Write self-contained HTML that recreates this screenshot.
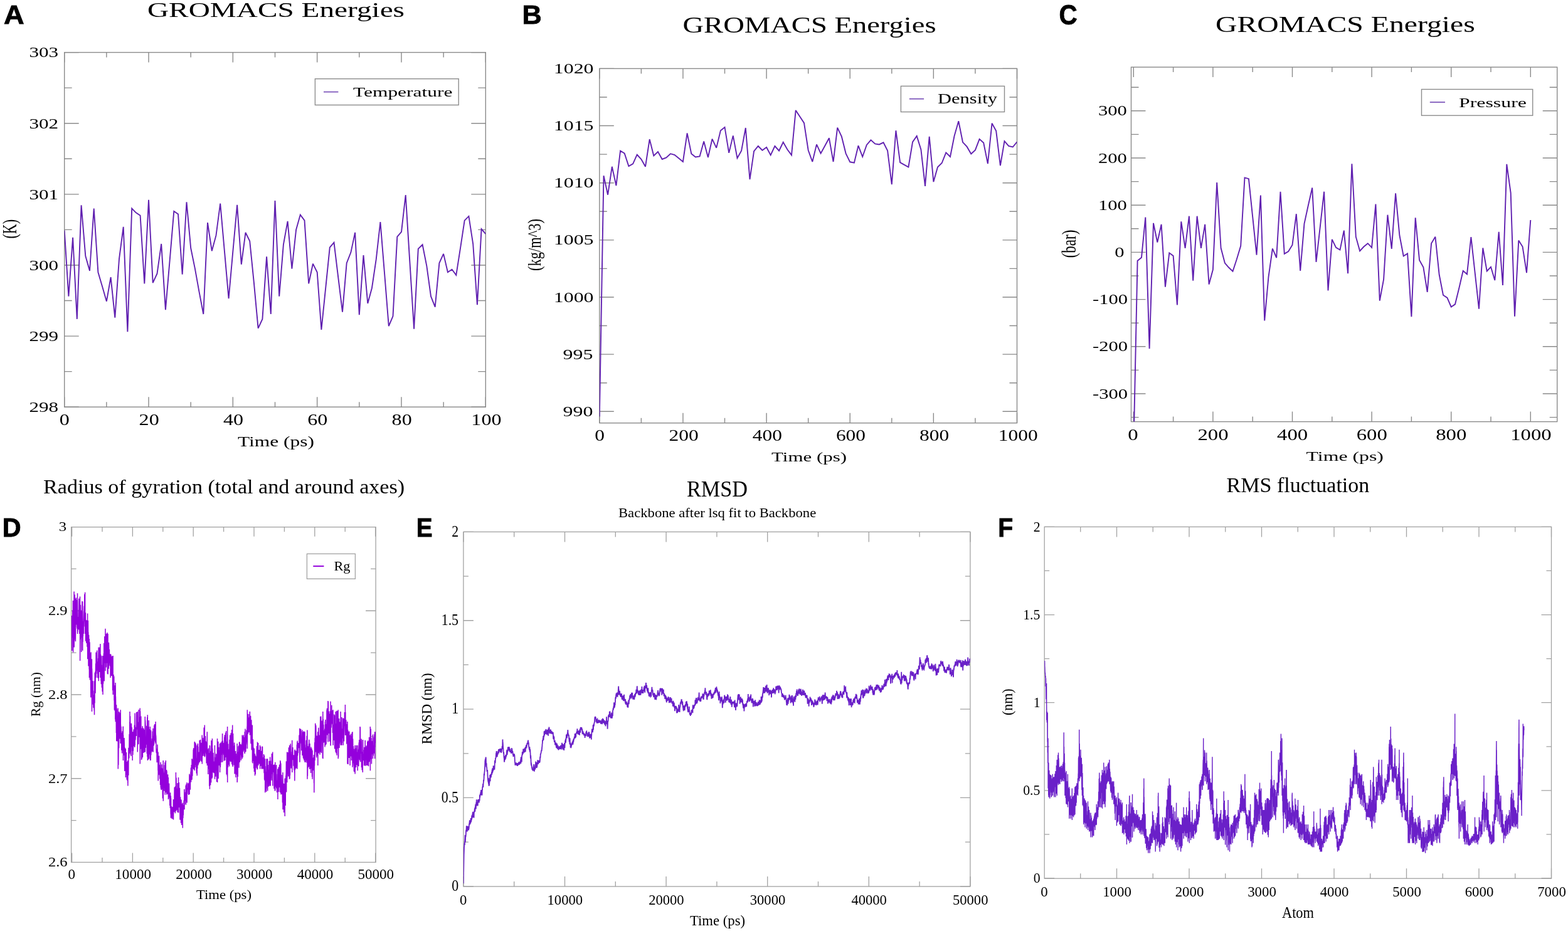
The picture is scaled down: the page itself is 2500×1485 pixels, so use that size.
<!DOCTYPE html>
<html><head><meta charset="utf-8"><title>GROMACS MD analysis</title><style>html,body{margin:0;padding:0;background:#fff;overflow:hidden}svg{display:block}</style></head><body>
<svg xmlns="http://www.w3.org/2000/svg" width="2500" height="1485" viewBox="0 0 2500 1485">
<rect width="100%" height="100%" fill="#fff"/>
<defs>
<clipPath id="clipA"><rect x="102.70" y="83.60" width="671.60" height="565.60"/></clipPath>
<clipPath id="clipB"><rect x="955.80" y="109.40" width="665.70" height="565.30"/></clipPath>
<clipPath id="clipC"><rect x="1803.50" y="107.10" width="679.20" height="565.50"/></clipPath>
<clipPath id="clipD"><rect x="113.60" y="840.70" width="485.50" height="534.70"/></clipPath>
<clipPath id="clipE"><rect x="738.90" y="848.40" width="808.00" height="565.60"/></clipPath>
<clipPath id="clipF"><rect x="1665.20" y="840.40" width="808.30" height="560.80"/></clipPath>
</defs>
<path d="M102.70 649.20V633.20M102.70 83.60V99.60M169.86 649.20V641.20M169.86 83.60V91.60M237.02 649.20V633.20M237.02 83.60V99.60M304.18 649.20V641.20M304.18 83.60V91.60M371.34 649.20V633.20M371.34 83.60V99.60M438.50 649.20V641.20M438.50 83.60V91.60M505.66 649.20V633.20M505.66 83.60V99.60M572.82 649.20V641.20M572.82 83.60V91.60M639.98 649.20V633.20M639.98 83.60V99.60M707.14 649.20V641.20M707.14 83.60V91.60M774.30 649.20V633.20M774.30 83.60V99.60M102.70 649.20H125.70M774.30 649.20H751.30M102.70 592.64H114.70M774.30 592.64H762.30M102.70 536.08H125.70M774.30 536.08H751.30M102.70 479.52H114.70M774.30 479.52H762.30M102.70 422.96H125.70M774.30 422.96H751.30M102.70 366.40H114.70M774.30 366.40H762.30M102.70 309.84H125.70M774.30 309.84H751.30M102.70 253.28H114.70M774.30 253.28H762.30M102.70 196.72H125.70M774.30 196.72H751.30M102.70 140.16H114.70M774.30 140.16H762.30M102.70 83.60H125.70M774.30 83.60H751.30" stroke="#8a8a8a" stroke-width="1.4" fill="none"/>
<rect x="102.70" y="83.60" width="671.60" height="565.60" stroke="#8a8a8a" stroke-width="1.4" fill="none"/>
<path d="M955.80 674.70V658.70M955.80 109.40V125.40M1022.37 674.70V666.70M1022.37 109.40V117.40M1088.94 674.70V658.70M1088.94 109.40V125.40M1155.51 674.70V666.70M1155.51 109.40V117.40M1222.08 674.70V658.70M1222.08 109.40V125.40M1288.65 674.70V666.70M1288.65 109.40V117.40M1355.22 674.70V658.70M1355.22 109.40V125.40M1421.79 674.70V666.70M1421.79 109.40V117.40M1488.36 674.70V658.70M1488.36 109.40V125.40M1554.93 674.70V666.70M1554.93 109.40V117.40M1621.50 674.70V658.70M1621.50 109.40V125.40M955.80 656.30H978.80M1621.50 656.30H1598.50M955.80 610.72H967.80M1621.50 610.72H1609.50M955.80 565.15H978.80M1621.50 565.15H1598.50M955.80 519.57H967.80M1621.50 519.57H1609.50M955.80 474.00H978.80M1621.50 474.00H1598.50M955.80 428.42H967.80M1621.50 428.42H1609.50M955.80 382.85H978.80M1621.50 382.85H1598.50M955.80 337.27H967.80M1621.50 337.27H1609.50M955.80 291.70H978.80M1621.50 291.70H1598.50M955.80 246.12H967.80M1621.50 246.12H1609.50M955.80 200.55H978.80M1621.50 200.55H1598.50M955.80 154.97H967.80M1621.50 154.97H1609.50M955.80 109.40H978.80M1621.50 109.40H1598.50" stroke="#8a8a8a" stroke-width="1.4" fill="none"/>
<rect x="955.80" y="109.40" width="665.70" height="565.30" stroke="#8a8a8a" stroke-width="1.4" fill="none"/>
<path d="M1807.30 672.60V656.60M1807.30 107.10V123.10M1870.60 672.60V664.60M1870.60 107.10V115.10M1933.90 672.60V656.60M1933.90 107.10V123.10M1997.20 672.60V664.60M1997.20 107.10V115.10M2060.50 672.60V656.60M2060.50 107.10V123.10M2123.80 672.60V664.60M2123.80 107.10V115.10M2187.10 672.60V656.60M2187.10 107.10V123.10M2250.40 672.60V664.60M2250.40 107.10V115.10M2313.70 672.60V656.60M2313.70 107.10V123.10M2377.00 672.60V664.60M2377.00 107.10V115.10M2440.30 672.60V656.60M2440.30 107.10V123.10M1803.50 665.60H1815.50M2482.70 665.60H2470.70M1803.50 628.00H1826.50M2482.70 628.00H2459.70M1803.50 590.40H1815.50M2482.70 590.40H2470.70M1803.50 552.80H1826.50M2482.70 552.80H2459.70M1803.50 515.20H1815.50M2482.70 515.20H2470.70M1803.50 477.60H1826.50M2482.70 477.60H2459.70M1803.50 440.00H1815.50M2482.70 440.00H2470.70M1803.50 402.40H1826.50M2482.70 402.40H2459.70M1803.50 364.80H1815.50M2482.70 364.80H2470.70M1803.50 327.20H1826.50M2482.70 327.20H2459.70M1803.50 289.60H1815.50M2482.70 289.60H2470.70M1803.50 252.00H1826.50M2482.70 252.00H2459.70M1803.50 214.40H1815.50M2482.70 214.40H2470.70M1803.50 176.80H1826.50M2482.70 176.80H2459.70M1803.50 139.20H1815.50M2482.70 139.20H2470.70" stroke="#8a8a8a" stroke-width="1.4" fill="none"/>
<rect x="1803.50" y="107.10" width="679.20" height="565.50" stroke="#8a8a8a" stroke-width="1.4" fill="none"/>
<path d="M114.60 1375.40V1360.40M114.60 840.70V855.70M163.00 1375.40V1367.90M163.00 840.70V848.20M211.40 1375.40V1360.40M211.40 840.70V855.70M259.80 1375.40V1367.90M259.80 840.70V848.20M308.20 1375.40V1360.40M308.20 840.70V855.70M356.60 1375.40V1367.90M356.60 840.70V848.20M405.00 1375.40V1360.40M405.00 840.70V855.70M453.40 1375.40V1367.90M453.40 840.70V848.20M501.80 1375.40V1360.40M501.80 840.70V855.70M550.20 1375.40V1367.90M550.20 840.70V848.20M598.60 1375.40V1360.40M598.60 840.70V855.70M113.60 1308.62H121.60M599.10 1308.62H591.10M113.60 1241.75H129.60M599.10 1241.75H583.10M113.60 1174.88H121.60M599.10 1174.88H591.10M113.60 1108.00H129.60M599.10 1108.00H583.10M113.60 1041.12H121.60M599.10 1041.12H591.10M113.60 974.25H129.60M599.10 974.25H583.10M113.60 907.37H121.60M599.10 907.37H591.10" stroke="#a2a2a2" stroke-width="1.3" fill="none"/>
<rect x="113.60" y="840.70" width="485.50" height="534.70" stroke="#a2a2a2" stroke-width="1.3" fill="none"/>
<path d="M738.90 1414.00V1398.00M738.90 848.40V864.40M819.70 1414.00V1406.00M819.70 848.40V856.40M900.50 1414.00V1398.00M900.50 848.40V864.40M981.30 1414.00V1406.00M981.30 848.40V856.40M1062.10 1414.00V1398.00M1062.10 848.40V864.40M1142.90 1414.00V1406.00M1142.90 848.40V856.40M1223.70 1414.00V1398.00M1223.70 848.40V864.40M1304.50 1414.00V1406.00M1304.50 848.40V856.40M1385.30 1414.00V1398.00M1385.30 848.40V864.40M1466.10 1414.00V1406.00M1466.10 848.40V856.40M1546.90 1414.00V1398.00M1546.90 848.40V864.40M738.90 1413.80H754.90M1546.90 1413.80H1530.90M738.90 1343.12H746.90M1546.90 1343.12H1538.90M738.90 1272.45H754.90M1546.90 1272.45H1530.90M738.90 1201.78H746.90M1546.90 1201.78H1538.90M738.90 1131.10H754.90M1546.90 1131.10H1530.90M738.90 1060.42H746.90M1546.90 1060.42H1538.90M738.90 989.75H754.90M1546.90 989.75H1530.90M738.90 919.08H746.90M1546.90 919.08H1538.90M738.90 848.40H754.90M1546.90 848.40H1530.90" stroke="#a2a2a2" stroke-width="1.3" fill="none"/>
<rect x="738.90" y="848.40" width="808.00" height="565.60" stroke="#a2a2a2" stroke-width="1.3" fill="none"/>
<path d="M1722.75 1401.20V1393.20M1722.75 840.40V848.40M1780.50 1401.20V1385.20M1780.50 840.40V856.40M1838.25 1401.20V1393.20M1838.25 840.40V848.40M1896.00 1401.20V1385.20M1896.00 840.40V856.40M1953.75 1401.20V1393.20M1953.75 840.40V848.40M2011.50 1401.20V1385.20M2011.50 840.40V856.40M2069.25 1401.20V1393.20M2069.25 840.40V848.40M2127.00 1401.20V1385.20M2127.00 840.40V856.40M2184.75 1401.20V1393.20M2184.75 840.40V848.40M2242.50 1401.20V1385.20M2242.50 840.40V856.40M2300.25 1401.20V1393.20M2300.25 840.40V848.40M2358.00 1401.20V1385.20M2358.00 840.40V856.40M2415.75 1401.20V1393.20M2415.75 840.40V848.40M2473.50 1401.20V1385.20M2473.50 840.40V856.40M1665.20 1401.00H1681.20M2473.50 1401.00H2457.50M1665.20 1330.92H1673.20M2473.50 1330.92H2465.50M1665.20 1260.85H1681.20M2473.50 1260.85H2457.50M1665.20 1190.78H1673.20M2473.50 1190.78H2465.50M1665.20 1120.70H1681.20M2473.50 1120.70H2457.50M1665.20 1050.62H1673.20M2473.50 1050.62H2465.50M1665.20 980.55H1681.20M2473.50 980.55H2457.50M1665.20 910.47H1673.20M2473.50 910.47H2465.50M1665.20 840.40H1681.20M2473.50 840.40H2457.50" stroke="#a2a2a2" stroke-width="1.3" fill="none"/>
<rect x="1665.20" y="840.40" width="808.30" height="560.80" stroke="#a2a2a2" stroke-width="1.3" fill="none"/>
<polyline points="102.7,367.5 109.4,472.7 116.1,378.8 122.8,508.9 129.6,327.4 136.3,408.3 143.0,432.0 149.7,332.5 156.4,434.3 163.1,456.9 169.9,480.7 176.6,442.2 183.3,506.7 190.0,412.8 196.7,361.9 203.4,529.3 210.2,332.5 216.9,339.3 223.6,343.8 230.3,452.4 237.0,318.9 243.7,451.2 250.5,436.5 257.2,389.0 263.9,494.2 270.6,416.2 277.3,337.0 284.0,341.5 290.7,437.7 297.5,322.3 304.2,395.8 310.9,428.6 317.6,465.9 324.3,501.0 331.0,355.1 337.8,400.3 344.5,375.4 351.2,324.5 357.9,400.3 364.6,476.1 371.3,401.5 378.1,326.8 384.8,421.8 391.5,370.9 398.2,384.5 404.9,451.2 411.6,523.6 418.4,508.9 425.1,409.4 431.8,501.0 438.5,320.0 445.2,472.7 451.9,390.2 458.6,352.8 465.4,428.6 472.1,366.4 478.8,342.6 485.5,351.7 492.2,452.4 498.9,420.7 505.7,434.3 512.4,525.9 519.1,460.3 525.8,394.7 532.5,386.8 539.2,442.2 546.0,497.6 552.7,419.6 559.4,402.6 566.1,370.9 572.8,502.1 579.5,407.1 586.3,484.0 593.0,459.2 599.7,413.9 606.4,354.0 613.1,436.5 619.8,520.2 626.5,504.4 633.3,377.7 640.0,369.8 646.7,311.0 653.4,418.4 660.1,524.8 666.8,396.9 673.6,390.2 680.3,424.1 687.0,472.7 693.7,489.7 700.4,419.6 707.1,404.9 713.9,434.3 720.6,429.7 727.3,438.8 734.0,395.8 740.7,351.7 747.4,344.9 754.2,389.0 760.9,486.3 767.6,365.3 774.3,373.2" fill="none" stroke="#6020b0" stroke-width="1.9" stroke-linejoin="miter" stroke-miterlimit="3" clip-path="url(#clipA)"/>
<polyline points="955.8,664.5 962.5,280.2 969.1,310.7 975.8,265.8 982.4,296.1 989.1,240.5 995.7,244.7 1002.4,265.1 1009.1,261.4 1015.7,246.7 1022.4,254.0 1029.0,265.8 1035.7,222.2 1042.3,248.5 1049.0,242.1 1055.7,254.0 1062.3,251.4 1069.0,245.2 1075.6,247.0 1082.3,252.5 1088.9,258.0 1095.6,212.4 1102.3,245.2 1108.9,250.5 1115.6,249.4 1122.2,225.5 1128.9,251.0 1135.5,221.7 1142.2,235.9 1148.9,208.2 1155.5,202.9 1162.2,243.9 1168.8,216.4 1175.5,252.3 1182.1,240.5 1188.8,204.0 1195.5,286.2 1202.1,241.2 1208.8,233.0 1215.4,239.7 1222.1,235.0 1228.7,247.4 1235.4,233.0 1242.1,240.5 1248.7,226.8 1255.4,238.5 1262.0,247.4 1268.7,175.9 1275.3,186.0 1282.0,196.2 1288.7,239.7 1295.3,258.0 1302.0,230.4 1308.6,244.7 1315.3,232.5 1321.9,220.2 1328.6,258.0 1335.2,203.6 1341.9,217.9 1348.6,244.8 1355.2,258.3 1361.9,259.6 1368.5,232.3 1375.2,250.0 1381.8,231.2 1388.5,223.3 1395.2,229.4 1401.8,230.4 1408.5,227.3 1415.1,240.3 1421.8,294.1 1428.4,208.2 1435.1,259.1 1441.8,262.9 1448.4,266.5 1455.1,226.4 1461.7,217.0 1468.4,238.5 1475.0,296.8 1481.7,217.9 1488.4,290.1 1495.0,266.5 1501.7,260.0 1508.3,243.4 1515.0,250.0 1521.6,216.8 1528.3,193.3 1535.0,226.8 1541.6,233.9 1548.3,245.4 1554.9,239.4 1561.6,221.9 1568.2,227.7 1574.9,261.1 1581.6,196.7 1588.2,208.8 1594.9,264.2 1601.5,225.2 1608.2,232.8 1614.8,234.5 1621.5,226.3" fill="none" stroke="#6020b0" stroke-width="1.9" stroke-linejoin="miter" stroke-miterlimit="3" clip-path="url(#clipB)"/>
<polyline points="1807.3,718.2 1813.6,416.0 1820.0,410.7 1826.3,346.5 1832.6,556.3 1839.0,355.9 1845.3,386.5 1851.6,357.9 1857.9,457.7 1864.3,403.5 1870.6,408.0 1876.9,486.4 1883.3,353.3 1889.6,395.9 1895.9,344.7 1902.2,447.7 1908.6,344.7 1914.9,395.9 1921.2,357.9 1927.6,453.6 1933.9,430.0 1940.2,291.0 1946.6,395.5 1952.9,419.5 1959.2,426.8 1965.5,432.7 1971.9,413.2 1978.2,392.4 1984.5,283.4 1990.9,285.2 1997.2,345.8 2003.5,406.6 2009.9,311.6 2016.2,511.4 2022.5,441.5 2028.9,396.5 2035.2,411.2 2041.5,305.7 2047.8,404.9 2054.2,401.1 2060.5,390.7 2066.8,341.2 2073.2,432.0 2079.5,356.8 2085.8,327.7 2092.2,299.5 2098.5,418.0 2104.8,361.9 2111.1,305.7 2117.5,463.4 2123.8,381.9 2130.1,394.9 2136.5,398.6 2142.8,367.7 2149.1,436.2 2155.4,261.2 2161.8,377.7 2168.1,400.3 2174.4,393.5 2180.8,388.2 2187.1,394.9 2193.4,325.5 2199.8,479.7 2206.1,445.6 2212.4,342.7 2218.8,397.0 2225.1,308.4 2231.4,375.3 2237.7,408.5 2244.1,404.5 2250.4,505.2 2256.7,347.4 2263.1,415.0 2269.4,426.4 2275.7,465.9 2282.1,388.2 2288.4,377.7 2294.7,438.3 2301.0,470.7 2307.4,474.9 2313.7,489.5 2320.0,485.3 2326.4,459.3 2332.7,432.0 2339.0,437.3 2345.4,378.2 2351.7,435.4 2358.0,492.6 2364.3,395.5 2370.7,432.5 2377.0,425.8 2383.3,447.1 2389.7,369.8 2396.0,455.0 2402.3,261.9 2408.7,307.8 2415.0,504.7 2421.3,383.6 2427.6,393.5 2434.0,435.2 2440.3,351.0" fill="none" stroke="#6020b0" stroke-width="1.9" stroke-linejoin="miter" stroke-miterlimit="3" clip-path="url(#clipC)"/>
<polyline points="114.6,982.1 114.8,1038.1 115.0,990.7 115.2,1002.5 115.4,1005.1 115.6,988.9 115.8,973.4 116.0,1017.2 116.2,1009.4 116.4,958.1 116.6,1040.4 116.8,1019.5 117.0,977.7 117.2,1015.5 117.4,981.6 117.6,989.9 117.8,1009.0 118.0,957.9 118.1,943.5 118.2,1032.4 118.2,1001.8 118.4,1021.1 118.6,1018.6 118.8,979.6 119.0,1007.4 119.2,948.6 119.4,982.0 119.6,995.5 119.8,954.9 120.0,982.8 120.2,1021.9 120.4,1023.2 120.6,1000.1 120.8,1000.7 121.0,962.9 121.2,957.6 121.4,953.4 121.6,992.7 121.8,996.4 122.0,968.2 122.2,957.0 122.4,985.3 122.6,986.0 122.8,977.3 123.0,1002.7 123.2,977.3 123.4,977.5 123.5,946.2 123.6,1010.9 123.6,959.2 123.8,983.0 124.0,1007.4 124.2,984.1 124.4,985.5 124.6,994.2 124.8,992.3 125.0,999.2 125.2,1000.8 125.4,1004.1 125.6,972.8 125.8,999.6 126.0,954.8 126.2,1001.5 126.4,964.1 126.6,995.4 126.8,1010.9 127.0,988.5 127.2,1003.5 127.4,956.4 127.5,951.6 127.6,978.7 127.6,1054.0 127.8,1021.6 128.0,970.7 128.2,1019.7 128.4,964.8 128.6,977.8 128.8,973.0 129.0,1001.5 129.2,1014.7 129.4,974.2 129.6,996.2 129.8,1040.1 130.0,992.7 130.2,980.7 130.4,1008.9 130.6,994.5 130.8,983.5 131.0,959.0 131.2,1017.2 131.4,986.5 131.6,959.6 131.6,998.6 131.7,1037.8 131.8,974.9 132.0,1024.0 132.2,1011.1 132.4,1014.8 132.6,991.1 132.8,1001.9 133.0,1009.4 133.2,1010.9 133.4,995.5 133.6,987.0 133.8,980.1 134.0,971.6 134.2,966.5 134.4,991.0 134.6,978.4 134.8,947.8 135.0,978.1 135.2,999.6 135.4,973.9 135.6,944.8 135.6,944.8 135.7,1010.9 135.8,977.3 136.0,995.8 136.2,987.0 136.4,977.2 136.6,1020.8 136.8,1022.8 137.0,988.8 137.2,1007.8 137.4,1001.7 137.6,1011.0 137.8,1025.8 138.0,1015.6 138.2,1003.3 138.4,990.7 138.6,989.4 138.8,1006.6 139.0,1031.8 139.2,1016.7 139.4,1013.7 139.6,1019.6 139.6,978.5 139.7,1051.3 139.8,1017.6 140.0,1030.2 140.2,1000.3 140.4,989.8 140.6,1019.2 140.8,1008.3 141.0,1062.4 141.2,1032.2 141.4,1033.1 141.6,1012.8 141.8,1047.8 142.0,1034.6 142.2,1067.4 142.3,1018.9 142.4,1064.9 142.4,1080.9 142.6,1039.1 142.8,1062.1 143.0,1024.2 143.2,1046.7 143.4,1084.4 143.6,1078.3 143.8,1068.8 144.0,1067.0 144.2,1041.7 144.4,1044.6 144.6,1078.5 144.8,1112.5 145.0,1040.2 145.2,1093.7 145.4,1095.5 145.6,1105.4 145.8,1067.6 146.0,1077.1 146.2,1092.1 146.4,1051.3 146.4,1069.5 146.5,1134.9 146.6,1066.4 146.8,1075.6 147.0,1094.6 147.2,1105.1 147.4,1097.6 147.6,1100.7 147.8,1086.4 148.0,1086.9 148.2,1123.8 148.4,1102.1 148.6,1102.6 148.8,1122.1 149.0,1128.1 149.2,1129.2 149.4,1115.0 149.6,1108.3 149.8,1114.8 150.0,1113.9 150.2,1133.5 150.4,1117.5 150.4,1086.3 150.5,1140.2 150.6,1119.3 150.8,1105.7 151.0,1121.5 151.2,1073.3 151.4,1099.5 151.6,1100.5 151.8,1071.6 152.0,1105.7 152.2,1076.9 152.4,1072.9 152.6,1058.2 152.8,1077.3 153.0,1065.7 153.1,1040.5 153.2,1054.1 153.2,1080.9 153.4,1063.2 153.6,1068.5 153.8,1074.8 154.0,1063.0 154.2,1048.7 154.4,1053.5 154.6,1037.6 154.8,1050.9 155.0,1069.6 155.2,1066.1 155.4,1058.5 155.6,1055.3 155.8,1081.3 156.0,1063.7 156.2,1072.4 156.4,1065.2 156.6,1050.0 156.8,1082.0 157.0,1041.3 157.2,1032.4 157.2,1041.6 157.3,1086.3 157.4,1052.6 157.6,1047.7 157.8,1049.9 158.0,1048.8 158.2,1071.9 158.4,1057.7 158.6,1061.7 158.8,1032.6 159.0,1043.2 159.2,1071.4 159.4,1037.1 159.6,1072.0 159.8,1038.8 159.9,1027.0 160.0,1080.9 160.0,1059.2 160.2,1043.2 160.4,1060.0 160.6,1044.5 160.8,1055.4 161.0,1086.3 161.2,1055.7 161.4,1091.2 161.6,1056.6 161.8,1046.3 162.0,1067.3 162.2,1060.6 162.4,1096.8 162.6,1083.5 162.8,1090.0 163.0,1082.2 163.2,1103.2 163.4,1087.3 163.6,1084.1 163.8,1062.2 163.9,1045.9 164.0,1060.5 164.0,1107.9 164.2,1077.1 164.4,1089.2 164.6,1089.3 164.8,1051.6 165.0,1075.3 165.2,1067.4 165.4,1042.3 165.6,1069.0 165.8,1025.7 166.0,1060.7 166.2,1086.5 166.4,1033.7 166.6,1050.3 166.8,1015.1 167.0,1032.3 167.2,1057.8 167.4,1022.9 167.6,1039.4 167.8,1031.4 168.0,1002.8 168.0,1029.5 168.1,1070.2 168.2,1040.4 168.4,1046.2 168.6,1060.2 168.8,1053.2 169.0,1027.9 169.2,1064.4 169.4,1061.7 169.6,1010.8 169.8,1051.7 170.0,1054.9 170.2,1057.7 170.4,1050.4 170.6,1017.5 170.8,1036.4 171.0,1008.9 171.2,1039.1 171.4,1074.8 171.6,1054.7 171.8,1057.8 172.0,1010.9 172.0,1034.1 172.1,1075.6 172.2,1026.5 172.4,1026.9 172.6,1048.1 172.8,1033.9 173.0,1037.7 173.2,1066.7 173.4,1024.8 173.6,1031.2 173.8,1044.2 174.0,1051.2 174.2,1051.7 174.4,1035.7 174.6,1057.9 174.8,1054.7 175.0,1061.6 175.2,1045.3 175.4,1061.9 175.6,1062.5 175.8,1053.8 176.0,1059.6 176.0,1043.2 176.1,1080.9 176.2,1056.8 176.4,1078.3 176.6,1043.6 176.8,1048.0 177.0,1045.2 177.2,1061.7 177.4,1058.5 177.6,1062.5 177.8,1078.1 178.0,1047.0 178.2,1058.2 178.4,1067.6 178.6,1053.9 178.8,1077.7 179.0,1078.0 179.2,1062.6 179.4,1046.2 179.6,1101.2 179.8,1083.7 180.0,1083.8 180.1,1045.9 180.2,1107.9 180.2,1079.4 180.4,1080.2 180.6,1096.6 180.8,1084.3 181.0,1075.9 181.2,1100.9 181.4,1092.0 181.6,1079.9 181.8,1079.8 182.0,1117.2 182.2,1110.3 182.4,1132.6 182.6,1094.8 182.8,1093.2 183.0,1114.9 183.2,1133.7 183.4,1122.5 183.6,1121.8 183.8,1147.6 184.0,1106.0 184.1,1089.0 184.2,1099.6 184.2,1151.0 184.4,1110.8 184.6,1121.1 184.8,1136.7 185.0,1152.1 185.2,1143.4 185.4,1168.9 185.6,1124.2 185.8,1182.3 186.0,1129.4 186.2,1175.5 186.4,1131.6 186.6,1163.4 186.8,1159.6 187.0,1173.6 187.2,1182.4 187.4,1161.7 187.6,1168.2 187.8,1178.9 188.0,1141.3 188.2,1129.5 188.2,1158.4 188.3,1226.5 188.4,1134.7 188.6,1176.1 188.8,1220.2 189.0,1192.1 189.2,1152.7 189.4,1155.9 189.6,1193.2 189.8,1160.0 190.0,1135.2 190.2,1147.3 190.4,1146.3 190.6,1146.7 190.8,1178.5 191.0,1166.1 191.2,1137.3 191.4,1153.6 191.6,1143.0 191.8,1141.7 192.0,1136.8 192.2,1185.1 192.2,1132.2 192.3,1186.1 192.4,1155.8 192.6,1170.3 192.8,1175.9 193.0,1158.7 193.2,1173.6 193.4,1175.1 193.6,1171.7 193.8,1196.7 194.0,1175.3 194.2,1169.0 194.4,1183.3 194.6,1201.4 194.8,1191.1 195.0,1170.6 195.2,1166.3 195.4,1166.6 195.6,1171.9 195.8,1188.8 196.0,1196.9 196.2,1158.8 196.3,1159.1 196.4,1213.0 196.4,1186.9 196.6,1172.6 196.8,1200.2 197.0,1205.0 197.2,1182.2 197.4,1188.5 197.6,1183.0 197.8,1203.4 198.0,1177.1 198.2,1185.5 198.4,1193.2 198.6,1220.7 198.8,1230.0 199.0,1207.4 199.2,1192.4 199.4,1211.2 199.6,1200.4 199.8,1219.2 200.0,1200.6 200.2,1211.6 200.3,1194.2 200.4,1240.0 200.4,1217.4 200.6,1224.9 200.8,1218.4 201.0,1235.9 201.2,1222.7 201.4,1200.1 201.6,1234.2 201.8,1220.5 202.0,1217.0 202.2,1243.6 202.4,1215.1 202.6,1228.5 202.8,1220.4 203.0,1245.0 203.2,1226.3 203.4,1234.0 203.6,1216.7 203.8,1249.2 203.8,1213.0 203.9,1253.5 204.0,1216.8 204.2,1236.0 204.4,1234.8 204.6,1232.6 204.8,1236.7 205.0,1192.8 205.2,1210.3 205.4,1202.6 205.6,1202.7 205.8,1209.2 206.0,1190.0 206.2,1171.1 206.4,1178.6 206.6,1202.1 206.8,1151.6 207.0,1169.3 207.0,1134.9 207.1,1199.5 207.2,1150.9 207.4,1188.5 207.6,1142.3 207.8,1165.8 208.0,1170.6 208.2,1175.7 208.4,1204.1 208.6,1200.6 208.8,1161.2 209.0,1206.1 209.2,1161.6 209.4,1153.8 209.6,1160.0 209.8,1185.8 210.0,1191.5 210.2,1160.2 210.4,1192.1 210.6,1183.9 210.8,1197.7 211.0,1184.8 211.1,1167.2 211.2,1213.0 211.2,1200.7 211.4,1195.1 211.6,1171.6 211.8,1203.9 212.0,1186.7 212.2,1192.1 212.4,1197.8 212.6,1167.1 212.8,1177.5 213.0,1166.4 213.2,1163.4 213.4,1178.2 213.6,1177.9 213.8,1190.1 214.0,1189.6 214.2,1169.0 214.4,1156.4 214.6,1191.9 214.8,1190.7 215.0,1162.5 215.1,1137.5 215.2,1150.1 215.2,1188.8 215.4,1157.4 215.6,1167.7 215.8,1180.5 216.0,1178.5 216.2,1170.8 216.4,1160.7 216.6,1167.2 216.8,1160.0 217.0,1166.2 217.2,1163.6 217.4,1173.9 217.6,1135.9 217.8,1160.1 218.0,1161.2 218.2,1147.1 218.4,1163.5 218.6,1148.4 218.8,1155.2 219.0,1161.9 219.2,1134.9 219.2,1162.7 219.3,1199.5 219.4,1157.2 219.6,1188.3 219.8,1172.0 220.0,1174.8 220.2,1173.5 220.4,1156.0 220.6,1151.8 220.8,1187.1 221.0,1162.9 221.2,1133.1 221.4,1131.9 221.6,1176.1 221.8,1155.3 222.0,1170.4 222.2,1159.8 222.4,1163.2 222.6,1168.9 222.8,1143.6 223.0,1173.1 223.2,1198.0 223.2,1129.5 223.3,1218.4 223.4,1191.0 223.6,1134.2 223.8,1144.7 224.0,1146.1 224.2,1170.9 224.4,1194.8 224.6,1183.8 224.8,1142.4 225.0,1179.2 225.2,1193.9 225.4,1170.8 225.6,1212.0 225.8,1168.7 226.0,1200.1 226.2,1210.4 226.4,1161.4 226.6,1177.0 226.8,1190.7 227.0,1208.3 227.2,1159.1 227.3,1159.1 227.4,1207.6 227.4,1190.5 227.6,1186.2 227.8,1176.0 228.0,1169.6 228.2,1173.2 228.4,1175.7 228.6,1161.4 228.8,1201.1 229.0,1162.3 229.2,1171.4 229.4,1167.3 229.6,1170.3 229.8,1177.1 230.0,1163.9 230.2,1171.0 230.4,1199.9 230.6,1189.4 230.8,1168.3 231.0,1186.1 231.2,1159.6 231.3,1142.9 231.4,1199.5 231.4,1174.9 231.6,1148.9 231.8,1153.5 232.0,1158.0 232.2,1192.9 232.4,1176.6 232.6,1182.3 232.8,1175.9 233.0,1179.9 233.2,1181.2 233.4,1187.7 233.6,1177.2 233.8,1157.8 234.0,1160.2 234.2,1197.9 234.4,1202.2 234.6,1186.4 234.8,1144.0 235.0,1207.1 235.2,1182.9 235.3,1140.2 235.4,1175.3 235.4,1213.0 235.6,1177.6 235.8,1170.5 236.0,1211.9 236.2,1210.5 236.4,1159.3 236.6,1176.1 236.8,1185.5 237.0,1203.3 237.2,1148.9 237.4,1197.6 237.6,1210.4 237.8,1176.7 238.0,1182.0 238.2,1203.6 238.4,1189.7 238.6,1162.9 238.8,1166.3 239.0,1169.2 239.2,1164.1 239.4,1159.1 239.4,1185.9 239.5,1213.0 239.6,1179.4 239.8,1188.3 240.0,1164.5 240.0,1198.0 240.1,1213.0 240.2,1211.7 240.4,1190.7 240.6,1165.0 240.8,1204.5 241.0,1185.6 241.2,1200.4 241.4,1181.2 241.6,1189.5 241.8,1184.3 242.0,1185.2 242.2,1198.5 242.4,1178.1 242.6,1186.1 242.8,1186.3 243.0,1180.2 243.2,1167.0 243.4,1186.4 243.4,1167.2 243.5,1199.5 243.6,1165.7 243.8,1166.8 244.0,1176.0 244.0,1161.8 244.1,1199.5 244.2,1184.5 244.4,1188.3 244.6,1187.3 244.8,1184.3 245.0,1173.9 245.2,1189.4 245.4,1173.7 245.6,1187.2 245.8,1157.1 246.0,1165.1 246.2,1168.3 246.4,1173.4 246.6,1155.0 246.8,1180.3 247.0,1181.4 247.2,1178.8 247.4,1165.4 247.6,1184.0 247.8,1163.9 248.0,1177.4 248.1,1151.0 248.2,1186.1 248.2,1169.3 248.4,1172.4 248.6,1173.7 248.8,1177.7 249.0,1192.0 249.2,1198.3 249.4,1201.1 249.6,1198.3 249.8,1198.5 250.0,1198.9 250.2,1216.3 250.4,1194.2 250.6,1194.6 250.8,1205.1 251.0,1187.6 251.2,1207.1 251.4,1211.8 251.6,1202.6 251.8,1210.7 252.0,1229.2 252.1,1199.5 252.2,1219.6 252.2,1245.4 252.4,1224.1 252.6,1236.7 252.8,1216.9 253.0,1211.1 253.2,1225.3 253.4,1231.7 253.6,1205.4 253.8,1235.7 254.0,1224.8 254.2,1224.3 254.4,1219.7 254.6,1228.4 254.8,1242.4 255.0,1238.0 255.2,1241.8 255.4,1229.0 255.6,1251.9 255.8,1248.9 256.0,1235.0 256.2,1215.7 256.2,1215.7 256.3,1256.1 256.4,1237.0 256.6,1258.4 256.8,1236.6 257.0,1225.0 257.2,1260.1 257.4,1230.6 257.6,1245.8 257.8,1250.2 258.0,1219.3 258.2,1242.4 258.4,1258.7 258.6,1236.6 258.8,1252.1 259.0,1242.1 259.2,1259.5 259.4,1273.4 259.6,1225.4 259.8,1239.4 260.0,1251.7 260.2,1234.0 260.2,1213.0 260.3,1277.7 260.4,1230.4 260.6,1238.6 260.8,1239.7 261.0,1232.8 261.2,1249.2 261.4,1256.9 261.6,1255.4 261.8,1253.8 262.0,1261.7 262.2,1220.2 262.4,1239.9 262.6,1244.3 262.8,1249.2 263.0,1216.1 263.2,1267.8 263.4,1226.8 263.6,1243.6 263.8,1250.1 264.0,1254.6 264.2,1229.0 264.3,1213.0 264.4,1264.2 264.4,1231.7 264.6,1245.3 264.8,1249.1 265.0,1254.2 265.2,1242.3 265.4,1235.1 265.6,1228.1 265.8,1267.5 266.0,1230.0 266.2,1256.1 266.4,1251.9 266.6,1258.3 266.8,1261.3 267.0,1266.4 267.2,1251.7 267.4,1257.5 267.6,1235.3 267.8,1255.6 268.0,1247.1 268.2,1255.6 268.3,1240.0 268.4,1270.2 268.4,1275.0 268.6,1260.7 268.8,1271.7 269.0,1260.7 269.2,1268.0 269.4,1261.6 269.6,1249.5 269.8,1261.6 270.0,1267.4 270.2,1273.0 270.4,1273.0 270.6,1273.2 270.8,1285.0 271.0,1283.4 271.2,1275.0 271.4,1288.7 271.6,1264.2 271.8,1280.5 272.0,1283.3 272.2,1298.7 272.3,1269.6 272.4,1282.1 272.4,1304.7 272.6,1273.4 272.8,1289.4 273.0,1304.0 273.2,1286.1 273.4,1287.4 273.6,1286.6 273.8,1289.2 274.0,1301.1 274.2,1305.9 274.4,1293.7 274.6,1288.6 274.8,1306.3 275.0,1290.8 275.2,1290.7 275.4,1287.1 275.6,1287.7 275.8,1292.9 276.0,1288.4 276.2,1294.9 276.4,1275.0 276.4,1292.1 276.5,1307.4 276.6,1295.0 276.8,1284.7 277.0,1285.0 277.2,1288.2 277.4,1285.0 277.6,1284.0 277.8,1295.2 278.0,1267.1 278.2,1255.7 278.4,1286.7 278.6,1272.7 278.8,1293.1 279.0,1271.9 279.2,1254.7 279.4,1297.3 279.6,1275.1 279.8,1260.4 280.0,1254.0 280.2,1274.1 280.4,1251.9 280.4,1231.9 280.5,1293.9 280.6,1270.0 280.8,1283.3 281.0,1240.5 281.2,1258.2 281.4,1272.4 281.6,1292.3 281.8,1280.3 282.0,1257.7 282.2,1289.4 282.4,1259.9 282.6,1263.3 282.8,1272.4 283.0,1248.9 283.2,1295.7 283.4,1286.1 283.6,1270.8 283.8,1258.6 284.0,1249.6 284.2,1273.9 284.4,1279.2 284.5,1240.0 284.6,1296.6 284.6,1263.1 284.8,1267.5 285.0,1280.0 285.2,1272.1 285.4,1248.0 285.6,1284.9 285.8,1280.2 286.0,1288.0 286.2,1269.2 286.4,1256.7 286.6,1265.8 286.8,1286.8 287.0,1306.7 287.2,1307.5 287.4,1290.5 287.6,1271.3 287.8,1285.6 288.0,1295.6 288.2,1296.6 288.4,1294.2 288.5,1275.0 288.6,1308.1 288.6,1312.7 288.8,1285.2 289.0,1276.0 289.2,1286.4 289.4,1283.8 289.6,1316.0 289.8,1295.1 290.0,1282.2 290.2,1304.8 290.4,1309.6 290.6,1299.7 290.8,1301.8 291.0,1311.5 291.2,1306.4 291.2,1280.4 291.3,1320.8 291.4,1291.2 291.6,1303.4 291.8,1305.0 292.0,1296.8 292.2,1300.3 292.4,1295.3 292.6,1285.1 292.8,1284.1 293.0,1289.6 293.2,1276.5 293.4,1290.6 293.6,1289.1 293.8,1259.7 293.9,1258.8 294.0,1274.2 294.0,1291.2 294.2,1267.6 294.4,1268.1 294.6,1274.5 294.8,1271.2 295.0,1277.1 295.2,1274.5 295.4,1274.4 295.6,1263.6 295.8,1266.9 296.0,1282.4 296.2,1252.7 296.4,1283.7 296.6,1262.9 296.8,1277.8 297.0,1250.6 297.2,1262.5 297.4,1273.3 297.6,1266.5 297.8,1273.7 298.0,1248.1 298.0,1256.3 298.1,1280.4 298.2,1258.4 298.4,1256.9 298.6,1266.6 298.8,1265.5 299.0,1259.7 299.2,1257.7 299.4,1256.8 299.6,1259.5 299.8,1249.6 300.0,1256.9 300.2,1255.5 300.4,1251.3 300.6,1250.3 300.8,1267.9 301.0,1248.6 301.2,1257.1 301.4,1264.9 301.6,1258.7 301.8,1251.6 302.0,1234.6 302.0,1259.7 302.1,1266.9 302.2,1236.9 302.4,1237.4 302.6,1243.6 302.8,1244.0 303.0,1243.9 303.2,1259.7 303.4,1257.3 303.6,1240.8 303.8,1242.2 304.0,1230.7 304.2,1240.4 304.4,1224.4 304.6,1247.6 304.8,1229.3 305.0,1237.7 305.2,1219.9 305.4,1242.7 305.6,1234.6 305.8,1244.1 306.0,1227.3 306.0,1210.3 306.1,1242.7 306.2,1211.0 306.4,1217.5 306.6,1211.9 306.8,1237.8 307.0,1215.6 307.2,1213.2 307.4,1225.7 307.6,1221.4 307.8,1222.9 308.0,1211.3 308.2,1195.9 308.4,1199.7 308.6,1193.2 308.8,1227.3 309.0,1222.3 309.2,1206.3 309.4,1217.2 309.6,1216.9 309.8,1215.5 310.0,1213.4 310.1,1183.4 310.2,1229.2 310.2,1217.7 310.4,1207.9 310.6,1184.1 310.8,1184.3 311.0,1224.0 311.2,1215.8 311.4,1185.1 311.6,1211.1 311.8,1197.8 312.0,1202.4 312.2,1186.2 312.4,1220.2 312.6,1209.4 312.8,1221.5 313.0,1225.5 313.2,1228.5 313.4,1233.6 313.6,1216.0 313.8,1215.4 314.0,1204.3 314.1,1188.8 314.2,1219.8 314.2,1237.3 314.4,1208.9 314.6,1196.1 314.8,1225.9 315.0,1218.8 315.2,1186.6 315.4,1186.2 315.6,1205.0 315.8,1191.0 316.0,1220.5 316.2,1207.6 316.4,1211.2 316.6,1214.5 316.8,1218.0 317.0,1199.6 317.2,1208.5 317.4,1203.8 317.6,1208.6 317.8,1205.3 318.0,1213.0 318.2,1180.7 318.2,1203.6 318.3,1215.7 318.4,1193.5 318.6,1199.3 318.8,1186.4 319.0,1201.1 319.2,1213.5 319.4,1191.1 319.6,1179.7 319.8,1196.4 320.0,1191.6 320.2,1197.0 320.4,1190.2 320.6,1197.7 320.8,1184.8 321.0,1214.8 321.2,1193.7 321.4,1202.5 321.6,1205.4 321.8,1194.1 322.0,1201.5 322.2,1192.6 322.2,1172.6 322.3,1218.4 322.4,1189.4 322.6,1191.6 322.8,1200.1 323.0,1176.7 323.2,1180.6 323.4,1181.2 323.6,1183.7 323.8,1205.8 324.0,1189.4 324.2,1185.0 324.4,1190.4 324.6,1202.2 324.8,1176.9 325.0,1200.5 325.2,1160.6 325.4,1172.9 325.6,1205.1 325.8,1205.7 326.0,1186.0 326.2,1176.6 326.3,1156.4 326.4,1207.6 326.4,1194.6 326.6,1177.7 326.8,1206.2 327.0,1201.7 327.2,1196.4 327.4,1173.9 327.6,1200.6 327.8,1183.7 328.0,1184.5 328.2,1182.4 328.4,1187.4 328.6,1197.0 328.8,1202.7 329.0,1203.4 329.2,1217.5 329.4,1187.2 329.6,1210.0 329.8,1183.7 330.0,1191.3 330.2,1177.5 330.3,1167.2 330.4,1221.1 330.4,1214.0 330.6,1201.3 330.8,1200.9 331.0,1198.5 331.2,1216.5 331.4,1195.3 331.6,1211.4 331.8,1235.1 332.0,1205.5 332.2,1198.8 332.4,1193.4 332.6,1226.6 332.8,1215.1 333.0,1201.9 333.2,1201.8 333.4,1218.9 333.6,1201.3 333.8,1253.8 334.0,1219.2 334.2,1220.9 334.3,1188.8 334.4,1223.4 334.4,1258.8 334.6,1189.6 334.8,1195.9 335.0,1216.0 335.2,1221.7 335.4,1198.2 335.6,1252.4 335.8,1228.4 336.0,1243.1 336.2,1240.0 336.4,1213.7 336.6,1248.3 336.8,1218.5 337.0,1181.8 337.2,1181.1 337.4,1214.1 337.6,1228.6 337.8,1213.8 338.0,1241.8 338.2,1205.9 338.4,1178.0 338.4,1220.1 338.5,1240.0 338.6,1223.3 338.8,1193.7 339.0,1216.6 339.2,1217.8 339.4,1230.2 339.6,1232.3 339.8,1228.8 340.0,1200.7 340.2,1225.2 340.4,1230.8 340.6,1214.5 340.8,1226.1 341.0,1226.6 341.2,1233.3 341.4,1216.4 341.6,1222.8 341.8,1218.9 342.0,1217.2 342.2,1207.3 342.4,1211.8 342.4,1188.8 342.5,1242.7 342.6,1199.9 342.8,1213.6 343.0,1227.1 343.2,1226.1 343.4,1228.1 343.6,1214.3 343.8,1238.7 344.0,1208.3 344.2,1228.6 344.4,1222.7 344.6,1202.6 344.8,1203.1 345.0,1228.4 345.2,1215.8 345.4,1219.9 345.6,1246.9 345.8,1225.3 346.0,1216.9 346.2,1228.5 346.4,1202.9 346.5,1178.0 346.6,1248.1 346.6,1210.9 346.8,1222.4 347.0,1198.8 347.2,1213.1 347.4,1210.1 347.6,1215.1 347.8,1182.8 348.0,1241.9 348.2,1211.1 348.4,1221.1 348.6,1195.8 348.8,1191.7 349.0,1212.0 349.2,1206.7 349.4,1220.6 349.6,1198.0 349.8,1197.2 350.0,1215.0 350.2,1219.5 350.4,1221.9 350.5,1186.1 350.6,1209.2 350.6,1231.9 350.8,1212.1 351.0,1198.0 351.2,1223.8 351.4,1220.8 351.6,1219.6 351.8,1184.6 352.0,1215.1 352.2,1194.0 352.4,1208.6 352.6,1207.0 352.8,1216.1 353.0,1197.5 353.2,1194.8 353.4,1185.6 353.6,1182.6 353.8,1204.0 354.0,1184.5 354.2,1203.5 354.4,1189.5 354.6,1169.9 354.6,1186.5 354.7,1215.7 354.8,1205.6 355.0,1204.3 355.2,1181.4 355.4,1191.5 355.6,1193.4 355.8,1201.6 356.0,1184.7 356.2,1188.5 356.4,1192.1 356.6,1201.7 356.8,1204.0 357.0,1187.2 357.2,1213.8 357.4,1198.3 357.6,1184.3 357.8,1175.8 358.0,1187.8 358.2,1172.3 358.4,1195.4 358.6,1172.6 358.6,1199.6 358.7,1213.0 358.8,1208.9 359.0,1200.7 359.2,1172.7 359.4,1191.8 359.6,1206.3 359.8,1168.6 360.0,1184.4 360.2,1208.1 360.4,1199.4 360.6,1165.9 360.8,1190.3 361.0,1200.5 361.2,1235.6 361.4,1192.3 361.6,1182.8 361.8,1207.7 362.0,1210.4 362.2,1216.6 362.4,1238.2 362.6,1203.1 362.6,1159.1 362.7,1248.1 362.8,1171.6 363.0,1204.8 363.2,1203.7 363.4,1223.9 363.6,1220.0 363.8,1186.4 364.0,1216.4 364.2,1219.7 364.4,1196.4 364.6,1216.3 364.8,1201.7 365.0,1201.2 365.2,1195.3 365.4,1209.4 365.6,1222.4 365.8,1199.1 366.0,1179.8 366.2,1191.9 366.4,1187.2 366.6,1197.3 366.7,1172.6 366.8,1213.0 366.8,1191.7 367.0,1213.6 367.2,1201.9 367.4,1214.4 367.6,1183.7 367.8,1189.7 368.0,1215.6 368.2,1169.2 368.4,1193.8 368.6,1169.6 368.8,1213.9 369.0,1170.2 369.2,1186.5 369.4,1188.2 369.6,1163.9 369.8,1219.2 370.0,1187.6 370.2,1218.0 370.4,1178.0 370.6,1164.1 370.7,1156.4 370.8,1194.0 370.8,1221.1 371.0,1194.8 371.2,1223.0 371.4,1176.6 371.6,1169.9 371.8,1185.6 372.0,1203.1 372.2,1208.4 372.4,1189.7 372.6,1197.2 372.8,1211.7 373.0,1220.6 373.2,1198.2 373.4,1209.6 373.6,1184.4 373.8,1197.9 374.0,1217.3 374.0,1188.8 374.1,1234.6 374.2,1212.2 374.4,1210.3 374.6,1234.2 374.8,1209.3 375.0,1198.5 375.2,1216.7 375.4,1216.9 375.6,1197.9 375.8,1229.1 376.0,1240.0 376.2,1206.3 376.4,1202.1 376.6,1214.4 376.8,1235.4 377.0,1207.3 377.2,1204.8 377.4,1207.1 377.6,1221.0 377.8,1220.9 378.0,1214.7 378.1,1186.1 378.2,1248.1 378.2,1237.5 378.4,1245.5 378.6,1206.2 378.8,1230.8 379.0,1217.8 379.2,1239.1 379.4,1199.3 379.6,1206.3 379.8,1211.6 380.0,1190.5 380.2,1205.7 380.4,1216.4 380.6,1189.3 380.8,1207.3 381.0,1224.7 381.2,1197.6 381.4,1193.8 381.6,1183.7 381.8,1200.3 382.0,1185.6 382.1,1183.4 382.2,1204.7 382.2,1215.7 382.4,1214.2 382.6,1204.0 382.8,1191.3 383.0,1204.2 383.2,1193.4 383.4,1186.8 383.6,1192.2 383.8,1198.8 384.0,1192.7 384.2,1200.9 384.4,1212.7 384.6,1201.0 384.8,1202.0 385.0,1187.5 385.2,1207.1 385.4,1196.9 385.6,1203.2 385.8,1184.6 386.0,1194.6 386.2,1172.6 386.2,1172.6 386.3,1210.3 386.4,1187.7 386.6,1182.4 386.8,1180.4 387.0,1208.1 387.2,1174.4 387.4,1188.2 387.6,1187.9 387.8,1194.4 388.0,1198.8 388.2,1172.3 388.4,1182.6 388.6,1180.7 388.8,1194.2 389.0,1196.2 389.2,1182.6 389.4,1181.0 389.6,1176.1 389.8,1189.2 390.0,1201.4 390.2,1188.6 390.2,1167.2 390.3,1202.2 390.4,1176.9 390.6,1174.2 390.8,1174.1 391.0,1162.4 391.2,1199.5 391.4,1179.4 391.6,1173.5 391.8,1199.1 392.0,1178.2 392.2,1194.0 392.4,1177.0 392.6,1187.6 392.8,1172.2 393.0,1164.6 393.2,1175.2 393.4,1179.0 393.6,1184.1 393.8,1169.1 394.0,1160.6 394.2,1157.4 394.3,1132.2 394.4,1194.2 394.4,1168.2 394.6,1154.5 394.8,1156.8 395.0,1170.2 395.2,1170.2 395.4,1168.3 395.6,1149.1 395.8,1138.8 396.0,1163.1 396.2,1160.4 396.4,1153.2 396.6,1160.6 396.8,1168.3 397.0,1154.4 397.2,1161.3 397.4,1144.3 397.6,1152.9 397.8,1145.7 398.0,1138.8 398.2,1158.6 398.3,1134.9 398.4,1135.4 398.4,1172.6 398.6,1155.5 398.8,1166.4 399.0,1163.9 399.2,1142.9 399.4,1165.5 399.6,1141.8 399.8,1154.6 400.0,1185.8 400.2,1171.1 400.4,1186.4 400.6,1157.1 400.8,1148.2 401.0,1164.6 401.2,1195.7 401.4,1192.3 401.6,1196.5 401.8,1179.5 402.0,1182.0 402.2,1181.7 402.3,1156.4 402.4,1216.0 402.4,1215.7 402.6,1189.7 402.8,1217.4 403.0,1188.9 403.2,1213.9 403.4,1179.2 403.6,1189.5 403.8,1203.3 404.0,1192.2 404.2,1196.3 404.4,1201.3 404.6,1198.2 404.8,1225.7 405.0,1221.9 405.2,1193.8 405.4,1231.0 405.6,1213.0 405.8,1214.7 406.0,1215.0 406.2,1227.1 406.4,1202.2 406.4,1226.8 406.5,1237.3 406.6,1214.1 406.8,1219.0 407.0,1204.7 407.2,1235.1 407.4,1207.6 407.6,1206.4 407.8,1207.3 408.0,1215.6 408.2,1221.4 408.4,1208.8 408.6,1212.2 408.8,1207.5 409.0,1224.8 409.2,1212.3 409.4,1189.9 409.6,1225.2 409.8,1211.5 410.0,1227.6 410.2,1198.9 410.4,1199.5 410.4,1183.4 410.5,1226.5 410.6,1203.4 410.8,1189.1 411.0,1201.4 411.2,1220.4 411.4,1214.0 411.6,1184.9 411.8,1220.9 412.0,1210.4 412.2,1215.7 412.4,1207.1 412.6,1208.9 412.8,1207.5 413.0,1207.6 413.2,1195.9 413.4,1218.5 413.6,1209.8 413.8,1211.7 414.0,1211.4 414.2,1204.6 414.4,1207.3 414.5,1188.8 414.6,1226.5 414.6,1194.2 414.8,1210.8 415.0,1211.0 415.2,1205.8 415.4,1190.8 415.6,1222.0 415.8,1206.7 416.0,1208.3 416.2,1205.4 416.4,1202.7 416.6,1204.6 416.8,1197.7 417.0,1203.0 417.2,1226.5 417.4,1220.6 417.6,1226.5 417.8,1203.0 418.0,1191.1 418.2,1196.0 418.4,1191.4 418.5,1191.5 418.6,1220.5 418.6,1226.5 418.8,1223.6 419.0,1213.8 419.2,1218.1 419.4,1219.5 419.6,1215.7 419.8,1226.6 420.0,1208.1 420.2,1216.0 420.4,1220.8 420.6,1203.0 420.8,1212.7 421.0,1232.4 421.2,1232.8 421.4,1204.9 421.6,1243.5 421.8,1237.3 422.0,1244.7 422.2,1234.3 422.4,1245.3 422.6,1210.3 422.6,1218.6 422.7,1264.2 422.8,1234.6 423.0,1222.0 423.2,1230.0 423.4,1254.8 423.6,1261.3 423.8,1237.9 424.0,1230.9 424.2,1248.6 424.4,1243.8 424.6,1262.9 424.8,1246.1 425.0,1210.3 425.2,1237.8 425.4,1232.2 425.6,1225.3 425.8,1238.6 426.0,1237.5 426.2,1231.6 426.4,1257.8 426.6,1241.7 426.6,1210.3 426.7,1261.5 426.8,1241.9 427.0,1238.1 427.2,1252.5 427.4,1220.0 427.6,1251.7 427.8,1231.6 428.0,1254.7 428.2,1253.5 428.4,1240.7 428.6,1227.7 428.8,1237.2 429.0,1237.9 429.2,1213.8 429.4,1228.5 429.6,1223.3 429.8,1249.9 430.0,1253.7 430.2,1222.3 430.4,1224.7 430.6,1214.4 430.6,1207.6 430.7,1253.5 430.8,1234.2 431.0,1241.0 431.2,1253.5 431.4,1213.6 431.6,1242.2 431.8,1227.9 432.0,1220.1 432.2,1224.8 432.4,1218.9 432.6,1235.1 432.8,1228.8 433.0,1245.1 433.2,1221.1 433.4,1202.1 433.6,1214.0 433.8,1232.7 434.0,1206.4 434.2,1216.5 434.4,1235.0 434.6,1206.8 434.7,1199.5 434.8,1253.5 434.8,1239.7 435.0,1232.8 435.2,1220.0 435.4,1228.4 435.6,1222.5 435.8,1224.6 436.0,1226.2 436.2,1231.6 436.4,1230.7 436.6,1222.4 436.8,1219.8 437.0,1258.1 437.2,1219.6 437.4,1232.9 437.6,1251.4 437.8,1249.1 438.0,1227.3 438.2,1260.5 438.4,1260.4 438.6,1234.6 438.7,1215.7 438.8,1223.6 438.8,1261.5 439.0,1247.7 439.2,1238.0 439.4,1237.2 439.6,1231.3 439.8,1234.5 440.0,1244.8 440.2,1254.9 440.4,1220.2 440.6,1220.7 440.8,1257.6 441.0,1234.8 441.2,1255.3 441.4,1248.3 441.6,1263.9 441.8,1260.1 442.0,1245.1 442.2,1247.2 442.4,1254.2 442.6,1260.4 442.8,1226.5 442.8,1242.7 442.9,1275.0 443.0,1230.2 443.2,1251.2 443.4,1248.6 443.6,1246.5 443.8,1234.5 444.0,1255.6 444.2,1223.4 444.4,1239.6 444.6,1263.2 444.8,1229.8 445.0,1250.1 445.2,1250.0 445.4,1249.1 445.6,1219.5 445.8,1256.0 446.0,1243.4 446.2,1247.7 446.4,1244.5 446.6,1240.5 446.8,1256.2 446.8,1213.0 446.9,1264.2 447.0,1260.4 447.2,1214.8 447.4,1231.2 447.6,1241.1 447.8,1217.6 448.0,1267.3 448.2,1235.4 448.4,1256.4 448.6,1252.5 448.8,1247.0 449.0,1236.1 449.2,1247.1 449.4,1255.2 449.6,1267.1 449.8,1252.8 450.0,1250.9 450.2,1254.4 450.4,1280.3 450.6,1265.3 450.8,1250.8 450.9,1231.9 451.0,1291.2 451.0,1242.1 451.2,1256.6 451.4,1249.1 451.6,1257.7 451.8,1287.3 452.0,1277.1 452.2,1270.3 452.4,1273.8 452.6,1295.9 452.8,1250.1 453.0,1276.5 453.2,1266.6 453.4,1272.9 453.6,1272.4 453.8,1266.7 454.0,1281.4 454.1,1242.7 454.2,1302.0 454.2,1241.4 454.4,1273.3 454.6,1276.6 454.8,1248.2 455.0,1245.2 455.2,1285.0 455.4,1241.2 455.6,1246.4 455.8,1237.8 456.0,1237.5 456.2,1234.0 456.4,1214.3 456.6,1263.5 456.8,1225.2 457.0,1237.8 457.2,1228.7 457.4,1245.2 457.6,1233.5 457.6,1199.5 457.7,1248.1 457.8,1238.9 458.0,1239.1 458.2,1234.4 458.4,1223.1 458.6,1234.6 458.8,1200.0 459.0,1233.7 459.2,1230.7 459.4,1224.9 459.6,1201.6 459.8,1238.6 460.0,1209.9 460.2,1227.9 460.4,1192.2 460.6,1215.7 460.8,1208.5 461.0,1206.2 461.2,1207.3 461.4,1242.7 461.6,1215.7 461.6,1188.8 461.7,1242.7 461.8,1220.8 462.0,1241.7 462.2,1193.9 462.4,1236.7 462.6,1208.5 462.8,1204.3 463.0,1207.0 463.2,1186.3 463.4,1189.9 463.6,1195.2 463.8,1203.0 464.0,1220.8 464.2,1225.6 464.4,1204.4 464.6,1214.5 464.8,1214.9 465.0,1205.0 465.2,1211.0 465.4,1199.0 465.6,1214.6 465.7,1180.7 465.8,1231.9 465.8,1203.9 466.0,1208.3 466.2,1212.0 466.4,1211.2 466.6,1200.0 466.8,1192.1 467.0,1210.5 467.2,1204.3 467.4,1205.6 467.6,1212.2 467.8,1204.6 468.0,1221.1 468.2,1221.2 468.4,1204.3 468.6,1222.2 468.8,1205.1 469.0,1228.4 469.2,1227.7 469.4,1220.0 469.6,1232.7 469.7,1196.8 469.8,1234.6 469.8,1245.4 470.0,1226.1 470.2,1195.4 470.4,1220.4 470.6,1220.4 470.8,1227.4 471.0,1203.6 471.2,1224.4 471.4,1219.1 471.6,1218.9 471.8,1197.5 472.0,1201.4 472.2,1225.4 472.4,1220.8 472.6,1208.8 472.8,1222.2 473.0,1211.3 473.2,1202.4 473.4,1187.7 473.6,1217.8 473.8,1183.4 473.8,1203.3 473.9,1226.5 474.0,1206.9 474.2,1181.6 474.4,1195.9 474.6,1205.4 474.8,1197.8 475.0,1190.8 475.2,1185.0 475.4,1201.2 475.6,1192.8 475.8,1192.4 476.0,1192.1 476.2,1186.5 476.4,1189.9 476.6,1185.1 476.8,1193.2 477.0,1172.6 477.2,1175.6 477.4,1190.8 477.6,1187.2 477.8,1191.1 477.8,1161.8 477.9,1215.7 478.0,1215.2 478.2,1199.0 478.4,1204.1 478.6,1193.8 478.8,1186.1 479.0,1176.7 479.2,1162.7 479.4,1168.4 479.6,1163.0 479.8,1172.3 480.0,1166.3 480.2,1174.2 480.4,1185.9 480.6,1180.9 480.8,1196.3 481.0,1196.2 481.2,1197.2 481.4,1194.9 481.6,1187.9 481.8,1179.0 481.9,1164.5 482.0,1204.9 482.0,1189.9 482.2,1182.5 482.4,1183.3 482.6,1190.6 482.8,1173.7 483.0,1167.6 483.2,1190.7 483.4,1208.3 483.6,1201.0 483.8,1210.1 484.0,1171.2 484.2,1180.6 484.4,1166.2 484.6,1178.5 484.8,1212.8 485.0,1210.5 485.2,1177.2 485.4,1186.4 485.6,1180.2 485.8,1173.6 485.9,1167.2 486.0,1188.5 486.0,1215.7 486.2,1187.8 486.4,1194.3 486.6,1197.4 486.8,1204.6 487.0,1215.9 487.2,1194.1 487.4,1192.5 487.6,1196.7 487.8,1204.7 488.0,1195.4 488.2,1180.7 488.4,1189.5 488.6,1213.3 488.8,1180.6 489.0,1216.5 489.2,1173.7 489.4,1214.2 489.6,1214.7 489.8,1198.7 489.9,1164.5 490.0,1203.1 490.0,1242.7 490.2,1199.0 490.4,1237.7 490.6,1195.4 490.8,1190.2 491.0,1211.3 491.2,1224.5 491.4,1210.4 491.6,1202.2 491.8,1221.8 492.0,1192.8 492.2,1193.0 492.4,1186.6 492.6,1222.9 492.8,1179.7 493.0,1188.2 493.2,1209.0 493.4,1211.0 493.6,1226.8 493.8,1211.0 494.0,1186.1 494.0,1200.9 494.1,1226.5 494.2,1222.3 494.4,1219.5 494.6,1221.3 494.8,1221.0 495.0,1215.4 495.2,1193.7 495.4,1198.8 495.6,1232.9 495.8,1212.8 496.0,1191.4 496.2,1214.3 496.4,1225.7 496.6,1219.7 496.8,1215.8 497.0,1194.1 497.2,1217.7 497.4,1215.9 497.6,1238.9 497.8,1219.0 498.0,1219.0 498.0,1196.8 498.1,1242.7 498.2,1215.0 498.4,1220.1 498.6,1226.4 498.8,1217.0 499.0,1212.9 499.2,1208.7 499.4,1228.9 499.6,1223.1 499.8,1224.6 500.0,1207.5 500.2,1219.1 500.4,1203.9 500.6,1248.9 500.7,1204.9 500.8,1251.1 500.8,1264.2 501.0,1232.8 501.2,1218.8 501.4,1221.5 501.6,1187.2 501.8,1184.1 502.0,1213.1 502.2,1177.2 502.4,1184.5 502.6,1170.8 502.7,1153.7 502.8,1199.5 502.8,1154.1 503.0,1169.3 503.2,1189.1 503.4,1196.3 503.6,1156.7 503.8,1160.7 504.0,1174.5 504.2,1196.2 504.4,1200.2 504.6,1206.1 504.8,1208.5 505.0,1180.6 505.2,1173.6 505.4,1201.0 505.6,1185.4 505.8,1190.3 506.0,1185.7 506.2,1186.0 506.4,1205.7 506.6,1178.6 506.7,1167.2 506.8,1167.9 506.8,1221.1 507.0,1182.1 507.2,1192.8 507.4,1185.6 507.6,1186.9 507.8,1160.8 508.0,1173.6 508.2,1201.6 508.4,1181.8 508.6,1173.0 508.8,1199.1 509.0,1172.4 509.2,1191.2 509.4,1181.9 509.6,1183.6 509.8,1192.1 510.0,1203.7 510.2,1193.6 510.4,1159.8 510.6,1154.6 510.8,1142.9 510.8,1165.6 510.9,1199.5 511.0,1168.0 511.2,1181.9 511.4,1171.3 511.6,1174.1 511.8,1142.4 512.0,1170.1 512.2,1180.1 512.4,1200.9 512.6,1185.1 512.8,1172.8 513.0,1149.6 513.2,1171.1 513.4,1171.4 513.6,1168.6 513.8,1174.4 514.0,1181.3 514.2,1180.3 514.4,1209.2 514.6,1151.6 514.8,1139.2 514.8,1134.9 514.9,1210.3 515.0,1179.3 515.2,1147.0 515.4,1167.0 515.6,1169.3 515.8,1155.8 516.0,1184.6 516.2,1181.5 516.4,1172.5 516.6,1179.9 516.8,1183.6 517.0,1164.8 517.2,1178.3 517.4,1171.2 517.6,1169.0 517.8,1162.5 518.0,1191.5 518.2,1172.6 518.4,1151.0 518.6,1173.9 518.8,1148.1 518.9,1148.3 519.0,1188.8 519.0,1170.3 519.2,1175.3 519.4,1182.4 519.6,1167.2 519.8,1154.9 520.0,1187.3 520.2,1175.7 520.4,1178.6 520.6,1156.6 520.8,1168.3 521.0,1132.7 521.2,1164.6 521.4,1129.8 521.6,1139.7 521.8,1131.5 522.0,1172.4 522.2,1168.3 522.4,1142.2 522.6,1172.5 522.8,1151.7 522.9,1118.7 523.0,1118.7 523.0,1183.4 523.2,1143.1 523.4,1119.2 523.6,1151.6 523.8,1156.9 524.0,1137.1 524.2,1165.4 524.4,1170.0 524.6,1134.5 524.8,1161.5 525.0,1149.3 525.2,1146.1 525.4,1182.8 525.6,1138.4 525.8,1145.0 526.0,1150.6 526.2,1162.8 526.4,1166.8 526.6,1134.3 526.8,1178.6 527.0,1118.7 527.0,1187.7 527.1,1188.8 527.2,1188.8 527.4,1156.5 527.6,1144.2 527.8,1134.3 528.0,1160.7 528.2,1153.4 528.4,1154.0 528.6,1144.4 528.8,1124.8 529.0,1151.1 529.2,1153.5 529.4,1150.6 529.6,1133.3 529.8,1152.9 530.0,1155.4 530.2,1139.8 530.4,1168.9 530.6,1158.4 530.8,1161.4 531.0,1132.2 531.0,1165.8 531.1,1188.8 531.2,1156.0 531.4,1159.1 531.6,1169.1 531.8,1173.1 532.0,1175.7 532.2,1158.6 532.4,1174.5 532.6,1181.1 532.8,1139.4 533.0,1156.2 533.2,1162.9 533.4,1163.7 533.6,1194.5 533.8,1184.6 534.0,1162.4 534.2,1163.1 534.4,1141.0 534.6,1148.5 534.8,1189.8 535.0,1135.8 535.0,1134.9 535.1,1199.5 535.2,1177.9 535.4,1154.1 535.6,1161.4 535.8,1165.4 536.0,1201.6 536.2,1174.1 536.4,1177.6 536.6,1187.7 536.8,1133.7 537.0,1204.8 537.2,1135.7 537.4,1154.7 537.6,1183.1 537.8,1144.5 538.0,1133.9 538.2,1194.0 538.4,1163.5 538.6,1190.1 538.8,1180.9 539.0,1166.6 539.1,1132.2 539.2,1210.3 539.2,1206.7 539.4,1164.8 539.6,1207.6 539.8,1151.2 540.0,1148.9 540.2,1154.9 540.4,1172.5 540.6,1146.0 540.8,1154.0 541.0,1193.0 541.2,1169.5 541.4,1186.2 541.6,1171.7 541.8,1154.9 542.0,1151.6 542.2,1167.0 542.4,1164.7 542.6,1154.9 542.8,1154.0 543.0,1183.9 543.1,1134.9 543.2,1177.3 543.2,1188.8 543.4,1166.6 543.6,1157.6 543.8,1156.8 544.0,1188.8 544.2,1155.0 544.4,1188.8 544.6,1154.8 544.8,1143.9 545.0,1188.8 545.2,1163.1 545.4,1184.9 545.6,1170.9 545.8,1162.3 546.0,1177.7 546.2,1162.3 546.4,1171.6 546.6,1164.8 546.8,1145.4 547.0,1171.7 547.2,1145.6 547.2,1160.7 547.3,1188.8 547.4,1164.2 547.6,1169.6 547.8,1146.3 548.0,1168.9 548.2,1168.3 548.4,1182.6 548.6,1169.1 548.8,1161.9 549.0,1148.3 549.2,1155.0 549.4,1136.0 549.6,1158.2 549.8,1149.2 550.0,1145.8 550.2,1149.6 550.4,1154.2 550.4,1124.1 550.5,1172.6 550.6,1153.7 550.8,1135.9 551.0,1173.1 551.2,1156.8 551.4,1163.3 551.6,1160.6 551.8,1148.2 552.0,1168.7 552.2,1160.4 552.4,1155.0 552.6,1172.8 552.8,1185.5 553.0,1185.3 553.2,1180.3 553.4,1168.2 553.6,1175.2 553.8,1180.7 553.9,1151.0 554.0,1158.5 554.0,1218.4 554.2,1199.7 554.4,1187.4 554.6,1164.0 554.8,1212.7 555.0,1219.1 555.2,1166.6 555.4,1185.9 555.6,1175.8 555.8,1202.2 556.0,1169.0 556.2,1198.8 556.4,1197.6 556.6,1208.9 556.8,1166.4 557.0,1182.5 557.2,1191.3 557.4,1208.1 557.6,1196.6 557.8,1206.0 558.0,1172.6 558.0,1202.4 558.1,1221.1 558.2,1184.4 558.4,1194.7 558.6,1190.8 558.8,1191.8 559.0,1183.4 559.2,1206.5 559.4,1200.1 559.6,1170.4 559.8,1206.2 560.0,1187.6 560.2,1174.2 560.4,1213.1 560.6,1195.1 560.8,1200.5 561.0,1193.2 561.2,1194.6 561.4,1168.0 561.6,1206.5 561.8,1183.7 562.0,1167.2 562.0,1195.1 562.1,1223.8 562.2,1194.4 562.4,1181.9 562.6,1178.5 562.8,1195.9 563.0,1217.6 563.2,1190.2 563.4,1191.9 563.6,1202.7 563.8,1194.0 564.0,1221.3 564.2,1210.2 564.4,1230.2 564.6,1208.4 564.8,1231.3 565.0,1199.3 565.2,1210.9 565.4,1195.0 565.6,1204.7 565.8,1206.5 566.0,1218.9 566.0,1188.8 566.1,1234.6 566.2,1228.3 566.4,1208.0 566.6,1193.4 566.8,1211.0 567.0,1208.8 567.2,1204.9 567.4,1221.0 567.6,1224.1 567.8,1202.2 568.0,1202.0 568.2,1188.8 568.4,1202.8 568.6,1219.8 568.8,1199.4 569.0,1220.2 569.2,1217.4 569.4,1216.6 569.6,1216.7 569.8,1208.5 570.0,1220.7 570.1,1188.8 570.2,1229.2 570.2,1220.5 570.4,1211.5 570.6,1206.0 570.8,1220.6 571.0,1222.1 571.2,1195.5 571.4,1212.3 571.6,1201.6 571.8,1222.3 572.0,1194.5 572.2,1189.5 572.4,1184.3 572.6,1207.5 572.8,1179.9 573.0,1201.9 573.2,1184.8 573.4,1209.8 573.6,1212.2 573.8,1205.1 574.0,1160.0 574.1,1159.1 574.2,1165.7 574.2,1213.0 574.4,1160.6 574.6,1215.2 574.8,1181.4 575.0,1185.1 575.2,1192.8 575.4,1201.9 575.6,1189.3 575.8,1196.1 576.0,1196.0 576.2,1178.4 576.4,1223.6 576.6,1224.0 576.8,1200.6 577.0,1199.3 577.2,1227.4 577.4,1228.3 577.6,1204.9 577.8,1213.7 578.0,1200.4 578.2,1180.7 578.2,1211.7 578.3,1231.9 578.4,1180.7 578.6,1180.7 578.8,1212.4 579.0,1203.4 579.2,1211.0 579.4,1206.5 579.6,1213.1 579.8,1208.2 580.0,1202.5 580.2,1209.7 580.4,1195.9 580.6,1221.3 580.8,1191.8 581.0,1198.6 581.2,1213.8 581.4,1198.6 581.6,1213.7 581.8,1219.0 582.0,1210.9 582.2,1196.9 582.2,1180.7 582.3,1221.1 582.4,1221.1 582.6,1207.0 582.8,1191.4 583.0,1221.1 583.2,1204.2 583.4,1209.0 583.6,1212.2 583.8,1196.9 584.0,1212.2 584.2,1189.2 584.4,1192.1 584.6,1198.5 584.8,1221.1 585.0,1209.2 585.2,1215.3 585.4,1198.5 585.6,1208.7 585.8,1183.1 586.0,1200.6 586.2,1207.9 586.3,1183.4 586.4,1221.1 586.4,1197.0 586.6,1181.3 586.8,1183.4 587.0,1209.7 587.2,1218.5 587.4,1196.5 587.6,1222.3 587.8,1182.6 588.0,1209.0 588.2,1204.2 588.4,1215.4 588.6,1175.7 588.8,1214.7 589.0,1200.1 589.2,1183.3 589.4,1189.6 589.6,1193.2 589.8,1201.8 590.0,1180.3 590.2,1179.3 590.3,1159.1 590.4,1229.2 590.4,1197.2 590.6,1194.6 590.8,1204.2 591.0,1211.0 591.2,1162.5 591.4,1192.8 591.6,1198.0 591.8,1194.7 592.0,1177.0 592.2,1204.3 592.4,1218.6 592.6,1190.7 592.8,1182.0 593.0,1203.2 593.2,1192.9 593.4,1193.9 593.6,1195.0 593.8,1186.8 594.0,1191.8 594.2,1184.0 594.3,1172.6 594.4,1172.5 594.4,1210.3 594.6,1202.4 594.8,1194.4 595.0,1190.4 595.2,1205.5 595.4,1189.1 595.6,1203.0 595.8,1199.6 596.0,1187.0 596.2,1175.9 596.4,1195.3 596.6,1192.3 596.8,1201.3 597.0,1171.3 597.2,1187.8 597.4,1191.8 597.6,1167.2 597.6,1193.0 597.7,1210.3 597.8,1190.3 598.0,1192.6 598.2,1167.2 598.4,1185.2 598.6,1180.9" fill="none" stroke="#9400dc" stroke-width="1.5" stroke-linejoin="miter" stroke-miterlimit="3" clip-path="url(#clipD)"/>
<polyline points="738.8,1409.2 739.0,1399.6 739.2,1386.9 739.4,1374.9 739.6,1363.6 739.8,1357.9 740.0,1351.4 740.2,1350.3 740.4,1344.9 740.6,1346.8 740.8,1347.9 741.0,1344.4 741.2,1339.7 741.4,1336.2 741.6,1331.9 741.8,1343.5 742.0,1341.0 742.2,1335.3 742.4,1334.6 742.6,1334.0 742.8,1331.3 743.0,1325.1 743.2,1324.1 743.4,1323.5 743.6,1322.3 743.8,1317.4 744.0,1322.3 744.2,1323.5 744.4,1326.4 744.6,1321.5 744.8,1317.4 745.0,1326.6 745.2,1318.8 745.4,1319.6 745.6,1321.2 745.8,1318.5 746.0,1321.2 746.2,1320.8 746.4,1317.9 746.6,1322.1 746.8,1323.1 747.0,1324.3 747.2,1322.6 747.4,1322.2 747.6,1321.3 747.8,1319.3 748.0,1314.4 748.2,1314.8 748.4,1312.7 748.6,1311.3 748.8,1308.3 749.0,1309.3 749.2,1312.7 749.4,1315.1 749.6,1313.7 749.8,1309.9 750.0,1309.9 750.2,1309.0 750.4,1313.0 750.6,1305.0 750.8,1308.7 751.0,1307.3 751.2,1311.0 751.4,1309.0 751.6,1307.3 751.8,1306.2 752.0,1306.3 752.2,1300.6 752.4,1304.7 752.6,1305.8 752.8,1303.4 753.0,1300.6 753.2,1301.2 753.4,1297.9 753.6,1300.3 753.8,1294.8 754.0,1298.4 754.2,1303.9 754.4,1302.0 754.6,1300.6 754.8,1300.5 755.0,1298.5 755.2,1303.2 755.4,1300.5 755.6,1304.5 755.8,1295.7 756.0,1295.8 756.2,1295.1 756.4,1293.5 756.6,1293.8 756.8,1289.5 757.0,1292.4 757.2,1288.4 757.4,1294.6 757.6,1289.5 757.8,1286.4 758.0,1287.7 758.2,1283.0 758.4,1288.0 758.6,1286.4 758.8,1290.5 759.0,1283.4 759.2,1281.1 759.4,1280.0 759.6,1281.4 759.8,1275.2 760.0,1285.4 760.2,1278.8 760.4,1281.5 760.6,1279.8 760.8,1281.6 761.0,1281.6 761.2,1283.4 761.4,1280.8 761.6,1285.4 761.8,1283.2 762.0,1275.8 762.2,1276.6 762.4,1277.2 762.6,1275.2 762.8,1275.9 763.0,1278.6 763.2,1277.9 763.4,1274.7 763.6,1278.4 763.8,1280.5 764.0,1276.6 764.2,1275.1 764.4,1275.6 764.6,1277.5 764.8,1272.3 765.0,1267.8 765.2,1271.9 765.4,1268.8 765.6,1268.4 765.8,1265.8 766.0,1267.0 766.2,1266.8 766.4,1263.6 766.6,1263.3 766.8,1264.8 767.0,1260.0 767.2,1265.2 767.4,1266.4 767.6,1268.6 767.8,1266.2 768.0,1267.6 768.2,1268.4 768.4,1266.7 768.6,1266.9 768.8,1259.0 769.0,1260.6 769.2,1256.2 769.4,1255.1 769.6,1255.1 769.8,1254.3 770.0,1250.4 770.2,1255.9 770.4,1252.7 770.6,1249.5 770.8,1248.5 771.0,1243.7 771.2,1244.0 771.4,1244.2 771.6,1241.5 771.8,1233.9 772.0,1237.0 772.2,1235.4 772.4,1231.5 772.6,1230.7 772.8,1227.8 773.0,1224.0 773.2,1220.6 773.4,1212.9 773.6,1213.3 773.8,1210.5 774.0,1216.3 774.2,1212.9 774.4,1208.9 774.6,1207.6 774.8,1209.9 775.0,1218.7 775.2,1222.4 775.4,1223.3 775.6,1217.4 775.8,1223.4 776.0,1223.7 776.2,1224.6 776.4,1230.7 776.6,1229.6 776.8,1229.0 777.0,1228.8 777.2,1228.1 777.4,1234.5 777.6,1238.3 777.8,1241.0 778.0,1244.6 778.2,1245.1 778.4,1247.3 778.6,1240.7 778.8,1248.2 779.0,1250.2 779.2,1248.1 779.4,1252.5 779.6,1253.5 779.8,1252.5 780.0,1252.4 780.2,1248.4 780.4,1249.8 780.6,1241.6 780.8,1244.8 781.0,1244.0 781.2,1236.0 781.4,1241.7 781.6,1246.3 781.8,1236.1 782.0,1240.4 782.2,1236.0 782.4,1236.2 782.6,1237.3 782.8,1237.8 783.0,1238.1 783.2,1236.1 783.4,1235.9 783.6,1234.5 783.8,1233.1 784.0,1231.0 784.2,1235.8 784.4,1232.0 784.6,1227.6 784.8,1230.9 785.0,1233.2 785.2,1226.5 785.4,1226.6 785.6,1231.6 785.8,1226.6 786.0,1225.3 786.2,1229.2 786.4,1228.3 786.6,1221.3 786.8,1228.7 787.0,1225.9 787.2,1222.7 787.4,1226.6 787.6,1225.6 787.8,1221.7 788.0,1223.5 788.2,1221.5 788.4,1227.8 788.6,1223.2 788.8,1216.9 789.0,1212.9 789.2,1214.4 789.4,1216.4 789.6,1217.3 789.8,1213.5 790.0,1209.1 790.2,1209.7 790.4,1209.2 790.6,1208.8 790.8,1204.9 791.0,1202.3 791.2,1202.4 791.4,1200.6 791.6,1198.1 791.8,1200.5 792.0,1198.6 792.2,1206.5 792.4,1207.1 792.6,1205.7 792.8,1207.3 793.0,1203.7 793.2,1202.2 793.4,1202.2 793.6,1202.9 793.8,1202.9 794.0,1200.4 794.2,1199.8 794.4,1197.6 794.6,1198.9 794.8,1201.2 795.0,1195.0 795.2,1201.4 795.4,1198.5 795.6,1196.4 795.8,1197.8 796.0,1196.8 796.2,1196.0 796.4,1196.9 796.6,1194.4 796.8,1196.5 797.0,1196.3 797.2,1195.9 797.4,1197.3 797.6,1199.7 797.8,1198.0 798.0,1196.9 798.2,1193.9 798.4,1194.8 798.6,1194.1 798.8,1195.0 799.0,1200.8 799.2,1200.0 799.4,1196.2 799.6,1199.1 799.8,1197.5 800.0,1195.7 800.2,1194.9 800.4,1194.1 800.6,1190.2 800.8,1191.9 801.0,1194.9 801.2,1189.9 801.4,1179.4 801.6,1186.0 801.8,1185.8 802.0,1189.2 802.2,1192.8 802.4,1193.8 802.6,1200.0 802.8,1201.0 803.0,1202.2 803.2,1199.7 803.4,1206.1 803.6,1208.5 803.8,1209.1 804.0,1214.7 804.2,1215.5 804.4,1211.4 804.6,1208.1 804.8,1206.0 805.0,1207.6 805.2,1208.3 805.4,1210.5 805.6,1210.7 805.8,1210.0 806.0,1205.7 806.2,1203.8 806.4,1209.8 806.6,1204.5 806.8,1205.8 807.0,1206.8 807.2,1206.1 807.4,1205.5 807.6,1204.6 807.8,1200.1 808.0,1197.6 808.2,1196.9 808.4,1197.1 808.6,1203.9 808.8,1201.8 809.0,1199.5 809.2,1199.0 809.4,1198.9 809.6,1197.5 809.8,1191.7 810.0,1194.5 810.2,1191.4 810.4,1194.0 810.6,1194.5 810.8,1197.1 811.0,1195.7 811.2,1195.7 811.4,1194.2 811.6,1191.9 811.8,1191.4 812.0,1192.3 812.2,1197.7 812.4,1195.4 812.6,1197.2 812.8,1199.3 813.0,1195.1 813.2,1194.3 813.4,1195.3 813.6,1200.0 813.8,1196.6 814.0,1198.2 814.2,1198.3 814.4,1197.8 814.6,1198.0 814.8,1198.1 815.0,1201.9 815.2,1200.5 815.4,1198.7 815.6,1201.0 815.8,1193.1 816.0,1195.7 816.2,1198.0 816.4,1194.6 816.6,1199.5 816.8,1200.1 817.0,1197.5 817.2,1201.4 817.4,1198.5 817.6,1199.6 817.8,1204.0 818.0,1201.9 818.2,1204.7 818.4,1206.1 818.6,1206.0 818.8,1203.0 819.0,1204.9 819.2,1205.8 819.4,1205.1 819.6,1205.8 819.8,1205.9 820.0,1202.4 820.2,1205.7 820.4,1204.2 820.6,1208.8 820.8,1213.6 821.0,1216.0 821.2,1217.5 821.4,1220.7 821.6,1216.5 821.8,1218.0 822.0,1217.5 822.2,1220.6 822.4,1216.8 822.6,1216.4 822.8,1218.1 823.0,1217.3 823.2,1219.2 823.4,1218.7 823.6,1216.8 823.8,1220.8 824.0,1217.7 824.2,1218.4 824.4,1219.4 824.6,1218.4 824.8,1221.9 825.0,1220.0 825.2,1220.9 825.4,1220.4 825.6,1220.4 825.8,1217.0 826.0,1217.9 826.2,1219.7 826.4,1219.6 826.6,1217.8 826.8,1217.2 827.0,1216.5 827.2,1215.9 827.4,1215.6 827.6,1219.8 827.8,1218.9 828.0,1217.2 828.2,1217.5 828.4,1218.0 828.6,1219.3 828.8,1217.2 829.0,1215.4 829.2,1217.5 829.4,1214.6 829.6,1216.2 829.8,1213.2 830.0,1216.5 830.2,1211.1 830.4,1217.9 830.6,1207.6 830.8,1209.7 831.0,1209.1 831.2,1210.0 831.4,1211.7 831.6,1209.6 831.8,1215.4 832.0,1206.6 832.2,1205.5 832.4,1204.3 832.6,1202.9 832.8,1199.3 833.0,1204.3 833.2,1199.1 833.4,1201.0 833.6,1202.7 833.8,1199.5 834.0,1202.3 834.2,1194.6 834.4,1195.5 834.6,1194.8 834.8,1198.9 835.0,1200.6 835.2,1196.1 835.4,1197.5 835.6,1196.1 835.8,1196.9 836.0,1193.9 836.2,1194.4 836.4,1200.3 836.6,1194.9 836.8,1197.0 837.0,1195.2 837.2,1192.3 837.4,1197.1 837.6,1196.1 837.8,1199.2 838.0,1191.8 838.2,1191.4 838.4,1193.7 838.6,1194.2 838.8,1189.3 839.0,1188.8 839.2,1189.5 839.4,1188.2 839.6,1192.6 839.8,1189.3 840.0,1187.6 840.2,1189.3 840.4,1185.0 840.6,1186.2 840.8,1186.7 841.0,1184.8 841.2,1186.6 841.4,1184.3 841.6,1182.3 841.8,1185.6 842.0,1180.6 842.2,1183.4 842.4,1187.1 842.6,1185.4 842.8,1184.4 843.0,1190.1 843.2,1190.8 843.4,1192.7 843.6,1193.6 843.8,1193.4 844.0,1196.4 844.2,1192.4 844.4,1191.2 844.6,1194.1 844.8,1199.4 845.0,1197.7 845.2,1195.1 845.4,1199.3 845.6,1201.7 845.8,1208.8 846.0,1209.7 846.2,1204.8 846.4,1209.1 846.6,1215.1 846.8,1219.6 847.0,1216.6 847.2,1221.5 847.4,1219.0 847.6,1221.8 847.8,1222.0 848.0,1225.1 848.2,1224.1 848.4,1226.4 848.6,1227.8 848.8,1227.3 849.0,1227.2 849.2,1227.7 849.4,1227.0 849.6,1229.7 849.8,1228.4 850.0,1228.1 850.2,1226.7 850.4,1222.8 850.6,1224.8 850.8,1222.9 851.0,1222.0 851.2,1219.1 851.4,1220.3 851.6,1223.3 851.8,1230.5 852.0,1229.6 852.2,1224.6 852.4,1224.5 852.6,1226.7 852.8,1225.0 853.0,1225.4 853.2,1224.5 853.4,1227.1 853.6,1222.0 853.8,1219.9 854.0,1220.1 854.2,1214.5 854.4,1222.4 854.6,1221.0 854.8,1223.5 855.0,1223.8 855.2,1223.8 855.4,1221.4 855.6,1222.7 855.8,1225.0 856.0,1216.1 856.2,1222.5 856.4,1223.2 856.6,1218.6 856.8,1219.4 857.0,1216.8 857.2,1212.4 857.4,1214.9 857.6,1215.0 857.8,1216.5 858.0,1217.2 858.2,1218.9 858.4,1216.3 858.6,1213.1 858.8,1215.3 859.0,1212.8 859.2,1215.2 859.4,1213.4 859.6,1213.4 859.8,1213.0 860.0,1215.9 860.2,1216.9 860.4,1215.0 860.6,1215.0 860.8,1214.8 861.0,1209.1 861.2,1206.9 861.4,1209.2 861.6,1207.1 861.8,1202.1 862.0,1203.1 862.2,1202.3 862.4,1201.5 862.6,1200.6 862.8,1199.3 863.0,1197.7 863.2,1198.2 863.4,1196.0 863.6,1198.2 863.8,1195.7 864.0,1193.9 864.2,1191.7 864.4,1190.5 864.6,1186.2 864.8,1186.7 865.0,1180.4 865.2,1180.8 865.4,1180.9 865.6,1179.9 865.8,1177.5 866.0,1181.1 866.2,1174.1 866.4,1178.2 866.6,1180.1 866.8,1173.5 867.0,1175.8 867.2,1172.7 867.4,1175.7 867.6,1166.2 867.8,1172.0 868.0,1172.5 868.2,1173.0 868.4,1168.8 868.6,1167.5 868.8,1166.8 869.0,1166.0 869.2,1165.9 869.4,1165.3 869.6,1170.9 869.8,1168.1 870.0,1166.9 870.2,1164.6 870.4,1163.0 870.6,1164.1 870.8,1165.8 871.0,1170.5 871.2,1168.8 871.4,1166.7 871.6,1168.9 871.8,1172.0 872.0,1168.5 872.2,1165.8 872.4,1165.4 872.6,1165.6 872.8,1164.7 873.0,1164.0 873.2,1169.1 873.4,1168.8 873.6,1171.2 873.8,1167.2 874.0,1173.6 874.2,1167.6 874.4,1161.7 874.6,1167.5 874.8,1161.9 875.0,1168.1 875.2,1164.6 875.4,1159.6 875.6,1161.9 875.8,1162.0 876.0,1167.9 876.2,1168.3 876.4,1170.2 876.6,1165.0 876.8,1167.6 877.0,1165.1 877.2,1166.6 877.4,1166.4 877.6,1165.3 877.8,1164.4 878.0,1163.6 878.2,1168.8 878.4,1170.1 878.6,1168.0 878.8,1166.9 879.0,1165.8 879.2,1169.1 879.4,1170.5 879.6,1169.2 879.8,1169.5 880.0,1166.7 880.2,1168.1 880.4,1170.5 880.6,1169.7 880.8,1170.9 881.0,1170.2 881.2,1169.3 881.4,1170.3 881.6,1168.3 881.8,1168.0 882.0,1173.0 882.2,1178.8 882.4,1174.5 882.6,1174.9 882.8,1174.8 883.0,1179.5 883.2,1176.9 883.4,1175.1 883.6,1181.4 883.8,1182.8 884.0,1183.7 884.2,1182.8 884.4,1182.8 884.6,1183.5 884.8,1181.1 885.0,1188.3 885.2,1187.3 885.4,1185.4 885.6,1186.5 885.8,1185.2 886.0,1186.1 886.2,1188.9 886.4,1184.2 886.6,1187.4 886.8,1191.3 887.0,1192.4 887.2,1190.3 887.4,1191.9 887.6,1193.5 887.8,1189.3 888.0,1185.8 888.2,1190.0 888.4,1188.7 888.6,1189.6 888.8,1193.5 889.0,1194.7 889.2,1192.1 889.4,1188.6 889.6,1190.7 889.8,1194.3 890.0,1192.7 890.2,1194.4 890.4,1196.5 890.6,1194.6 890.8,1190.5 891.0,1192.5 891.2,1195.1 891.4,1194.6 891.6,1193.6 891.8,1191.3 892.0,1194.5 892.2,1192.5 892.4,1195.0 892.6,1191.6 892.8,1191.8 893.0,1191.8 893.2,1194.4 893.4,1194.1 893.6,1191.7 893.8,1189.9 894.0,1191.9 894.2,1188.5 894.4,1194.5 894.6,1192.6 894.8,1195.5 895.0,1193.1 895.2,1192.8 895.4,1191.3 895.6,1193.1 895.8,1188.0 896.0,1184.8 896.2,1186.6 896.4,1188.2 896.6,1186.6 896.8,1189.4 897.0,1187.0 897.2,1195.0 897.4,1195.3 897.6,1189.1 897.8,1190.2 898.0,1187.6 898.2,1188.0 898.4,1187.4 898.6,1188.1 898.8,1191.7 899.0,1191.2 899.2,1197.0 899.4,1189.7 899.6,1191.5 899.8,1187.1 900.0,1185.0 900.2,1187.6 900.4,1193.3 900.6,1186.2 900.8,1186.7 901.0,1184.9 901.2,1181.0 901.4,1183.5 901.6,1180.6 901.8,1178.7 902.0,1184.8 902.2,1180.9 902.4,1180.6 902.6,1176.6 902.8,1176.1 903.0,1171.6 903.2,1172.3 903.4,1173.1 903.6,1175.9 903.8,1171.3 904.0,1177.5 904.2,1173.2 904.4,1170.9 904.6,1171.2 904.8,1168.5 905.0,1170.3 905.2,1165.5 905.4,1164.2 905.6,1169.6 905.8,1170.0 906.0,1170.4 906.2,1174.2 906.4,1171.6 906.6,1172.5 906.8,1172.9 907.0,1174.2 907.2,1179.3 907.4,1175.9 907.6,1183.1 907.8,1181.1 908.0,1182.5 908.2,1181.6 908.4,1187.3 908.6,1177.2 908.8,1184.4 909.0,1185.7 909.2,1187.8 909.4,1184.4 909.6,1192.4 909.8,1187.2 910.0,1189.0 910.2,1186.4 910.4,1193.2 910.6,1191.0 910.8,1191.6 911.0,1189.5 911.2,1189.1 911.4,1186.1 911.6,1188.8 911.8,1186.4 912.0,1185.4 912.2,1186.1 912.4,1184.0 912.6,1183.9 912.8,1185.0 913.0,1183.1 913.2,1183.1 913.4,1187.5 913.6,1186.2 913.8,1180.0 914.0,1183.8 914.2,1184.4 914.4,1179.4 914.6,1182.4 914.8,1177.8 915.0,1179.9 915.2,1179.0 915.4,1177.9 915.6,1177.2 915.8,1174.7 916.0,1177.7 916.2,1177.0 916.4,1175.7 916.6,1170.2 916.8,1172.2 917.0,1175.6 917.2,1174.5 917.4,1177.3 917.6,1175.5 917.8,1175.1 918.0,1170.9 918.2,1175.7 918.4,1170.9 918.6,1169.8 918.8,1169.8 919.0,1169.3 919.2,1169.3 919.4,1167.8 919.6,1167.2 919.8,1169.9 920.0,1165.8 920.2,1166.4 920.4,1162.3 920.6,1164.5 920.8,1168.9 921.0,1166.7 921.2,1170.8 921.4,1167.9 921.6,1169.9 921.8,1170.0 922.0,1171.7 922.2,1165.7 922.4,1170.0 922.6,1167.9 922.8,1167.4 923.0,1168.4 923.2,1165.0 923.4,1168.0 923.6,1170.9 923.8,1170.3 924.0,1172.7 924.2,1165.5 924.4,1166.3 924.6,1162.6 924.8,1165.2 925.0,1164.8 925.2,1163.9 925.4,1168.7 925.6,1161.9 925.8,1162.1 926.0,1161.3 926.2,1159.9 926.4,1162.5 926.6,1162.5 926.8,1162.7 927.0,1160.2 927.2,1161.9 927.4,1161.1 927.6,1160.7 927.8,1165.3 928.0,1164.2 928.2,1163.3 928.4,1164.1 928.6,1171.2 928.8,1165.9 929.0,1168.9 929.2,1168.7 929.4,1166.9 929.6,1167.3 929.8,1169.0 930.0,1169.2 930.2,1169.4 930.4,1170.6 930.6,1169.2 930.8,1172.6 931.0,1169.7 931.2,1171.2 931.4,1172.5 931.6,1173.1 931.8,1170.9 932.0,1173.0 932.2,1171.7 932.4,1173.6 932.6,1176.9 932.8,1171.6 933.0,1170.8 933.2,1172.6 933.4,1174.1 933.6,1172.8 933.8,1171.6 934.0,1174.3 934.2,1169.2 934.4,1168.7 934.6,1167.1 934.8,1170.4 935.0,1166.8 935.2,1166.6 935.4,1169.5 935.6,1167.7 935.8,1170.6 936.0,1169.6 936.2,1172.3 936.4,1174.4 936.6,1169.7 936.8,1171.1 937.0,1171.7 937.2,1175.1 937.4,1173.6 937.6,1174.3 937.8,1172.6 938.0,1175.0 938.2,1171.1 938.4,1167.7 938.6,1168.4 938.8,1169.6 939.0,1167.3 939.2,1170.3 939.4,1167.9 939.6,1170.2 939.8,1175.4 940.0,1176.3 940.2,1176.0 940.4,1177.5 940.6,1173.9 940.8,1175.9 941.0,1174.9 941.2,1170.9 941.4,1174.2 941.6,1174.4 941.8,1174.5 942.0,1176.7 942.2,1176.1 942.4,1172.9 942.6,1170.8 942.8,1179.6 943.0,1173.1 943.2,1173.0 943.4,1168.1 943.6,1166.7 943.8,1164.3 944.0,1162.5 944.2,1166.7 944.4,1165.6 944.6,1165.9 944.8,1163.5 945.0,1168.3 945.2,1163.7 945.4,1163.2 945.6,1156.4 945.8,1162.8 946.0,1164.4 946.2,1156.1 946.4,1157.0 946.6,1158.9 946.8,1154.8 947.0,1157.6 947.2,1154.5 947.4,1152.9 947.6,1153.7 947.8,1151.8 948.0,1150.7 948.2,1147.0 948.4,1143.7 948.6,1146.7 948.8,1146.1 949.0,1142.9 949.2,1145.7 949.4,1143.1 949.6,1143.9 949.8,1144.6 950.0,1147.3 950.2,1146.9 950.4,1151.6 950.6,1148.8 950.8,1148.7 951.0,1148.5 951.2,1151.1 951.4,1151.2 951.6,1153.5 951.8,1152.8 952.0,1153.7 952.2,1147.1 952.4,1146.9 952.6,1150.9 952.8,1151.3 953.0,1150.7 953.2,1150.7 953.4,1151.9 953.6,1152.2 953.8,1153.4 954.0,1150.4 954.2,1151.5 954.4,1151.8 954.6,1148.0 954.8,1149.1 955.0,1152.7 955.2,1152.3 955.4,1151.7 955.6,1151.1 955.8,1149.0 956.0,1149.7 956.2,1151.2 956.4,1150.4 956.6,1150.0 956.8,1149.0 957.0,1149.5 957.2,1152.7 957.4,1151.2 957.6,1153.2 957.8,1154.6 958.0,1150.1 958.2,1152.2 958.4,1152.0 958.6,1154.0 958.8,1153.5 959.0,1152.0 959.2,1152.4 959.4,1147.6 959.6,1153.8 959.8,1154.3 960.0,1154.3 960.2,1151.8 960.4,1148.4 960.6,1148.4 960.8,1145.7 961.0,1151.0 961.2,1147.1 961.4,1150.5 961.6,1151.3 961.8,1152.5 962.0,1146.7 962.2,1153.8 962.4,1149.5 962.6,1150.5 962.8,1152.9 963.0,1151.0 963.2,1151.1 963.4,1151.0 963.6,1148.9 963.8,1149.6 964.0,1154.1 964.2,1156.0 964.4,1151.2 964.6,1155.3 964.8,1155.4 965.0,1155.3 965.2,1154.4 965.4,1158.3 965.6,1156.4 965.8,1151.5 966.0,1151.7 966.2,1152.5 966.4,1153.9 966.6,1150.2 966.8,1151.2 967.0,1143.2 967.2,1153.5 967.4,1154.2 967.6,1154.4 967.8,1149.6 968.0,1154.6 968.2,1153.3 968.4,1153.5 968.6,1162.7 968.8,1157.4 969.0,1152.3 969.2,1149.5 969.4,1151.2 969.6,1149.5 969.8,1145.4 970.0,1141.7 970.2,1140.8 970.4,1144.2 970.6,1142.1 970.8,1141.8 971.0,1139.4 971.2,1139.8 971.4,1141.3 971.6,1143.9 971.8,1134.9 972.0,1138.0 972.2,1142.1 972.4,1134.4 972.6,1138.8 972.8,1141.1 973.0,1141.7 973.2,1139.8 973.4,1139.5 973.6,1145.5 973.8,1144.2 974.0,1143.0 974.2,1142.2 974.4,1145.6 974.6,1144.4 974.8,1136.6 975.0,1140.1 975.2,1141.0 975.4,1145.9 975.6,1141.4 975.8,1145.6 976.0,1143.2 976.2,1143.8 976.4,1140.5 976.6,1138.2 976.8,1141.9 977.0,1133.7 977.2,1132.9 977.4,1131.0 977.6,1129.5 977.8,1132.6 978.0,1130.5 978.2,1128.8 978.4,1126.3 978.6,1128.3 978.8,1125.3 979.0,1120.4 979.2,1128.2 979.4,1127.7 979.6,1128.0 979.8,1127.1 980.0,1127.1 980.2,1123.0 980.4,1124.7 980.6,1125.0 980.8,1120.5 981.0,1119.2 981.2,1114.0 981.4,1112.5 981.6,1111.6 981.8,1114.2 982.0,1113.5 982.2,1107.8 982.4,1111.9 982.6,1105.5 982.8,1108.7 983.0,1111.0 983.2,1109.2 983.4,1106.9 983.6,1107.2 983.8,1107.2 984.0,1105.2 984.2,1104.7 984.4,1108.4 984.6,1111.8 984.8,1106.8 985.0,1108.2 985.2,1108.2 985.4,1108.8 985.6,1104.6 985.8,1100.4 986.0,1097.0 986.2,1094.5 986.4,1102.7 986.6,1099.6 986.8,1102.9 987.0,1105.7 987.2,1107.6 987.4,1107.0 987.6,1108.3 987.8,1104.1 988.0,1102.0 988.2,1103.9 988.4,1107.4 988.6,1106.2 988.8,1106.4 989.0,1110.5 989.2,1108.5 989.4,1106.2 989.6,1107.7 989.8,1112.0 990.0,1108.4 990.2,1109.6 990.4,1112.0 990.6,1110.8 990.8,1108.7 991.0,1106.4 991.2,1108.7 991.4,1112.3 991.6,1114.6 991.8,1114.5 992.0,1113.0 992.2,1111.4 992.4,1112.5 992.6,1116.1 992.8,1112.0 993.0,1109.6 993.2,1111.6 993.4,1112.4 993.6,1115.8 993.8,1117.4 994.0,1117.0 994.2,1118.2 994.4,1114.9 994.6,1112.4 994.8,1110.6 995.0,1107.8 995.2,1114.1 995.4,1112.7 995.6,1115.6 995.8,1116.2 996.0,1117.4 996.2,1117.7 996.4,1115.6 996.6,1115.3 996.8,1119.5 997.0,1121.3 997.2,1115.4 997.4,1122.3 997.6,1122.7 997.8,1122.5 998.0,1122.5 998.2,1121.8 998.4,1123.7 998.6,1120.7 998.8,1123.7 999.0,1120.3 999.2,1120.1 999.4,1123.7 999.6,1124.6 999.8,1123.8 1000.0,1123.8 1000.2,1127.6 1000.4,1122.0 1000.6,1127.5 1000.8,1128.1 1001.0,1125.3 1001.2,1120.8 1001.4,1128.8 1001.6,1124.5 1001.8,1121.6 1002.0,1122.4 1002.2,1117.3 1002.4,1117.0 1002.6,1123.1 1002.8,1120.4 1003.0,1116.2 1003.2,1117.4 1003.4,1115.1 1003.6,1113.6 1003.8,1115.9 1004.0,1112.7 1004.2,1109.3 1004.4,1112.8 1004.6,1110.0 1004.8,1111.2 1005.0,1109.3 1005.2,1108.9 1005.4,1107.1 1005.6,1109.2 1005.8,1108.6 1006.0,1109.2 1006.2,1114.5 1006.4,1112.4 1006.6,1111.4 1006.8,1112.0 1007.0,1104.7 1007.2,1107.8 1007.4,1106.0 1007.6,1108.5 1007.8,1109.9 1008.0,1108.0 1008.2,1104.9 1008.4,1109.8 1008.6,1113.0 1008.8,1112.3 1009.0,1115.4 1009.2,1110.8 1009.4,1113.6 1009.6,1115.0 1009.8,1112.8 1010.0,1113.6 1010.2,1112.3 1010.4,1112.3 1010.6,1109.3 1010.8,1113.5 1011.0,1115.3 1011.2,1115.3 1011.4,1115.7 1011.6,1110.8 1011.8,1112.7 1012.0,1107.1 1012.2,1109.1 1012.4,1109.7 1012.6,1107.7 1012.8,1111.4 1013.0,1107.4 1013.2,1107.6 1013.4,1106.4 1013.6,1106.6 1013.8,1106.1 1014.0,1107.3 1014.2,1102.6 1014.4,1099.9 1014.6,1101.1 1014.8,1104.0 1015.0,1105.9 1015.2,1105.0 1015.4,1103.3 1015.6,1096.9 1015.8,1094.2 1016.0,1101.2 1016.2,1103.6 1016.4,1099.8 1016.6,1101.6 1016.8,1101.6 1017.0,1101.0 1017.2,1102.9 1017.4,1105.2 1017.6,1107.1 1017.8,1104.0 1018.0,1104.4 1018.2,1107.4 1018.4,1108.5 1018.6,1107.3 1018.8,1102.3 1019.0,1102.9 1019.2,1104.8 1019.4,1102.9 1019.6,1102.3 1019.8,1108.9 1020.0,1102.1 1020.2,1101.2 1020.4,1102.7 1020.6,1104.2 1020.8,1103.0 1021.0,1101.0 1021.2,1104.8 1021.4,1108.7 1021.6,1107.1 1021.8,1103.4 1022.0,1101.6 1022.2,1101.9 1022.4,1101.2 1022.6,1101.3 1022.8,1100.2 1023.0,1099.7 1023.2,1105.4 1023.4,1095.0 1023.6,1101.8 1023.8,1101.1 1024.0,1105.0 1024.2,1105.8 1024.4,1104.7 1024.6,1102.1 1024.8,1100.2 1025.0,1101.2 1025.2,1101.5 1025.4,1105.9 1025.6,1103.4 1025.8,1101.6 1026.0,1100.3 1026.2,1102.5 1026.4,1100.6 1026.6,1097.6 1026.8,1096.7 1027.0,1096.6 1027.2,1097.3 1027.4,1095.1 1027.6,1093.8 1027.8,1095.9 1028.0,1101.0 1028.2,1104.7 1028.4,1096.7 1028.6,1096.5 1028.8,1096.5 1029.0,1093.3 1029.2,1095.2 1029.4,1095.6 1029.6,1097.9 1029.8,1090.1 1030.0,1089.0 1030.2,1097.2 1030.4,1096.1 1030.6,1097.0 1030.8,1095.0 1031.0,1093.2 1031.2,1093.7 1031.4,1099.5 1031.6,1098.0 1031.8,1101.1 1032.0,1101.2 1032.2,1099.9 1032.4,1103.7 1032.6,1101.8 1032.8,1097.4 1033.0,1098.5 1033.2,1105.5 1033.4,1097.5 1033.6,1104.8 1033.8,1105.9 1034.0,1103.7 1034.2,1105.6 1034.4,1105.5 1034.6,1109.9 1034.8,1108.6 1035.0,1105.8 1035.2,1108.7 1035.4,1111.4 1035.6,1106.4 1035.8,1107.5 1036.0,1108.2 1036.2,1107.2 1036.4,1108.6 1036.6,1104.0 1036.8,1109.8 1037.0,1106.3 1037.2,1107.3 1037.4,1105.4 1037.6,1111.1 1037.8,1110.9 1038.0,1108.1 1038.2,1110.8 1038.4,1108.0 1038.6,1103.7 1038.8,1101.3 1039.0,1101.0 1039.2,1099.5 1039.4,1095.8 1039.6,1099.3 1039.8,1099.7 1040.0,1102.8 1040.2,1101.5 1040.4,1100.3 1040.6,1101.4 1040.8,1104.8 1041.0,1105.9 1041.2,1109.1 1041.4,1107.8 1041.6,1105.7 1041.8,1108.4 1042.0,1110.0 1042.2,1112.1 1042.4,1109.7 1042.6,1108.4 1042.8,1108.2 1043.0,1110.6 1043.2,1105.2 1043.4,1109.9 1043.6,1109.7 1043.8,1106.2 1044.0,1112.4 1044.2,1115.9 1044.4,1112.5 1044.6,1112.8 1044.8,1115.6 1045.0,1112.3 1045.2,1111.7 1045.4,1108.2 1045.6,1109.2 1045.8,1114.3 1046.0,1113.0 1046.2,1116.3 1046.4,1114.6 1046.6,1108.8 1046.8,1111.6 1047.0,1109.0 1047.2,1109.9 1047.4,1110.7 1047.6,1111.6 1047.8,1110.0 1048.0,1109.9 1048.2,1109.2 1048.4,1105.5 1048.6,1104.0 1048.8,1108.6 1049.0,1101.1 1049.2,1103.1 1049.4,1106.6 1049.6,1107.6 1049.8,1106.5 1050.0,1106.0 1050.2,1104.9 1050.4,1109.7 1050.6,1109.4 1050.8,1109.8 1051.0,1107.5 1051.2,1109.0 1051.4,1108.7 1051.6,1106.5 1051.8,1104.3 1052.0,1101.3 1052.2,1100.7 1052.4,1099.4 1052.6,1099.5 1052.8,1103.5 1053.0,1099.8 1053.2,1097.7 1053.4,1100.5 1053.6,1098.7 1053.8,1097.8 1054.0,1101.4 1054.2,1101.1 1054.4,1100.7 1054.6,1097.7 1054.8,1100.3 1055.0,1101.6 1055.2,1108.7 1055.4,1100.6 1055.6,1103.8 1055.8,1097.7 1056.0,1101.6 1056.2,1098.4 1056.4,1100.1 1056.6,1104.3 1056.8,1104.4 1057.0,1101.9 1057.2,1106.7 1057.4,1103.8 1057.6,1100.6 1057.8,1099.7 1058.0,1105.5 1058.2,1107.1 1058.4,1106.6 1058.6,1109.9 1058.8,1110.3 1059.0,1105.8 1059.2,1108.6 1059.4,1109.5 1059.6,1107.6 1059.8,1110.4 1060.0,1111.1 1060.2,1115.0 1060.4,1113.0 1060.6,1113.1 1060.8,1108.6 1061.0,1112.0 1061.2,1111.7 1061.4,1113.4 1061.6,1113.3 1061.8,1110.0 1062.0,1115.1 1062.2,1116.9 1062.4,1116.8 1062.6,1119.0 1062.8,1120.4 1063.0,1117.9 1063.2,1113.9 1063.4,1112.6 1063.6,1116.7 1063.8,1114.4 1064.0,1113.7 1064.2,1114.6 1064.4,1117.8 1064.6,1116.4 1064.8,1115.2 1065.0,1113.6 1065.2,1114.5 1065.4,1116.8 1065.6,1112.3 1065.8,1112.5 1066.0,1114.0 1066.2,1116.9 1066.4,1112.9 1066.6,1112.1 1066.8,1121.3 1067.0,1118.6 1067.2,1118.2 1067.4,1116.2 1067.6,1117.9 1067.8,1114.4 1068.0,1118.2 1068.2,1120.5 1068.4,1118.1 1068.6,1114.3 1068.8,1119.4 1069.0,1112.0 1069.2,1120.2 1069.4,1120.5 1069.6,1115.2 1069.8,1118.4 1070.0,1120.0 1070.2,1116.8 1070.4,1115.2 1070.6,1113.8 1070.8,1119.0 1071.0,1119.4 1071.2,1118.9 1071.4,1120.6 1071.6,1120.3 1071.8,1120.2 1072.0,1119.7 1072.2,1122.3 1072.4,1120.0 1072.6,1119.0 1072.8,1126.8 1073.0,1122.4 1073.2,1120.6 1073.4,1117.9 1073.6,1120.3 1073.8,1120.0 1074.0,1122.4 1074.2,1124.7 1074.4,1127.1 1074.6,1126.3 1074.8,1120.8 1075.0,1124.1 1075.2,1128.5 1075.4,1128.6 1075.6,1127.0 1075.8,1128.6 1076.0,1134.1 1076.2,1131.3 1076.4,1129.9 1076.6,1126.1 1076.8,1126.6 1077.0,1128.0 1077.2,1127.7 1077.4,1128.6 1077.6,1128.7 1077.8,1126.0 1078.0,1127.7 1078.2,1127.8 1078.4,1130.2 1078.6,1131.2 1078.8,1128.3 1079.0,1137.4 1079.2,1129.1 1079.4,1135.7 1079.6,1130.1 1079.8,1133.9 1080.0,1137.2 1080.2,1133.2 1080.4,1135.7 1080.6,1132.2 1080.8,1132.3 1081.0,1132.6 1081.2,1133.1 1081.4,1134.4 1081.6,1135.0 1081.8,1131.8 1082.0,1129.9 1082.2,1124.0 1082.4,1126.9 1082.6,1132.4 1082.8,1131.6 1083.0,1134.3 1083.2,1135.1 1083.4,1133.1 1083.6,1135.9 1083.8,1129.4 1084.0,1128.4 1084.2,1127.7 1084.4,1127.1 1084.6,1125.1 1084.8,1120.8 1085.0,1122.9 1085.2,1119.5 1085.4,1122.2 1085.6,1120.3 1085.8,1120.7 1086.0,1118.1 1086.2,1119.2 1086.4,1116.7 1086.6,1116.9 1086.8,1115.2 1087.0,1118.5 1087.2,1118.9 1087.4,1121.9 1087.6,1121.8 1087.8,1123.4 1088.0,1123.3 1088.2,1118.7 1088.4,1123.8 1088.6,1124.1 1088.8,1128.4 1089.0,1125.6 1089.2,1127.1 1089.4,1132.4 1089.6,1126.3 1089.8,1132.8 1090.0,1132.6 1090.2,1126.0 1090.4,1129.4 1090.6,1130.9 1090.8,1127.6 1091.0,1125.4 1091.2,1130.6 1091.4,1130.7 1091.6,1133.2 1091.8,1130.8 1092.0,1128.6 1092.2,1127.1 1092.4,1126.6 1092.6,1124.1 1092.8,1123.4 1093.0,1125.6 1093.2,1124.1 1093.4,1127.3 1093.6,1122.6 1093.8,1119.0 1094.0,1119.7 1094.2,1122.9 1094.4,1121.8 1094.6,1125.3 1094.8,1118.4 1095.0,1120.1 1095.2,1123.0 1095.4,1121.6 1095.6,1122.8 1095.8,1127.2 1096.0,1130.2 1096.2,1123.1 1096.4,1132.4 1096.6,1132.0 1096.8,1135.2 1097.0,1132.1 1097.2,1136.2 1097.4,1132.8 1097.6,1135.4 1097.8,1133.8 1098.0,1131.2 1098.2,1132.9 1098.4,1131.3 1098.6,1127.1 1098.8,1127.8 1099.0,1132.4 1099.2,1135.4 1099.4,1133.2 1099.6,1138.3 1099.8,1139.8 1100.0,1139.3 1100.2,1139.6 1100.4,1137.2 1100.6,1138.0 1100.8,1142.0 1101.0,1139.0 1101.2,1139.3 1101.4,1138.6 1101.6,1138.3 1101.8,1139.8 1102.0,1136.1 1102.2,1139.9 1102.4,1136.2 1102.6,1132.3 1102.8,1132.8 1103.0,1134.7 1103.2,1135.9 1103.4,1134.6 1103.6,1133.5 1103.8,1132.6 1104.0,1132.7 1104.2,1132.9 1104.4,1137.2 1104.6,1127.6 1104.8,1124.3 1105.0,1127.8 1105.2,1126.4 1105.4,1131.0 1105.6,1126.9 1105.8,1130.3 1106.0,1128.0 1106.2,1129.6 1106.4,1126.6 1106.6,1129.4 1106.8,1124.9 1107.0,1126.2 1107.2,1126.1 1107.4,1123.6 1107.6,1124.5 1107.8,1125.2 1108.0,1124.3 1108.2,1124.4 1108.4,1117.5 1108.6,1116.3 1108.8,1120.7 1109.0,1123.7 1109.2,1120.8 1109.4,1118.4 1109.6,1115.8 1109.8,1114.3 1110.0,1113.1 1110.2,1120.9 1110.4,1119.5 1110.6,1120.7 1110.8,1122.0 1111.0,1120.5 1111.2,1122.3 1111.4,1119.4 1111.6,1119.8 1111.8,1119.7 1112.0,1117.1 1112.2,1113.8 1112.4,1115.0 1112.6,1113.7 1112.8,1114.0 1113.0,1115.1 1113.2,1113.8 1113.4,1116.6 1113.6,1116.9 1113.8,1112.8 1114.0,1114.9 1114.2,1113.0 1114.4,1108.9 1114.6,1104.6 1114.8,1110.9 1115.0,1114.9 1115.2,1116.9 1115.4,1116.3 1115.6,1114.2 1115.8,1118.2 1116.0,1113.6 1116.2,1118.8 1116.4,1115.2 1116.6,1119.2 1116.8,1117.4 1117.0,1113.6 1117.2,1114.8 1117.4,1118.6 1117.6,1112.6 1117.8,1111.0 1118.0,1112.5 1118.2,1112.8 1118.4,1110.9 1118.6,1113.7 1118.8,1111.5 1119.0,1111.3 1119.2,1113.0 1119.4,1111.5 1119.6,1110.4 1119.8,1112.8 1120.0,1109.8 1120.2,1109.4 1120.4,1106.4 1120.6,1108.1 1120.8,1106.8 1121.0,1114.6 1121.2,1111.5 1121.4,1115.1 1121.6,1115.9 1121.8,1115.0 1122.0,1107.0 1122.2,1111.0 1122.4,1108.2 1122.6,1108.5 1122.8,1107.3 1123.0,1105.6 1123.2,1104.3 1123.4,1105.2 1123.6,1103.5 1123.8,1105.9 1124.0,1100.7 1124.2,1103.2 1124.4,1097.2 1124.6,1103.4 1124.8,1103.8 1125.0,1105.4 1125.2,1106.2 1125.4,1108.4 1125.6,1106.6 1125.8,1104.7 1126.0,1106.1 1126.2,1103.5 1126.4,1107.1 1126.6,1109.1 1126.8,1107.5 1127.0,1113.2 1127.2,1115.9 1127.4,1115.6 1127.6,1111.6 1127.8,1111.4 1128.0,1110.6 1128.2,1110.4 1128.4,1110.5 1128.6,1106.8 1128.8,1106.7 1129.0,1106.7 1129.2,1109.7 1129.4,1108.0 1129.6,1107.4 1129.8,1108.4 1130.0,1108.7 1130.2,1108.1 1130.4,1109.1 1130.6,1104.0 1130.8,1101.7 1131.0,1102.2 1131.2,1102.6 1131.4,1104.4 1131.6,1106.5 1131.8,1105.1 1132.0,1103.8 1132.2,1104.1 1132.4,1104.3 1132.6,1107.5 1132.8,1100.3 1133.0,1105.5 1133.2,1105.3 1133.4,1110.3 1133.6,1106.8 1133.8,1105.7 1134.0,1106.6 1134.2,1107.9 1134.4,1114.7 1134.6,1112.8 1134.8,1109.8 1135.0,1110.0 1135.2,1108.0 1135.4,1106.9 1135.6,1111.4 1135.8,1113.7 1136.0,1111.8 1136.2,1107.9 1136.4,1111.0 1136.6,1113.1 1136.8,1112.0 1137.0,1107.8 1137.2,1109.2 1137.4,1107.9 1137.6,1105.8 1137.8,1107.5 1138.0,1105.7 1138.2,1107.6 1138.4,1107.6 1138.6,1104.1 1138.8,1106.4 1139.0,1104.9 1139.2,1106.0 1139.4,1103.4 1139.6,1101.7 1139.8,1103.5 1140.0,1106.3 1140.2,1101.0 1140.4,1100.3 1140.6,1099.1 1140.8,1097.1 1141.0,1103.9 1141.2,1104.5 1141.4,1103.2 1141.6,1101.2 1141.8,1101.9 1142.0,1097.9 1142.2,1098.4 1142.4,1095.4 1142.6,1098.6 1142.8,1099.5 1143.0,1098.6 1143.2,1099.1 1143.4,1101.4 1143.6,1103.0 1143.8,1105.0 1144.0,1100.9 1144.2,1103.0 1144.4,1104.8 1144.6,1107.8 1144.8,1105.0 1145.0,1109.9 1145.2,1107.8 1145.4,1106.6 1145.6,1111.6 1145.8,1113.6 1146.0,1117.1 1146.2,1112.4 1146.4,1111.1 1146.6,1103.1 1146.8,1109.3 1147.0,1107.2 1147.2,1111.1 1147.4,1110.8 1147.6,1113.3 1147.8,1112.2 1148.0,1111.2 1148.2,1114.6 1148.4,1121.9 1148.6,1116.5 1148.8,1113.3 1149.0,1116.1 1149.2,1114.5 1149.4,1119.1 1149.6,1116.0 1149.8,1113.5 1150.0,1113.5 1150.2,1115.0 1150.4,1113.9 1150.6,1112.8 1150.8,1111.2 1151.0,1115.2 1151.2,1114.4 1151.4,1119.8 1151.6,1121.1 1151.8,1129.3 1152.0,1124.1 1152.2,1122.4 1152.4,1124.3 1152.6,1121.2 1152.8,1119.6 1153.0,1116.9 1153.2,1122.2 1153.4,1119.3 1153.6,1119.9 1153.8,1115.9 1154.0,1117.8 1154.2,1114.9 1154.4,1121.4 1154.6,1117.9 1154.8,1113.5 1155.0,1111.3 1155.2,1108.7 1155.4,1110.1 1155.6,1111.4 1155.8,1110.6 1156.0,1113.3 1156.2,1112.9 1156.4,1111.5 1156.6,1112.5 1156.8,1120.7 1157.0,1115.2 1157.2,1115.6 1157.4,1114.8 1157.6,1111.6 1157.8,1115.6 1158.0,1114.3 1158.2,1114.6 1158.4,1111.1 1158.6,1114.4 1158.8,1116.4 1159.0,1117.7 1159.2,1111.7 1159.4,1110.4 1159.6,1113.2 1159.8,1113.5 1160.0,1107.4 1160.2,1116.3 1160.4,1112.9 1160.6,1110.9 1160.8,1108.7 1161.0,1111.2 1161.2,1116.5 1161.4,1115.6 1161.6,1113.8 1161.8,1116.9 1162.0,1117.2 1162.2,1120.3 1162.4,1116.7 1162.6,1115.6 1162.8,1116.5 1163.0,1115.2 1163.2,1116.5 1163.4,1120.1 1163.6,1120.3 1163.8,1118.5 1164.0,1117.1 1164.2,1111.3 1164.4,1111.8 1164.6,1116.4 1164.8,1118.8 1165.0,1120.9 1165.2,1116.4 1165.4,1120.1 1165.6,1124.0 1165.8,1117.4 1166.0,1115.8 1166.2,1119.6 1166.4,1118.8 1166.6,1119.9 1166.8,1127.7 1167.0,1121.2 1167.2,1121.8 1167.4,1123.5 1167.6,1119.7 1167.8,1123.3 1168.0,1119.1 1168.2,1121.0 1168.4,1121.0 1168.6,1119.3 1168.8,1119.7 1169.0,1122.0 1169.2,1120.3 1169.4,1120.4 1169.6,1119.7 1169.8,1119.6 1170.0,1122.1 1170.2,1120.4 1170.4,1123.1 1170.6,1124.0 1170.8,1125.9 1171.0,1128.2 1171.2,1127.3 1171.4,1124.8 1171.6,1116.5 1171.8,1120.2 1172.0,1124.4 1172.2,1122.6 1172.4,1123.3 1172.6,1122.5 1172.8,1127.0 1173.0,1132.9 1173.2,1121.4 1173.4,1128.3 1173.6,1125.7 1173.8,1124.0 1174.0,1124.9 1174.2,1123.8 1174.4,1121.6 1174.6,1122.7 1174.8,1126.1 1175.0,1124.6 1175.2,1127.3 1175.4,1124.4 1175.6,1122.1 1175.8,1118.2 1176.0,1117.8 1176.2,1113.8 1176.4,1112.0 1176.6,1108.7 1176.8,1115.7 1177.0,1108.1 1177.2,1112.6 1177.4,1107.0 1177.6,1112.0 1177.8,1108.0 1178.0,1113.5 1178.2,1116.6 1178.4,1114.2 1178.6,1113.4 1178.8,1107.5 1179.0,1114.9 1179.2,1113.5 1179.4,1114.9 1179.6,1122.8 1179.8,1117.8 1180.0,1118.1 1180.2,1120.6 1180.4,1115.3 1180.6,1120.4 1180.8,1120.0 1181.0,1111.5 1181.2,1118.3 1181.4,1119.1 1181.6,1117.8 1181.8,1117.7 1182.0,1114.5 1182.2,1114.1 1182.4,1118.7 1182.6,1119.4 1182.8,1118.0 1183.0,1119.8 1183.2,1114.4 1183.4,1120.3 1183.6,1120.3 1183.8,1120.9 1184.0,1116.4 1184.2,1123.1 1184.4,1124.3 1184.6,1124.5 1184.8,1125.7 1185.0,1128.6 1185.2,1122.2 1185.4,1130.0 1185.6,1128.2 1185.8,1124.8 1186.0,1123.7 1186.2,1124.4 1186.4,1134.5 1186.6,1129.7 1186.8,1127.7 1187.0,1127.5 1187.2,1124.5 1187.4,1124.6 1187.6,1128.2 1187.8,1126.3 1188.0,1123.2 1188.2,1124.9 1188.4,1125.9 1188.6,1122.3 1188.8,1123.0 1189.0,1123.4 1189.2,1123.9 1189.4,1126.4 1189.6,1127.3 1189.8,1126.4 1190.0,1123.2 1190.2,1127.0 1190.4,1121.8 1190.6,1121.2 1190.8,1119.4 1191.0,1119.5 1191.2,1119.0 1191.4,1118.8 1191.6,1120.7 1191.8,1116.0 1192.0,1119.4 1192.2,1113.9 1192.4,1116.8 1192.6,1119.5 1192.8,1107.1 1193.0,1116.9 1193.2,1111.4 1193.4,1112.8 1193.6,1114.5 1193.8,1117.0 1194.0,1113.6 1194.2,1112.4 1194.4,1115.6 1194.6,1117.4 1194.8,1115.4 1195.0,1119.1 1195.2,1117.4 1195.4,1115.4 1195.6,1115.6 1195.8,1116.8 1196.0,1110.4 1196.2,1115.2 1196.4,1113.1 1196.6,1115.1 1196.8,1114.9 1197.0,1115.5 1197.2,1107.6 1197.4,1117.6 1197.6,1116.4 1197.8,1117.6 1198.0,1118.2 1198.2,1114.8 1198.4,1119.5 1198.6,1119.3 1198.8,1118.8 1199.0,1121.5 1199.2,1119.4 1199.4,1118.4 1199.6,1116.5 1199.8,1113.9 1200.0,1115.3 1200.2,1117.4 1200.4,1117.3 1200.6,1115.8 1200.8,1127.4 1201.0,1119.8 1201.2,1122.9 1201.4,1118.8 1201.6,1122.4 1201.8,1118.5 1202.0,1118.0 1202.2,1120.0 1202.4,1121.0 1202.6,1119.0 1202.8,1119.8 1203.0,1122.1 1203.2,1126.7 1203.4,1123.1 1203.6,1121.0 1203.8,1125.5 1204.0,1116.4 1204.2,1121.4 1204.4,1125.2 1204.6,1121.6 1204.8,1125.0 1205.0,1124.8 1205.2,1122.2 1205.4,1123.2 1205.6,1120.6 1205.8,1120.7 1206.0,1123.9 1206.2,1123.2 1206.4,1123.2 1206.6,1126.2 1206.8,1123.2 1207.0,1121.7 1207.2,1125.5 1207.4,1124.2 1207.6,1126.3 1207.8,1122.0 1208.0,1126.0 1208.2,1121.4 1208.4,1122.3 1208.6,1119.3 1208.8,1122.7 1209.0,1125.3 1209.2,1122.9 1209.4,1123.1 1209.6,1121.2 1209.8,1121.4 1210.0,1121.8 1210.2,1118.8 1210.4,1122.9 1210.6,1116.6 1210.8,1117.3 1211.0,1117.6 1211.2,1123.4 1211.4,1123.3 1211.6,1121.9 1211.8,1123.7 1212.0,1119.6 1212.2,1119.2 1212.4,1121.2 1212.6,1122.2 1212.8,1116.8 1213.0,1119.5 1213.2,1119.6 1213.4,1118.6 1213.6,1111.1 1213.8,1119.1 1214.0,1120.3 1214.2,1119.6 1214.4,1118.8 1214.6,1117.0 1214.8,1118.3 1215.0,1113.8 1215.2,1110.5 1215.4,1113.4 1215.6,1107.9 1215.8,1112.4 1216.0,1106.8 1216.2,1104.9 1216.4,1106.5 1216.6,1102.7 1216.8,1101.2 1217.0,1101.4 1217.2,1096.1 1217.4,1102.2 1217.6,1104.4 1217.8,1100.8 1218.0,1104.1 1218.2,1105.7 1218.4,1102.1 1218.6,1096.8 1218.8,1099.4 1219.0,1099.9 1219.2,1100.8 1219.4,1105.4 1219.6,1102.0 1219.8,1103.2 1220.0,1101.8 1220.2,1099.7 1220.4,1096.7 1220.6,1099.1 1220.8,1100.7 1221.0,1093.8 1221.2,1096.7 1221.4,1098.2 1221.6,1101.4 1221.8,1103.4 1222.0,1100.5 1222.2,1096.2 1222.4,1096.8 1222.6,1092.1 1222.8,1098.0 1223.0,1096.8 1223.2,1100.6 1223.4,1102.5 1223.6,1105.7 1223.8,1102.1 1224.0,1104.5 1224.2,1101.1 1224.4,1100.6 1224.6,1099.4 1224.8,1101.0 1225.0,1097.4 1225.2,1099.5 1225.4,1100.4 1225.6,1101.2 1225.8,1104.5 1226.0,1103.2 1226.2,1109.2 1226.4,1100.4 1226.6,1102.2 1226.8,1101.5 1227.0,1101.1 1227.2,1103.4 1227.4,1104.4 1227.6,1102.9 1227.8,1103.3 1228.0,1100.4 1228.2,1107.1 1228.4,1101.8 1228.6,1102.7 1228.8,1106.3 1229.0,1101.9 1229.2,1102.2 1229.4,1106.8 1229.6,1106.0 1229.8,1108.0 1230.0,1112.4 1230.2,1102.6 1230.4,1105.4 1230.6,1102.6 1230.8,1103.5 1231.0,1105.6 1231.2,1101.1 1231.4,1101.0 1231.6,1103.7 1231.8,1103.4 1232.0,1101.4 1232.2,1105.0 1232.4,1102.7 1232.6,1105.2 1232.8,1105.1 1233.0,1100.2 1233.2,1097.4 1233.4,1101.9 1233.6,1101.9 1233.8,1102.4 1234.0,1105.3 1234.2,1102.7 1234.4,1099.2 1234.6,1100.8 1234.8,1101.6 1235.0,1100.6 1235.2,1105.1 1235.4,1102.5 1235.6,1107.3 1235.8,1105.9 1236.0,1102.3 1236.2,1100.6 1236.4,1104.8 1236.6,1099.9 1236.8,1100.3 1237.0,1099.7 1237.2,1094.8 1237.4,1096.9 1237.6,1094.5 1237.8,1100.7 1238.0,1100.4 1238.2,1099.3 1238.4,1097.5 1238.6,1101.0 1238.8,1100.1 1239.0,1099.7 1239.2,1099.4 1239.4,1093.7 1239.6,1097.7 1239.8,1099.2 1240.0,1096.2 1240.2,1097.6 1240.4,1095.7 1240.6,1093.6 1240.8,1096.5 1241.0,1096.6 1241.2,1099.0 1241.4,1098.4 1241.6,1105.4 1241.8,1100.8 1242.0,1099.2 1242.2,1099.8 1242.4,1097.1 1242.6,1093.4 1242.8,1095.9 1243.0,1100.1 1243.2,1097.6 1243.4,1098.6 1243.6,1096.0 1243.8,1095.3 1244.0,1098.3 1244.2,1096.6 1244.4,1098.4 1244.6,1097.9 1244.8,1098.5 1245.0,1098.6 1245.2,1100.5 1245.4,1100.8 1245.6,1100.7 1245.8,1104.0 1246.0,1104.3 1246.2,1105.4 1246.4,1105.9 1246.6,1107.1 1246.8,1111.6 1247.0,1109.0 1247.2,1108.4 1247.4,1106.0 1247.6,1108.8 1247.8,1106.5 1248.0,1107.8 1248.2,1108.3 1248.4,1109.1 1248.6,1111.1 1248.8,1112.0 1249.0,1110.8 1249.2,1109.8 1249.4,1110.5 1249.6,1112.4 1249.8,1112.4 1250.0,1108.5 1250.2,1112.3 1250.4,1112.8 1250.6,1112.2 1250.8,1115.3 1251.0,1116.3 1251.2,1114.0 1251.4,1114.1 1251.6,1113.4 1251.8,1113.6 1252.0,1115.3 1252.2,1110.9 1252.4,1110.2 1252.6,1108.8 1252.8,1112.1 1253.0,1113.9 1253.2,1112.9 1253.4,1115.1 1253.6,1117.2 1253.8,1119.8 1254.0,1120.0 1254.2,1124.6 1254.4,1122.3 1254.6,1119.6 1254.8,1122.6 1255.0,1125.1 1255.2,1123.2 1255.4,1116.3 1255.6,1119.2 1255.8,1117.9 1256.0,1113.9 1256.2,1117.6 1256.4,1113.3 1256.6,1122.6 1256.8,1117.0 1257.0,1119.1 1257.2,1117.2 1257.4,1115.3 1257.6,1113.1 1257.8,1116.6 1258.0,1113.3 1258.2,1112.8 1258.4,1107.8 1258.6,1109.1 1258.8,1109.7 1259.0,1112.6 1259.2,1115.7 1259.4,1115.0 1259.6,1111.9 1259.8,1110.5 1260.0,1114.2 1260.2,1112.6 1260.4,1116.1 1260.6,1121.4 1260.8,1116.2 1261.0,1119.1 1261.2,1117.9 1261.4,1116.0 1261.6,1115.9 1261.8,1113.9 1262.0,1115.0 1262.2,1109.6 1262.4,1116.0 1262.6,1118.3 1262.8,1120.2 1263.0,1109.0 1263.2,1115.6 1263.4,1113.3 1263.6,1116.5 1263.8,1115.7 1264.0,1115.3 1264.2,1119.3 1264.4,1122.2 1264.6,1119.4 1264.8,1118.4 1265.0,1125.8 1265.2,1116.6 1265.4,1115.4 1265.6,1111.1 1265.8,1116.1 1266.0,1115.3 1266.2,1117.9 1266.4,1116.1 1266.6,1116.7 1266.8,1117.6 1267.0,1118.1 1267.2,1116.8 1267.4,1119.6 1267.6,1112.7 1267.8,1109.6 1268.0,1112.1 1268.2,1115.0 1268.4,1115.0 1268.6,1112.6 1268.8,1110.4 1269.0,1108.7 1269.2,1106.4 1269.4,1105.6 1269.6,1111.5 1269.8,1107.3 1270.0,1102.1 1270.2,1106.8 1270.4,1107.9 1270.6,1099.5 1270.8,1106.9 1271.0,1106.7 1271.2,1106.6 1271.4,1107.8 1271.6,1102.8 1271.8,1104.3 1272.0,1109.9 1272.2,1105.9 1272.4,1106.4 1272.6,1107.7 1272.8,1104.5 1273.0,1101.6 1273.2,1101.6 1273.4,1099.5 1273.6,1102.4 1273.8,1106.4 1274.0,1104.1 1274.2,1102.5 1274.4,1098.3 1274.6,1101.4 1274.8,1099.5 1275.0,1105.6 1275.2,1103.5 1275.4,1104.7 1275.6,1106.6 1275.8,1108.0 1276.0,1100.0 1276.2,1101.6 1276.4,1103.9 1276.6,1104.1 1276.8,1098.9 1277.0,1105.7 1277.2,1106.0 1277.4,1101.4 1277.6,1107.7 1277.8,1109.1 1278.0,1108.3 1278.2,1109.8 1278.4,1103.4 1278.6,1108.5 1278.8,1107.2 1279.0,1108.2 1279.2,1107.8 1279.4,1107.6 1279.6,1105.6 1279.8,1104.7 1280.0,1099.8 1280.2,1101.2 1280.4,1104.1 1280.6,1103.8 1280.8,1108.9 1281.0,1104.5 1281.2,1105.8 1281.4,1105.0 1281.6,1106.6 1281.8,1107.1 1282.0,1107.9 1282.2,1101.6 1282.4,1103.1 1282.6,1106.1 1282.8,1109.1 1283.0,1105.1 1283.2,1108.2 1283.4,1108.5 1283.6,1105.4 1283.8,1106.5 1284.0,1105.0 1284.2,1110.6 1284.4,1110.8 1284.6,1113.1 1284.8,1112.7 1285.0,1111.1 1285.2,1108.4 1285.4,1109.2 1285.6,1111.7 1285.8,1110.5 1286.0,1113.1 1286.2,1111.6 1286.4,1111.0 1286.6,1108.8 1286.8,1113.2 1287.0,1113.6 1287.2,1114.3 1287.4,1116.4 1287.6,1122.6 1287.8,1117.6 1288.0,1118.0 1288.2,1116.7 1288.4,1114.8 1288.6,1114.0 1288.8,1117.9 1289.0,1117.5 1289.2,1119.1 1289.4,1117.8 1289.6,1126.8 1289.8,1119.6 1290.0,1119.6 1290.2,1121.3 1290.4,1119.6 1290.6,1116.4 1290.8,1120.1 1291.0,1116.7 1291.2,1116.6 1291.4,1117.5 1291.6,1111.5 1291.8,1115.0 1292.0,1116.7 1292.2,1116.1 1292.4,1115.6 1292.6,1118.4 1292.8,1113.9 1293.0,1114.2 1293.2,1117.0 1293.4,1115.9 1293.6,1120.4 1293.8,1120.9 1294.0,1125.0 1294.2,1120.6 1294.4,1116.6 1294.6,1123.0 1294.8,1121.5 1295.0,1122.9 1295.2,1118.0 1295.4,1118.6 1295.6,1120.5 1295.8,1121.9 1296.0,1121.6 1296.2,1119.5 1296.4,1122.9 1296.6,1122.4 1296.8,1121.4 1297.0,1125.7 1297.2,1122.9 1297.4,1127.9 1297.6,1123.8 1297.8,1126.5 1298.0,1121.2 1298.2,1121.5 1298.4,1124.6 1298.6,1122.3 1298.8,1124.0 1299.0,1120.2 1299.2,1115.6 1299.4,1117.6 1299.6,1120.6 1299.8,1116.9 1300.0,1122.1 1300.2,1120.8 1300.4,1120.6 1300.6,1123.6 1300.8,1123.8 1301.0,1121.0 1301.2,1120.0 1301.4,1119.2 1301.6,1119.9 1301.8,1119.4 1302.0,1123.4 1302.2,1124.2 1302.4,1119.8 1302.6,1117.5 1302.8,1120.2 1303.0,1119.6 1303.2,1123.6 1303.4,1120.3 1303.6,1124.5 1303.8,1122.2 1304.0,1120.5 1304.2,1115.5 1304.4,1117.8 1304.6,1112.4 1304.8,1116.0 1305.0,1113.7 1305.2,1114.2 1305.4,1115.7 1305.6,1116.3 1305.8,1117.1 1306.0,1115.7 1306.2,1114.2 1306.4,1115.5 1306.6,1110.9 1306.8,1113.3 1307.0,1115.7 1307.2,1119.5 1307.4,1114.0 1307.6,1118.5 1307.8,1115.3 1308.0,1116.0 1308.2,1117.2 1308.4,1114.7 1308.6,1115.1 1308.8,1113.4 1309.0,1114.2 1309.2,1113.7 1309.4,1112.9 1309.6,1113.2 1309.8,1112.7 1310.0,1115.3 1310.2,1110.5 1310.4,1116.1 1310.6,1118.5 1310.8,1122.8 1311.0,1118.4 1311.2,1113.5 1311.4,1114.3 1311.6,1108.3 1311.8,1109.5 1312.0,1113.1 1312.2,1114.0 1312.4,1112.8 1312.6,1112.6 1312.8,1115.2 1313.0,1117.3 1313.2,1113.5 1313.4,1111.8 1313.6,1108.2 1313.8,1113.6 1314.0,1112.9 1314.2,1112.9 1314.4,1113.9 1314.6,1112.5 1314.8,1114.0 1315.0,1116.1 1315.2,1114.2 1315.4,1108.7 1315.6,1104.6 1315.8,1107.3 1316.0,1109.4 1316.2,1110.3 1316.4,1110.5 1316.6,1110.6 1316.8,1113.2 1317.0,1113.6 1317.2,1112.3 1317.4,1112.2 1317.6,1114.5 1317.8,1113.1 1318.0,1110.8 1318.2,1115.4 1318.4,1118.3 1318.6,1112.9 1318.8,1112.0 1319.0,1113.4 1319.2,1112.9 1319.4,1112.9 1319.6,1114.8 1319.8,1117.6 1320.0,1122.4 1320.2,1119.4 1320.4,1118.0 1320.6,1118.2 1320.8,1116.7 1321.0,1116.2 1321.2,1117.3 1321.4,1117.9 1321.6,1118.5 1321.8,1120.4 1322.0,1115.7 1322.2,1115.0 1322.4,1118.1 1322.6,1116.3 1322.8,1119.5 1323.0,1120.0 1323.2,1117.9 1323.4,1122.2 1323.6,1118.9 1323.8,1121.8 1324.0,1118.0 1324.2,1118.5 1324.4,1121.0 1324.6,1121.8 1324.8,1114.6 1325.0,1121.6 1325.2,1123.4 1325.4,1120.0 1325.6,1118.6 1325.8,1120.5 1326.0,1118.8 1326.2,1111.5 1326.4,1113.4 1326.6,1116.1 1326.8,1114.1 1327.0,1111.7 1327.2,1111.8 1327.4,1115.1 1327.6,1112.2 1327.8,1110.6 1328.0,1110.2 1328.2,1108.3 1328.4,1115.4 1328.6,1113.0 1328.8,1117.1 1329.0,1116.0 1329.2,1110.6 1329.4,1110.8 1329.6,1110.6 1329.8,1114.9 1330.0,1115.0 1330.2,1112.2 1330.4,1111.9 1330.6,1117.0 1330.8,1115.7 1331.0,1115.2 1331.2,1111.4 1331.4,1113.9 1331.6,1112.3 1331.8,1111.5 1332.0,1110.0 1332.2,1107.6 1332.4,1105.8 1332.6,1106.9 1332.8,1107.8 1333.0,1107.6 1333.2,1106.0 1333.4,1108.8 1333.6,1108.6 1333.8,1107.6 1334.0,1101.8 1334.2,1103.7 1334.4,1105.6 1334.6,1104.6 1334.8,1107.9 1335.0,1104.0 1335.2,1106.6 1335.4,1115.1 1335.6,1109.5 1335.8,1109.4 1336.0,1109.5 1336.2,1108.2 1336.4,1106.9 1336.6,1110.7 1336.8,1110.8 1337.0,1108.4 1337.2,1114.5 1337.4,1114.1 1337.6,1109.8 1337.8,1110.2 1338.0,1112.4 1338.2,1113.0 1338.4,1112.5 1338.6,1109.9 1338.8,1112.8 1339.0,1110.0 1339.2,1106.6 1339.4,1109.2 1339.6,1107.0 1339.8,1103.6 1340.0,1102.3 1340.2,1106.7 1340.4,1107.1 1340.6,1102.7 1340.8,1108.5 1341.0,1108.6 1341.2,1106.9 1341.4,1106.1 1341.6,1108.1 1341.8,1110.1 1342.0,1110.3 1342.2,1112.3 1342.4,1108.0 1342.6,1110.4 1342.8,1110.8 1343.0,1109.6 1343.2,1113.3 1343.4,1112.3 1343.6,1106.8 1343.8,1103.9 1344.0,1106.6 1344.2,1103.9 1344.4,1103.7 1344.6,1104.0 1344.8,1106.2 1345.0,1107.0 1345.2,1104.4 1345.4,1108.0 1345.6,1102.7 1345.8,1104.0 1346.0,1103.8 1346.2,1093.3 1346.4,1100.2 1346.6,1100.6 1346.8,1103.4 1347.0,1101.0 1347.2,1101.6 1347.4,1102.1 1347.6,1103.0 1347.8,1101.2 1348.0,1096.4 1348.2,1096.2 1348.4,1101.5 1348.6,1101.8 1348.8,1103.8 1349.0,1104.9 1349.2,1105.9 1349.4,1104.2 1349.6,1105.3 1349.8,1107.4 1350.0,1111.7 1350.2,1111.5 1350.4,1104.4 1350.6,1111.3 1350.8,1109.6 1351.0,1111.8 1351.2,1112.5 1351.4,1113.7 1351.6,1114.6 1351.8,1116.6 1352.0,1115.0 1352.2,1113.1 1352.4,1118.2 1352.6,1113.2 1352.8,1113.4 1353.0,1118.0 1353.2,1120.4 1353.4,1117.6 1353.6,1125.3 1353.8,1117.5 1354.0,1118.6 1354.2,1117.6 1354.4,1116.4 1354.6,1114.4 1354.8,1115.1 1355.0,1116.7 1355.2,1115.7 1355.4,1115.6 1355.6,1119.3 1355.8,1125.0 1356.0,1118.4 1356.2,1121.2 1356.4,1117.4 1356.6,1117.4 1356.8,1117.0 1357.0,1114.4 1357.2,1120.3 1357.4,1122.4 1357.6,1128.3 1357.8,1122.2 1358.0,1125.4 1358.2,1120.9 1358.4,1122.3 1358.6,1121.3 1358.8,1120.9 1359.0,1125.3 1359.2,1120.1 1359.4,1124.1 1359.6,1122.8 1359.8,1122.9 1360.0,1120.6 1360.2,1116.5 1360.4,1119.7 1360.6,1119.2 1360.8,1120.5 1361.0,1116.3 1361.2,1116.4 1361.4,1114.6 1361.6,1114.0 1361.8,1116.1 1362.0,1119.1 1362.2,1117.9 1362.4,1120.7 1362.6,1120.8 1362.8,1117.9 1363.0,1113.6 1363.2,1112.5 1363.4,1111.8 1363.6,1114.3 1363.8,1110.7 1364.0,1112.5 1364.2,1111.9 1364.4,1113.3 1364.6,1108.8 1364.8,1106.8 1365.0,1114.6 1365.2,1110.1 1365.4,1111.3 1365.6,1110.8 1365.8,1108.1 1366.0,1111.4 1366.2,1113.3 1366.4,1114.1 1366.6,1114.4 1366.8,1119.5 1367.0,1120.8 1367.2,1116.4 1367.4,1116.9 1367.6,1117.1 1367.8,1121.2 1368.0,1118.8 1368.2,1119.9 1368.4,1116.6 1368.6,1123.5 1368.8,1120.0 1369.0,1123.2 1369.2,1116.6 1369.4,1117.7 1369.6,1117.9 1369.8,1123.4 1370.0,1113.9 1370.2,1121.0 1370.4,1118.3 1370.6,1116.8 1370.8,1123.6 1371.0,1122.0 1371.2,1116.9 1371.4,1119.1 1371.6,1118.9 1371.8,1119.2 1372.0,1110.9 1372.2,1114.9 1372.4,1113.8 1372.6,1107.5 1372.8,1109.0 1373.0,1105.7 1373.2,1109.3 1373.4,1101.3 1373.6,1105.3 1373.8,1108.1 1374.0,1103.9 1374.2,1106.6 1374.4,1104.6 1374.6,1104.9 1374.8,1106.0 1375.0,1099.8 1375.2,1107.1 1375.4,1105.8 1375.6,1103.4 1375.8,1112.4 1376.0,1111.6 1376.2,1113.6 1376.4,1111.1 1376.6,1112.7 1376.8,1106.6 1377.0,1105.1 1377.2,1100.3 1377.4,1104.6 1377.6,1102.8 1377.8,1103.7 1378.0,1102.5 1378.2,1108.0 1378.4,1110.3 1378.6,1107.4 1378.8,1106.3 1379.0,1107.7 1379.2,1103.1 1379.4,1107.1 1379.6,1099.8 1379.8,1101.3 1380.0,1101.6 1380.2,1102.5 1380.4,1103.5 1380.6,1103.2 1380.8,1103.8 1381.0,1104.3 1381.2,1099.1 1381.4,1099.3 1381.6,1098.7 1381.8,1106.1 1382.0,1102.1 1382.2,1098.3 1382.4,1101.6 1382.6,1099.3 1382.8,1102.5 1383.0,1103.6 1383.2,1102.5 1383.4,1102.6 1383.6,1101.6 1383.8,1101.6 1384.0,1105.8 1384.2,1103.0 1384.4,1106.2 1384.6,1104.3 1384.8,1102.6 1385.0,1101.7 1385.2,1104.7 1385.4,1103.6 1385.6,1093.7 1385.8,1100.6 1386.0,1098.0 1386.2,1097.6 1386.4,1096.3 1386.6,1097.8 1386.8,1097.9 1387.0,1100.6 1387.2,1100.8 1387.4,1100.1 1387.6,1097.6 1387.8,1095.4 1388.0,1094.9 1388.2,1092.6 1388.4,1096.6 1388.6,1094.7 1388.8,1098.5 1389.0,1097.6 1389.2,1099.4 1389.4,1097.5 1389.6,1096.4 1389.8,1100.7 1390.0,1099.0 1390.2,1096.1 1390.4,1098.3 1390.6,1095.1 1390.8,1100.8 1391.0,1100.4 1391.2,1100.5 1391.4,1105.3 1391.6,1098.7 1391.8,1101.1 1392.0,1107.7 1392.2,1108.2 1392.4,1104.8 1392.6,1101.6 1392.8,1107.8 1393.0,1101.6 1393.2,1105.7 1393.4,1105.3 1393.6,1108.8 1393.8,1106.1 1394.0,1107.1 1394.2,1102.1 1394.4,1102.3 1394.6,1101.7 1394.8,1096.2 1395.0,1098.7 1395.2,1097.4 1395.4,1099.3 1395.6,1097.0 1395.8,1100.7 1396.0,1099.6 1396.2,1097.5 1396.4,1095.1 1396.6,1097.7 1396.8,1100.9 1397.0,1096.9 1397.2,1095.8 1397.4,1092.0 1397.6,1093.7 1397.8,1092.0 1398.0,1096.4 1398.2,1097.4 1398.4,1096.2 1398.6,1099.8 1398.8,1094.9 1399.0,1095.2 1399.2,1093.0 1399.4,1092.9 1399.6,1094.9 1399.8,1093.4 1400.0,1096.0 1400.2,1096.0 1400.4,1096.2 1400.6,1094.5 1400.8,1097.4 1401.0,1097.9 1401.2,1093.4 1401.4,1100.4 1401.6,1099.0 1401.8,1097.2 1402.0,1101.8 1402.2,1101.1 1402.4,1097.0 1402.6,1097.0 1402.8,1101.2 1403.0,1099.1 1403.2,1099.5 1403.4,1100.1 1403.6,1103.6 1403.8,1103.7 1404.0,1103.2 1404.2,1103.8 1404.4,1102.3 1404.6,1104.1 1404.8,1097.2 1405.0,1097.9 1405.2,1103.3 1405.4,1098.3 1405.6,1098.8 1405.8,1098.1 1406.0,1099.9 1406.2,1096.8 1406.4,1093.0 1406.6,1096.5 1406.8,1100.0 1407.0,1097.9 1407.2,1097.5 1407.4,1100.4 1407.6,1096.0 1407.8,1098.5 1408.0,1098.6 1408.2,1097.9 1408.4,1096.0 1408.6,1096.2 1408.8,1094.5 1409.0,1093.6 1409.2,1092.1 1409.4,1091.0 1409.6,1092.5 1409.8,1091.2 1410.0,1093.8 1410.2,1095.6 1410.4,1089.5 1410.6,1092.0 1410.8,1084.1 1411.0,1088.1 1411.2,1089.0 1411.4,1088.5 1411.6,1094.1 1411.8,1089.6 1412.0,1091.8 1412.2,1092.5 1412.4,1094.7 1412.6,1093.5 1412.8,1092.8 1413.0,1082.8 1413.2,1088.9 1413.4,1088.3 1413.6,1088.5 1413.8,1085.3 1414.0,1086.9 1414.2,1084.6 1414.4,1087.1 1414.6,1084.0 1414.8,1083.1 1415.0,1079.6 1415.2,1079.1 1415.4,1078.9 1415.6,1081.9 1415.8,1077.1 1416.0,1083.4 1416.2,1079.2 1416.4,1085.0 1416.6,1078.8 1416.8,1080.9 1417.0,1077.1 1417.2,1081.2 1417.4,1076.9 1417.6,1075.3 1417.8,1075.4 1418.0,1075.5 1418.2,1076.1 1418.4,1078.3 1418.6,1080.0 1418.8,1075.9 1419.0,1080.2 1419.2,1076.6 1419.4,1079.0 1419.6,1080.0 1419.8,1081.2 1420.0,1090.6 1420.2,1080.9 1420.4,1080.7 1420.6,1081.7 1420.8,1081.3 1421.0,1081.1 1421.2,1081.4 1421.4,1077.5 1421.6,1081.5 1421.8,1079.0 1422.0,1079.2 1422.2,1074.7 1422.4,1082.3 1422.6,1089.5 1422.8,1082.9 1423.0,1078.0 1423.2,1082.3 1423.4,1083.7 1423.6,1078.0 1423.8,1081.0 1424.0,1083.6 1424.2,1081.1 1424.4,1081.7 1424.6,1078.1 1424.8,1081.4 1425.0,1078.0 1425.2,1077.7 1425.4,1079.1 1425.6,1081.3 1425.8,1079.7 1426.0,1078.9 1426.2,1079.0 1426.4,1077.6 1426.6,1075.8 1426.8,1078.0 1427.0,1074.2 1427.2,1073.8 1427.4,1079.1 1427.6,1075.1 1427.8,1075.0 1428.0,1072.8 1428.2,1074.9 1428.4,1074.2 1428.6,1072.2 1428.8,1075.0 1429.0,1076.0 1429.2,1074.7 1429.4,1076.4 1429.6,1074.2 1429.8,1073.2 1430.0,1075.3 1430.2,1074.7 1430.4,1069.1 1430.6,1077.5 1430.8,1074.6 1431.0,1075.1 1431.2,1078.0 1431.4,1078.8 1431.6,1078.7 1431.8,1080.2 1432.0,1081.2 1432.2,1074.5 1432.4,1082.0 1432.6,1076.9 1432.8,1080.8 1433.0,1081.0 1433.2,1078.1 1433.4,1082.7 1433.6,1081.2 1433.8,1078.7 1434.0,1080.6 1434.2,1084.4 1434.4,1080.8 1434.6,1084.0 1434.8,1083.0 1435.0,1083.5 1435.2,1084.9 1435.4,1084.0 1435.6,1087.8 1435.8,1086.7 1436.0,1090.6 1436.2,1085.0 1436.4,1087.2 1436.6,1091.8 1436.8,1086.5 1437.0,1086.4 1437.2,1071.8 1437.4,1082.9 1437.6,1089.7 1437.8,1084.1 1438.0,1084.7 1438.2,1082.5 1438.4,1084.9 1438.6,1082.2 1438.8,1082.7 1439.0,1079.4 1439.2,1080.0 1439.4,1078.4 1439.6,1078.8 1439.8,1081.4 1440.0,1077.5 1440.2,1080.5 1440.4,1080.6 1440.6,1079.3 1440.8,1077.3 1441.0,1077.6 1441.2,1077.6 1441.4,1080.0 1441.6,1080.9 1441.8,1086.4 1442.0,1084.3 1442.2,1079.5 1442.4,1077.1 1442.6,1081.3 1442.8,1079.2 1443.0,1084.2 1443.2,1084.5 1443.4,1082.7 1443.6,1084.9 1443.8,1079.8 1444.0,1079.8 1444.2,1078.1 1444.4,1081.2 1444.6,1081.0 1444.8,1081.4 1445.0,1082.5 1445.2,1086.8 1445.4,1086.6 1445.6,1083.5 1445.8,1088.7 1446.0,1091.3 1446.2,1088.3 1446.4,1089.5 1446.6,1088.3 1446.8,1090.4 1447.0,1091.9 1447.2,1092.4 1447.4,1096.4 1447.6,1099.5 1447.8,1099.0 1448.0,1089.8 1448.2,1094.4 1448.4,1092.9 1448.6,1092.8 1448.8,1088.8 1449.0,1091.4 1449.2,1088.8 1449.4,1090.7 1449.6,1089.3 1449.8,1088.5 1450.0,1090.2 1450.2,1090.8 1450.4,1085.3 1450.6,1081.5 1450.8,1082.6 1451.0,1084.3 1451.2,1077.4 1451.4,1080.7 1451.6,1071.5 1451.8,1077.1 1452.0,1075.2 1452.2,1074.9 1452.4,1072.1 1452.6,1070.1 1452.8,1072.8 1453.0,1075.2 1453.2,1073.5 1453.4,1074.1 1453.6,1073.0 1453.8,1074.4 1454.0,1078.1 1454.2,1073.1 1454.4,1074.6 1454.6,1073.2 1454.8,1071.3 1455.0,1074.4 1455.2,1075.5 1455.4,1074.8 1455.6,1074.1 1455.8,1078.3 1456.0,1077.9 1456.2,1075.4 1456.4,1072.2 1456.6,1075.9 1456.8,1082.8 1457.0,1083.9 1457.2,1078.9 1457.4,1085.6 1457.6,1077.2 1457.8,1079.5 1458.0,1076.5 1458.2,1077.0 1458.4,1077.7 1458.6,1075.5 1458.8,1075.9 1459.0,1074.3 1459.2,1077.9 1459.4,1078.4 1459.6,1083.5 1459.8,1076.0 1460.0,1076.7 1460.2,1075.9 1460.4,1074.1 1460.6,1075.6 1460.8,1074.4 1461.0,1074.8 1461.2,1073.5 1461.4,1074.9 1461.6,1073.0 1461.8,1072.7 1462.0,1069.8 1462.2,1069.6 1462.4,1071.5 1462.6,1067.4 1462.8,1070.1 1463.0,1075.8 1463.2,1075.5 1463.4,1070.7 1463.6,1070.5 1463.8,1075.9 1464.0,1072.9 1464.2,1069.1 1464.4,1068.8 1464.6,1067.0 1464.8,1061.7 1465.0,1065.0 1465.2,1066.7 1465.4,1064.7 1465.6,1063.4 1465.8,1067.7 1466.0,1064.6 1466.2,1058.0 1466.4,1054.1 1466.6,1048.4 1466.8,1054.0 1467.0,1052.3 1467.2,1052.4 1467.4,1052.8 1467.6,1053.3 1467.8,1057.4 1468.0,1059.1 1468.2,1056.2 1468.4,1056.8 1468.6,1057.2 1468.8,1061.9 1469.0,1063.1 1469.2,1063.6 1469.4,1060.9 1469.6,1063.4 1469.8,1064.6 1470.0,1067.0 1470.2,1063.5 1470.4,1065.8 1470.6,1069.4 1470.8,1066.1 1471.0,1063.3 1471.2,1062.8 1471.4,1060.5 1471.6,1060.3 1471.8,1058.0 1472.0,1059.8 1472.2,1065.3 1472.4,1064.1 1472.6,1066.5 1472.8,1066.6 1473.0,1067.7 1473.2,1068.0 1473.4,1066.1 1473.6,1065.4 1473.8,1062.9 1474.0,1061.8 1474.2,1063.2 1474.4,1060.4 1474.6,1061.5 1474.8,1060.5 1475.0,1059.9 1475.2,1054.6 1475.4,1052.0 1475.6,1052.3 1475.8,1054.5 1476.0,1053.8 1476.2,1055.8 1476.4,1052.8 1476.6,1049.8 1476.8,1055.4 1477.0,1057.4 1477.2,1052.8 1477.4,1053.4 1477.6,1050.2 1477.8,1048.7 1478.0,1046.8 1478.2,1045.0 1478.4,1047.7 1478.6,1049.0 1478.8,1049.2 1479.0,1050.4 1479.2,1055.8 1479.4,1051.8 1479.6,1052.8 1479.8,1054.7 1480.0,1049.4 1480.2,1051.1 1480.4,1059.5 1480.6,1060.0 1480.8,1059.8 1481.0,1063.4 1481.2,1064.7 1481.4,1064.2 1481.6,1064.7 1481.8,1066.2 1482.0,1063.6 1482.2,1066.8 1482.4,1064.0 1482.6,1065.1 1482.8,1062.5 1483.0,1063.7 1483.2,1067.1 1483.4,1062.9 1483.6,1066.6 1483.8,1065.6 1484.0,1063.9 1484.2,1067.3 1484.4,1064.4 1484.6,1065.3 1484.8,1060.7 1485.0,1064.2 1485.2,1067.6 1485.4,1058.3 1485.6,1060.6 1485.8,1064.8 1486.0,1060.5 1486.2,1061.2 1486.4,1059.7 1486.6,1066.1 1486.8,1064.4 1487.0,1061.6 1487.2,1063.5 1487.4,1065.4 1487.6,1066.8 1487.8,1071.0 1488.0,1064.6 1488.2,1066.7 1488.4,1069.2 1488.6,1066.9 1488.8,1067.4 1489.0,1065.0 1489.2,1060.5 1489.4,1063.5 1489.6,1064.1 1489.8,1068.0 1490.0,1066.9 1490.2,1067.1 1490.4,1067.8 1490.6,1068.0 1490.8,1067.3 1491.0,1070.3 1491.2,1067.6 1491.4,1058.8 1491.6,1063.8 1491.8,1064.4 1492.0,1065.6 1492.2,1069.2 1492.4,1069.0 1492.6,1077.5 1492.8,1071.7 1493.0,1072.7 1493.2,1076.2 1493.4,1074.8 1493.6,1067.3 1493.8,1073.7 1494.0,1067.3 1494.2,1076.7 1494.4,1071.2 1494.6,1066.0 1494.8,1071.4 1495.0,1066.4 1495.2,1070.1 1495.4,1066.4 1495.6,1068.6 1495.8,1066.7 1496.0,1070.7 1496.2,1073.0 1496.4,1069.6 1496.6,1067.6 1496.8,1067.3 1497.0,1063.5 1497.2,1059.7 1497.4,1062.9 1497.6,1060.3 1497.8,1060.3 1498.0,1062.6 1498.2,1060.0 1498.4,1061.1 1498.6,1061.8 1498.8,1060.4 1499.0,1060.0 1499.2,1062.1 1499.4,1062.2 1499.6,1059.3 1499.8,1057.3 1500.0,1055.1 1500.2,1054.9 1500.4,1055.4 1500.6,1058.4 1500.8,1056.4 1501.0,1055.4 1501.2,1057.7 1501.4,1059.1 1501.6,1057.1 1501.8,1060.2 1502.0,1059.7 1502.2,1055.9 1502.4,1060.7 1502.6,1062.2 1502.8,1057.9 1503.0,1054.8 1503.2,1062.1 1503.4,1057.5 1503.6,1061.7 1503.8,1061.6 1504.0,1062.5 1504.2,1060.4 1504.4,1064.9 1504.6,1063.7 1504.8,1063.2 1505.0,1068.8 1505.2,1070.4 1505.4,1067.6 1505.6,1066.0 1505.8,1068.3 1506.0,1063.6 1506.2,1068.9 1506.4,1072.2 1506.6,1072.2 1506.8,1070.8 1507.0,1069.9 1507.2,1068.3 1507.4,1070.4 1507.6,1071.0 1507.8,1071.7 1508.0,1071.9 1508.2,1069.0 1508.4,1070.9 1508.6,1067.8 1508.8,1072.8 1509.0,1072.7 1509.2,1071.1 1509.4,1069.2 1509.6,1066.8 1509.8,1068.4 1510.0,1066.5 1510.2,1063.7 1510.4,1064.1 1510.6,1065.0 1510.8,1064.1 1511.0,1066.0 1511.2,1068.0 1511.4,1068.4 1511.6,1064.8 1511.8,1068.6 1512.0,1068.7 1512.2,1068.5 1512.4,1067.5 1512.6,1063.4 1512.8,1065.2 1513.0,1059.9 1513.2,1062.5 1513.4,1065.4 1513.6,1067.6 1513.8,1068.8 1514.0,1067.5 1514.2,1067.8 1514.4,1068.2 1514.6,1070.5 1514.8,1075.6 1515.0,1069.8 1515.2,1066.9 1515.4,1067.5 1515.6,1065.4 1515.8,1067.1 1516.0,1072.4 1516.2,1072.8 1516.4,1075.1 1516.6,1072.3 1516.8,1078.8 1517.0,1078.4 1517.2,1077.2 1517.4,1075.1 1517.6,1071.6 1517.8,1076.8 1518.0,1073.5 1518.2,1068.0 1518.4,1076.5 1518.6,1068.9 1518.8,1075.5 1519.0,1076.0 1519.2,1076.2 1519.4,1072.8 1519.6,1075.4 1519.8,1073.4 1520.0,1080.3 1520.2,1072.8 1520.4,1069.7 1520.6,1066.4 1520.8,1068.9 1521.0,1066.1 1521.2,1065.1 1521.4,1061.5 1521.6,1062.0 1521.8,1063.3 1522.0,1062.2 1522.2,1061.0 1522.4,1062.3 1522.6,1058.9 1522.8,1062.7 1523.0,1059.7 1523.2,1055.4 1523.4,1058.2 1523.6,1056.8 1523.8,1057.1 1524.0,1060.8 1524.2,1059.2 1524.4,1061.8 1524.6,1058.7 1524.8,1057.2 1525.0,1056.9 1525.2,1054.9 1525.4,1057.1 1525.6,1051.8 1525.8,1055.0 1526.0,1057.3 1526.2,1058.3 1526.4,1055.2 1526.6,1063.2 1526.8,1059.8 1527.0,1061.6 1527.2,1060.1 1527.4,1057.6 1527.6,1059.4 1527.8,1053.7 1528.0,1056.6 1528.2,1055.9 1528.4,1053.7 1528.6,1052.6 1528.8,1053.6 1529.0,1056.3 1529.2,1052.5 1529.4,1056.9 1529.6,1054.1 1529.8,1055.3 1530.0,1056.2 1530.2,1056.5 1530.4,1053.8 1530.6,1058.0 1530.8,1055.2 1531.0,1055.2 1531.2,1057.9 1531.4,1056.3 1531.6,1052.7 1531.8,1060.9 1532.0,1060.8 1532.2,1064.1 1532.4,1059.6 1532.6,1056.7 1532.8,1059.1 1533.0,1064.3 1533.2,1060.0 1533.4,1056.2 1533.6,1057.8 1533.8,1059.4 1534.0,1057.5 1534.2,1058.4 1534.4,1062.1 1534.6,1053.3 1534.8,1060.3 1535.0,1063.7 1535.2,1069.4 1535.4,1061.3 1535.6,1059.9 1535.8,1060.1 1536.0,1062.5 1536.2,1056.8 1536.4,1060.3 1536.6,1054.0 1536.8,1059.8 1537.0,1059.3 1537.2,1058.6 1537.4,1055.2 1537.6,1057.5 1537.8,1057.7 1538.0,1060.1 1538.2,1060.7 1538.4,1058.2 1538.6,1056.6 1538.8,1054.7 1539.0,1051.9 1539.2,1058.2 1539.4,1058.7 1539.6,1060.3 1539.8,1059.3 1540.0,1058.9 1540.2,1056.9 1540.4,1057.1 1540.6,1057.2 1540.8,1054.5 1541.0,1058.9 1541.2,1062.2 1541.4,1055.6 1541.6,1062.1 1541.8,1059.0 1542.0,1061.9 1542.2,1059.3 1542.4,1060.6 1542.6,1059.3 1542.8,1058.4 1543.0,1053.4 1543.2,1048.6 1543.4,1053.6 1543.6,1056.6 1543.8,1055.5 1544.0,1058.7 1544.2,1054.6 1544.4,1058.4 1544.6,1056.8 1544.8,1061.8 1545.0,1057.1 1545.2,1058.3 1545.4,1055.8 1545.6,1056.6 1545.8,1054.8 1546.0,1051.8 1546.2,1050.7 1546.4,1052.6" fill="none" stroke="#6a20c8" stroke-width="1.8" stroke-linejoin="miter" stroke-miterlimit="3" clip-path="url(#clipE)"/>
<polyline points="1665.5,1059.5 1665.6,1054.0 1665.7,1057.9 1665.7,1062.0 1665.9,1064.7 1666.1,1070.5 1666.3,1074.6 1666.5,1073.3 1666.7,1080.4 1666.9,1080.7 1667.0,1078.0 1667.1,1080.7 1667.1,1094.1 1667.3,1094.9 1667.5,1081.7 1667.7,1098.1 1667.9,1114.8 1668.1,1115.4 1668.3,1111.3 1668.5,1121.9 1668.6,1089.9 1668.7,1147.9 1668.7,1123.9 1668.9,1149.1 1669.1,1142.8 1669.3,1152.6 1669.5,1135.2 1669.7,1150.5 1669.9,1150.3 1670.1,1183.4 1670.2,1136.9 1670.3,1200.4 1670.3,1190.3 1670.5,1189.6 1670.7,1217.2 1670.9,1214.0 1671.0,1177.5 1671.1,1257.6 1671.1,1217.6 1671.3,1238.3 1671.5,1237.9 1671.7,1268.2 1671.9,1225.1 1671.9,1216.4 1672.0,1271.4 1672.1,1260.2 1672.3,1234.0 1672.5,1259.0 1672.7,1236.4 1672.9,1228.7 1673.1,1270.6 1673.3,1250.6 1673.5,1272.1 1673.7,1247.1 1673.7,1234.7 1673.8,1273.7 1673.9,1246.4 1674.1,1268.0 1674.3,1248.7 1674.5,1255.5 1674.7,1246.0 1674.9,1252.6 1675.1,1236.1 1675.3,1251.1 1675.5,1253.4 1675.7,1263.7 1675.9,1264.0 1676.0,1237.0 1676.1,1253.8 1676.1,1271.4 1676.3,1255.4 1676.5,1253.9 1676.7,1270.7 1676.9,1247.4 1677.1,1261.7 1677.3,1254.8 1677.5,1241.6 1677.7,1258.6 1677.9,1264.2 1678.1,1256.0 1678.3,1242.0 1678.3,1234.7 1678.4,1269.1 1678.5,1258.6 1678.7,1259.3 1678.9,1249.7 1679.1,1262.3 1679.3,1239.6 1679.5,1243.5 1679.7,1251.7 1679.9,1255.1 1680.1,1263.4 1680.3,1264.1 1680.5,1249.4 1680.6,1239.3 1680.7,1265.1 1680.7,1271.4 1680.9,1269.9 1681.1,1263.1 1681.3,1253.8 1681.5,1252.1 1681.7,1246.0 1681.9,1234.2 1682.1,1245.2 1682.3,1237.8 1682.5,1254.6 1682.7,1253.4 1682.9,1255.9 1682.9,1230.1 1683.0,1271.4 1683.1,1254.6 1683.3,1255.8 1683.5,1242.6 1683.7,1243.7 1683.9,1252.9 1684.1,1266.0 1684.3,1220.9 1684.5,1228.8 1684.7,1239.6 1684.9,1227.1 1685.1,1232.9 1685.2,1211.8 1685.3,1240.5 1685.3,1269.1 1685.5,1226.7 1685.7,1249.9 1685.9,1246.8 1686.1,1246.1 1686.3,1240.6 1686.5,1243.7 1686.7,1204.3 1686.9,1241.5 1687.1,1215.6 1687.3,1252.3 1687.5,1200.4 1687.5,1216.8 1687.6,1250.8 1687.7,1231.7 1687.9,1209.6 1688.1,1215.1 1688.3,1232.7 1688.5,1235.6 1688.7,1248.4 1688.9,1241.7 1689.1,1246.2 1689.3,1250.8 1689.5,1223.7 1689.7,1248.7 1689.8,1223.3 1689.9,1250.8 1689.9,1231.5 1690.1,1239.6 1690.3,1236.2 1690.5,1243.2 1690.7,1242.4 1690.9,1240.1 1691.1,1232.6 1691.3,1222.3 1691.5,1235.6 1691.7,1234.6 1691.9,1234.9 1692.1,1221.0 1692.1,1238.2 1692.2,1246.2 1692.3,1246.2 1692.5,1241.9 1692.7,1237.2 1692.9,1230.2 1693.1,1225.0 1693.3,1244.6 1693.5,1238.7 1693.7,1233.9 1693.9,1222.1 1694.1,1230.9 1694.3,1238.1 1694.4,1218.7 1694.5,1246.2 1694.5,1235.2 1694.7,1224.6 1694.9,1228.7 1695.1,1220.7 1695.3,1215.6 1695.5,1241.0 1695.7,1229.0 1695.9,1219.7 1696.1,1201.6 1696.2,1168.3 1696.3,1246.2 1696.3,1240.4 1696.5,1191.1 1696.7,1226.8 1696.9,1208.8 1697.1,1201.8 1697.3,1230.1 1697.5,1216.7 1697.7,1243.0 1697.8,1227.9 1697.9,1233.4 1697.9,1269.1 1698.1,1249.9 1698.3,1244.6 1698.5,1232.2 1698.7,1246.3 1698.9,1242.4 1699.1,1272.4 1699.3,1272.7 1699.5,1265.2 1699.7,1267.7 1699.9,1281.7 1700.1,1230.1 1700.1,1260.9 1700.2,1282.8 1700.3,1260.1 1700.5,1280.9 1700.7,1267.6 1700.9,1246.0 1701.1,1282.2 1701.3,1262.8 1701.5,1281.1 1701.7,1283.5 1701.9,1255.9 1702.1,1262.4 1702.3,1270.5 1702.4,1234.7 1702.5,1287.4 1702.5,1245.1 1702.7,1251.0 1702.9,1268.7 1703.1,1268.1 1703.3,1256.9 1703.5,1270.3 1703.7,1278.6 1703.9,1265.1 1704.1,1265.3 1704.3,1275.8 1704.5,1264.7 1704.7,1255.3 1704.7,1269.1 1704.8,1305.8 1704.9,1276.3 1705.1,1257.9 1705.3,1275.1 1705.5,1285.9 1705.7,1271.1 1705.9,1297.7 1706.1,1288.6 1706.3,1300.3 1706.5,1285.5 1706.7,1293.5 1706.9,1286.7 1707.0,1269.1 1707.1,1305.8 1707.1,1276.3 1707.3,1293.2 1707.5,1278.7 1707.7,1292.4 1707.9,1274.2 1708.1,1285.6 1708.3,1281.5 1708.5,1300.4 1708.7,1280.4 1708.9,1298.8 1709.1,1290.8 1709.3,1257.6 1709.3,1304.3 1709.4,1308.0 1709.5,1278.5 1709.7,1296.6 1709.9,1296.0 1710.1,1293.1 1710.3,1288.3 1710.5,1301.7 1710.7,1270.7 1710.9,1294.2 1711.1,1280.6 1711.3,1291.8 1711.5,1295.1 1711.5,1269.1 1711.6,1303.5 1711.7,1289.8 1711.9,1283.0 1712.1,1275.4 1712.3,1269.0 1712.5,1275.7 1712.7,1287.2 1712.9,1265.1 1713.1,1300.4 1713.3,1279.1 1713.5,1270.1 1713.7,1290.4 1713.8,1255.3 1713.9,1290.4 1713.9,1298.9 1714.1,1281.3 1714.3,1267.3 1714.5,1275.5 1714.7,1285.7 1714.9,1280.5 1715.1,1254.1 1715.3,1278.3 1715.5,1285.2 1715.7,1263.3 1715.9,1253.3 1716.1,1261.4 1716.1,1253.1 1716.2,1280.5 1716.3,1267.1 1716.5,1263.8 1716.7,1262.8 1716.9,1249.2 1717.1,1256.9 1717.3,1255.6 1717.5,1259.5 1717.7,1267.6 1717.9,1252.0 1718.1,1265.3 1718.3,1266.2 1718.4,1241.6 1718.5,1261.6 1718.5,1269.1 1718.7,1244.1 1718.9,1258.9 1719.1,1235.1 1719.3,1232.7 1719.5,1208.9 1719.7,1211.1 1719.9,1206.6 1720.1,1243.5 1720.3,1220.5 1720.5,1215.4 1720.7,1196.5 1720.7,1163.7 1720.8,1246.2 1720.9,1196.2 1721.1,1185.9 1721.3,1200.2 1721.5,1233.9 1721.7,1205.6 1721.9,1241.4 1722.1,1220.5 1722.3,1207.3 1722.5,1231.5 1722.7,1214.3 1722.9,1227.6 1723.0,1195.8 1723.1,1211.6 1723.1,1237.0 1723.3,1236.8 1723.5,1227.2 1723.7,1227.4 1723.9,1238.9 1724.1,1223.0 1724.3,1208.8 1724.5,1223.5 1724.7,1248.8 1724.9,1259.9 1725.1,1223.1 1725.3,1218.7 1725.3,1251.1 1725.4,1269.1 1725.5,1256.2 1725.7,1233.9 1725.9,1233.1 1726.1,1284.3 1726.3,1270.3 1726.5,1264.6 1726.7,1280.2 1726.9,1255.9 1727.1,1286.3 1727.3,1284.1 1727.5,1285.5 1727.6,1269.1 1727.7,1314.9 1727.7,1305.6 1727.9,1292.3 1728.1,1292.9 1728.3,1287.2 1728.5,1283.5 1728.7,1292.4 1728.9,1312.4 1729.1,1273.6 1729.3,1281.9 1729.5,1288.1 1729.7,1303.5 1729.9,1276.0 1729.9,1288.1 1730.0,1319.5 1730.1,1303.6 1730.3,1276.8 1730.5,1284.4 1730.7,1305.6 1730.9,1278.0 1731.1,1301.0 1731.3,1313.6 1731.5,1306.5 1731.7,1307.6 1731.9,1289.2 1732.1,1292.7 1732.2,1280.5 1732.3,1321.8 1732.3,1311.2 1732.5,1303.3 1732.7,1320.1 1732.9,1304.6 1733.1,1301.6 1733.3,1300.0 1733.5,1317.6 1733.7,1312.1 1733.9,1293.8 1734.1,1307.2 1734.3,1289.1 1734.5,1278.3 1734.5,1311.8 1734.6,1324.1 1734.7,1297.9 1734.9,1319.1 1735.1,1320.1 1735.3,1312.7 1735.5,1286.4 1735.7,1298.8 1735.9,1308.8 1736.1,1309.1 1736.3,1310.8 1736.5,1317.9 1736.7,1301.9 1736.7,1292.0 1736.8,1326.4 1736.9,1297.2 1737.1,1296.2 1737.3,1321.1 1737.5,1319.7 1737.7,1306.6 1737.9,1311.3 1738.1,1325.8 1738.3,1309.5 1738.5,1321.0 1738.7,1322.7 1738.9,1317.5 1739.0,1296.6 1739.1,1324.2 1739.1,1335.5 1739.3,1327.8 1739.5,1312.7 1739.7,1300.8 1739.9,1316.4 1740.1,1304.7 1740.3,1304.2 1740.5,1325.5 1740.7,1312.0 1740.9,1317.2 1741.1,1322.6 1741.3,1315.5 1741.3,1310.3 1741.4,1335.5 1741.5,1326.2 1741.7,1335.2 1741.9,1315.2 1742.1,1320.7 1742.3,1308.4 1742.5,1313.7 1742.7,1332.7 1742.9,1319.1 1743.1,1315.9 1743.3,1322.7 1743.5,1316.5 1743.6,1305.8 1743.7,1329.6 1743.7,1333.2 1743.9,1316.5 1744.1,1311.7 1744.3,1313.6 1744.5,1302.2 1744.7,1317.7 1744.9,1317.7 1745.1,1299.8 1745.3,1299.0 1745.5,1306.4 1745.7,1311.8 1745.9,1321.2 1745.9,1296.6 1746.0,1324.1 1746.1,1301.5 1746.3,1301.0 1746.5,1305.9 1746.7,1315.8 1746.9,1296.5 1747.1,1300.0 1747.3,1295.8 1747.5,1309.2 1747.7,1313.4 1747.9,1316.1 1748.1,1313.1 1748.2,1282.8 1748.3,1305.7 1748.3,1314.9 1748.5,1292.0 1748.7,1300.6 1748.9,1306.3 1749.1,1301.8 1749.3,1287.4 1749.5,1291.6 1749.7,1289.8 1749.9,1299.8 1750.1,1293.7 1750.3,1288.1 1750.5,1278.3 1750.5,1295.2 1750.6,1303.5 1750.7,1290.8 1750.9,1279.3 1751.1,1292.1 1751.3,1280.3 1751.5,1275.2 1751.7,1262.7 1751.9,1272.6 1752.1,1274.9 1752.3,1242.1 1752.5,1252.4 1752.7,1255.0 1752.8,1232.4 1752.9,1287.4 1752.9,1266.7 1753.1,1240.4 1753.3,1287.4 1753.5,1256.8 1753.7,1248.8 1753.9,1259.7 1754.1,1273.7 1754.3,1262.7 1754.5,1254.4 1754.7,1267.1 1754.9,1268.5 1755.1,1246.2 1755.1,1266.9 1755.2,1287.4 1755.3,1252.8 1755.5,1268.0 1755.7,1288.0 1755.9,1259.7 1756.1,1264.7 1756.3,1236.4 1756.5,1260.3 1756.7,1264.4 1756.9,1251.3 1757.1,1254.9 1757.3,1239.4 1757.4,1227.9 1757.5,1289.7 1757.5,1270.0 1757.7,1255.3 1757.9,1233.0 1758.1,1246.7 1758.3,1256.7 1758.5,1254.4 1758.7,1283.0 1758.9,1247.0 1759.1,1249.6 1759.3,1231.8 1759.5,1255.8 1759.7,1216.4 1759.7,1230.3 1759.8,1278.3 1759.9,1254.3 1760.1,1234.9 1760.3,1232.5 1760.5,1233.5 1760.7,1282.4 1760.9,1229.1 1761.1,1268.6 1761.3,1252.1 1761.5,1229.3 1761.7,1247.2 1761.9,1239.7 1761.9,1223.3 1762.0,1287.4 1762.1,1258.5 1762.3,1269.9 1762.5,1278.6 1762.7,1240.2 1762.9,1238.8 1763.1,1236.5 1763.3,1243.7 1763.5,1233.4 1763.7,1258.6 1763.9,1238.3 1764.1,1235.7 1764.2,1223.3 1764.3,1223.2 1764.3,1250.8 1764.5,1237.4 1764.7,1227.8 1764.9,1249.4 1765.1,1239.8 1765.3,1231.6 1765.5,1238.2 1765.7,1247.8 1765.9,1236.3 1766.1,1239.0 1766.3,1219.2 1766.5,1226.0 1766.5,1218.7 1766.6,1246.2 1766.7,1221.9 1766.9,1235.3 1767.1,1218.9 1767.3,1216.4 1767.5,1227.2 1767.7,1229.3 1767.9,1236.4 1768.1,1246.6 1768.3,1243.7 1768.5,1232.0 1768.7,1232.6 1768.8,1211.8 1768.9,1212.8 1768.9,1250.8 1769.1,1245.4 1769.3,1226.1 1769.5,1232.4 1769.7,1237.7 1769.9,1230.9 1770.1,1239.6 1770.3,1251.8 1770.5,1256.8 1770.7,1262.0 1770.9,1255.9 1771.1,1247.4 1771.1,1239.3 1771.2,1264.5 1771.3,1255.3 1771.5,1245.1 1771.7,1241.1 1771.9,1258.0 1772.1,1251.2 1772.3,1251.9 1772.5,1247.9 1772.7,1272.5 1772.9,1258.7 1773.1,1269.5 1773.3,1260.6 1773.4,1246.2 1773.5,1262.4 1773.5,1276.0 1773.7,1262.2 1773.9,1274.0 1774.1,1246.2 1774.3,1258.6 1774.5,1255.3 1774.7,1265.8 1774.9,1256.4 1775.1,1262.4 1775.3,1256.3 1775.5,1253.4 1775.7,1246.2 1775.7,1267.3 1775.8,1282.8 1775.9,1275.7 1776.1,1270.3 1776.3,1254.5 1776.5,1262.7 1776.7,1281.4 1776.9,1271.2 1777.1,1286.0 1777.3,1280.2 1777.5,1297.8 1777.7,1272.8 1777.9,1288.2 1778.0,1269.1 1778.1,1308.0 1778.1,1296.7 1778.3,1293.3 1778.5,1273.0 1778.7,1278.8 1778.9,1283.7 1779.1,1275.5 1779.3,1283.8 1779.5,1283.6 1779.7,1285.8 1779.9,1286.1 1780.1,1281.4 1780.3,1271.4 1780.3,1302.2 1780.4,1317.2 1780.5,1304.8 1780.7,1289.0 1780.9,1307.3 1781.1,1305.8 1781.3,1284.7 1781.5,1311.9 1781.7,1307.9 1781.9,1299.7 1782.1,1283.0 1782.3,1291.7 1782.5,1279.7 1782.6,1264.5 1782.7,1310.3 1782.7,1296.6 1782.9,1283.8 1783.1,1273.4 1783.3,1274.1 1783.5,1281.9 1783.7,1277.9 1783.9,1296.1 1784.1,1300.1 1784.3,1293.2 1784.5,1287.6 1784.7,1289.5 1784.9,1273.7 1784.9,1286.8 1785.0,1314.9 1785.1,1283.3 1785.3,1298.9 1785.5,1286.7 1785.7,1300.1 1785.9,1282.0 1786.1,1279.7 1786.3,1297.8 1786.5,1316.6 1786.7,1295.2 1786.9,1285.3 1787.1,1312.2 1787.1,1276.0 1787.2,1317.2 1787.3,1296.2 1787.5,1292.3 1787.7,1282.6 1787.9,1306.7 1788.1,1292.6 1788.3,1288.0 1788.5,1295.5 1788.7,1314.5 1788.9,1311.5 1789.1,1286.5 1789.3,1280.3 1789.4,1280.5 1789.5,1324.2 1789.5,1328.7 1789.7,1305.2 1789.9,1329.1 1790.1,1311.2 1790.3,1313.7 1790.5,1308.7 1790.7,1310.5 1790.9,1313.7 1791.1,1312.9 1791.3,1327.9 1791.5,1313.3 1791.7,1313.2 1791.7,1303.5 1791.8,1331.0 1791.9,1325.3 1792.1,1309.8 1792.3,1314.8 1792.5,1317.4 1792.7,1307.0 1792.9,1320.2 1793.1,1316.9 1793.3,1322.9 1793.5,1319.5 1793.7,1311.3 1793.9,1310.8 1794.0,1310.3 1794.1,1313.8 1794.1,1328.7 1794.3,1315.8 1794.5,1315.6 1794.7,1314.1 1794.9,1321.5 1795.1,1301.3 1795.3,1307.1 1795.5,1334.3 1795.7,1312.8 1795.9,1313.0 1796.1,1325.3 1796.3,1289.2 1796.3,1282.8 1796.4,1347.0 1796.5,1319.0 1796.7,1311.7 1796.9,1302.0 1797.1,1317.9 1797.3,1336.7 1797.5,1319.9 1797.7,1314.2 1797.9,1337.1 1798.1,1324.3 1798.3,1339.0 1798.5,1332.5 1798.6,1301.2 1798.7,1319.9 1798.7,1337.8 1798.9,1309.8 1799.1,1312.1 1799.3,1330.1 1799.5,1295.1 1799.7,1341.1 1799.9,1283.0 1800.1,1317.8 1800.3,1328.9 1800.5,1289.9 1800.7,1271.8 1800.9,1269.1 1800.9,1292.2 1801.0,1344.7 1801.1,1294.9 1801.3,1322.6 1801.5,1303.8 1801.7,1309.7 1801.9,1302.6 1802.1,1334.8 1802.3,1297.5 1802.5,1303.7 1802.7,1312.4 1802.9,1342.7 1803.1,1280.1 1803.2,1280.5 1803.3,1342.4 1803.3,1279.9 1803.5,1295.7 1803.7,1288.8 1803.9,1303.3 1804.1,1318.1 1804.3,1315.7 1804.5,1297.9 1804.7,1288.2 1804.9,1297.1 1805.1,1285.6 1805.3,1336.1 1805.5,1266.8 1805.5,1322.9 1805.6,1335.5 1805.7,1297.5 1805.9,1313.3 1806.1,1293.3 1806.3,1302.2 1806.5,1305.8 1806.7,1287.5 1806.9,1305.6 1807.1,1297.9 1807.3,1312.5 1807.5,1295.9 1807.7,1302.1 1807.8,1292.0 1807.9,1326.4 1807.9,1313.9 1808.1,1323.0 1808.3,1313.9 1808.5,1312.1 1808.7,1296.9 1808.9,1304.6 1809.1,1310.7 1809.3,1309.1 1809.5,1310.4 1809.7,1317.9 1809.9,1319.3 1810.1,1298.9 1810.1,1306.6 1810.2,1321.8 1810.3,1304.1 1810.5,1298.1 1810.7,1309.5 1810.9,1312.9 1811.1,1317.2 1811.3,1302.5 1811.5,1303.9 1811.7,1300.6 1811.9,1319.9 1812.1,1319.2 1812.3,1302.4 1812.3,1292.0 1812.4,1319.5 1812.5,1308.2 1812.7,1300.9 1812.9,1304.4 1813.1,1321.0 1813.3,1306.6 1813.5,1307.7 1813.7,1309.8 1813.9,1300.9 1814.1,1299.9 1814.3,1299.8 1814.5,1319.0 1814.6,1301.2 1814.7,1307.5 1814.7,1324.1 1814.9,1308.9 1815.1,1319.4 1815.3,1306.0 1815.5,1310.7 1815.7,1308.6 1815.9,1317.1 1816.1,1312.9 1816.3,1302.8 1816.5,1322.5 1816.7,1324.9 1816.9,1318.2 1816.9,1303.5 1817.0,1328.7 1817.1,1314.1 1817.3,1315.7 1817.5,1308.4 1817.7,1314.6 1817.9,1324.7 1818.1,1319.6 1818.3,1308.5 1818.5,1308.8 1818.7,1316.5 1818.9,1327.2 1819.1,1322.0 1819.2,1308.0 1819.3,1319.0 1819.3,1331.0 1819.5,1324.7 1819.7,1313.0 1819.9,1320.6 1820.1,1315.0 1820.3,1308.1 1820.5,1321.1 1820.7,1305.5 1820.9,1315.4 1821.1,1324.4 1821.3,1303.6 1821.5,1326.4 1821.5,1298.9 1821.6,1331.0 1821.7,1327.2 1821.9,1319.7 1822.1,1304.3 1822.3,1301.4 1822.5,1298.8 1822.7,1300.9 1822.9,1280.0 1823.1,1302.2 1823.3,1326.5 1823.5,1257.7 1823.7,1330.5 1823.8,1241.6 1823.9,1260.9 1823.9,1333.2 1824.1,1270.9 1824.3,1284.9 1824.5,1297.0 1824.7,1305.4 1824.9,1336.8 1825.1,1318.2 1825.3,1332.1 1825.5,1307.2 1825.7,1324.8 1825.9,1298.2 1826.1,1303.5 1826.1,1310.3 1826.2,1344.7 1826.3,1345.7 1826.5,1326.5 1826.7,1336.1 1826.9,1339.8 1827.1,1339.6 1827.3,1322.2 1827.5,1338.1 1827.7,1352.7 1827.9,1348.2 1828.1,1339.0 1828.3,1344.0 1828.4,1333.2 1828.5,1356.2 1828.5,1341.5 1828.7,1346.2 1828.9,1346.0 1829.1,1345.6 1829.3,1340.8 1829.5,1334.4 1829.7,1349.7 1829.9,1348.3 1830.1,1350.8 1830.3,1355.5 1830.5,1346.1 1830.7,1335.5 1830.7,1356.7 1830.8,1360.7 1830.9,1346.7 1831.1,1355.1 1831.3,1352.7 1831.5,1341.4 1831.7,1355.0 1831.9,1351.1 1832.1,1347.9 1832.3,1346.0 1832.5,1347.1 1832.7,1340.2 1832.9,1335.7 1833.0,1331.0 1833.1,1360.7 1833.1,1345.2 1833.3,1351.6 1833.5,1342.5 1833.7,1349.0 1833.9,1329.4 1834.1,1354.6 1834.3,1342.2 1834.5,1337.1 1834.7,1338.7 1834.9,1340.2 1835.1,1337.1 1835.3,1321.8 1835.3,1338.5 1835.4,1349.3 1835.5,1323.2 1835.7,1338.1 1835.9,1329.7 1836.1,1318.6 1836.3,1337.6 1836.5,1327.3 1836.7,1344.6 1836.9,1317.0 1837.1,1340.9 1837.3,1329.7 1837.5,1309.6 1837.5,1294.3 1837.6,1344.7 1837.7,1333.2 1837.9,1328.4 1838.1,1334.0 1838.3,1314.5 1838.5,1300.0 1838.7,1317.2 1838.9,1324.1 1839.1,1333.0 1839.3,1335.8 1839.5,1336.5 1839.7,1330.0 1839.8,1308.0 1839.9,1326.5 1839.9,1340.1 1840.1,1321.8 1840.3,1332.0 1840.5,1323.4 1840.7,1331.8 1840.9,1326.2 1841.1,1339.2 1841.3,1327.8 1841.5,1325.5 1841.7,1327.5 1841.9,1342.4 1842.1,1329.4 1842.1,1312.6 1842.2,1358.4 1842.3,1351.9 1842.5,1321.7 1842.7,1337.7 1842.9,1328.8 1843.1,1316.8 1843.3,1330.5 1843.5,1336.3 1843.7,1338.0 1843.9,1325.3 1844.1,1314.1 1844.3,1317.9 1844.4,1303.5 1844.5,1318.7 1844.5,1349.3 1844.7,1348.4 1844.9,1303.7 1845.1,1318.2 1845.3,1346.6 1845.5,1296.8 1845.7,1343.8 1845.9,1339.2 1846.1,1326.8 1846.3,1318.9 1846.5,1269.5 1846.7,1301.9 1846.7,1264.5 1846.8,1342.4 1846.9,1301.9 1847.1,1334.8 1847.3,1335.4 1847.5,1293.1 1847.7,1286.2 1847.9,1307.5 1848.1,1352.1 1848.3,1328.5 1848.5,1330.1 1848.7,1342.3 1848.9,1332.1 1849.0,1314.9 1849.1,1341.2 1849.1,1358.4 1849.3,1327.8 1849.5,1329.1 1849.7,1343.6 1849.9,1340.5 1850.1,1345.5 1850.3,1339.6 1850.5,1347.6 1850.7,1342.9 1850.9,1342.4 1851.1,1347.8 1851.3,1328.7 1851.3,1341.1 1851.4,1351.6 1851.5,1330.9 1851.7,1331.4 1851.9,1334.5 1852.1,1344.2 1852.3,1328.8 1852.5,1329.9 1852.7,1344.2 1852.9,1345.9 1853.1,1313.4 1853.3,1314.2 1853.5,1324.3 1853.6,1303.5 1853.7,1347.0 1853.7,1327.6 1853.9,1320.5 1854.1,1311.3 1854.3,1347.7 1854.5,1333.7 1854.7,1345.6 1854.9,1339.6 1855.1,1338.3 1855.3,1318.1 1855.5,1337.4 1855.7,1336.8 1855.9,1321.8 1855.9,1337.2 1856.0,1349.3 1856.1,1328.1 1856.3,1321.8 1856.5,1331.8 1856.7,1336.2 1856.9,1338.9 1857.1,1328.7 1857.3,1303.5 1857.3,1304.6 1857.4,1344.7 1857.5,1319.6 1857.7,1316.7 1857.9,1313.0 1858.1,1305.5 1858.3,1327.5 1858.5,1309.5 1858.7,1318.8 1858.9,1324.1 1859.1,1304.7 1859.3,1310.3 1859.5,1304.3 1859.6,1287.4 1859.7,1337.8 1859.7,1329.2 1859.9,1299.5 1860.1,1284.9 1860.3,1324.0 1860.5,1275.5 1860.7,1331.5 1860.9,1313.3 1861.1,1311.2 1861.3,1310.8 1861.5,1302.8 1861.7,1309.0 1861.9,1257.6 1861.9,1257.5 1862.0,1335.5 1862.1,1288.2 1862.3,1267.8 1862.5,1253.3 1862.7,1263.0 1862.9,1280.1 1863.1,1291.0 1863.3,1267.0 1863.5,1262.5 1863.7,1311.2 1863.9,1292.7 1864.1,1259.5 1864.2,1241.6 1864.3,1314.9 1864.3,1260.2 1864.5,1281.9 1864.7,1298.7 1864.9,1270.3 1865.1,1280.7 1865.3,1305.2 1865.5,1251.5 1865.7,1290.4 1865.9,1283.3 1866.1,1266.2 1866.3,1296.4 1866.5,1253.1 1866.5,1312.0 1866.6,1337.8 1866.7,1287.5 1866.9,1284.9 1867.1,1326.4 1867.3,1304.3 1867.5,1286.1 1867.7,1309.9 1867.9,1318.9 1868.1,1305.7 1868.3,1284.4 1868.5,1304.0 1868.7,1299.1 1868.7,1292.0 1868.8,1340.1 1868.9,1335.6 1869.1,1303.9 1869.3,1338.1 1869.5,1314.2 1869.7,1314.5 1869.9,1316.8 1870.1,1335.3 1870.3,1297.9 1870.5,1306.5 1870.7,1307.8 1870.9,1316.8 1871.0,1287.4 1871.1,1303.5 1871.1,1337.8 1871.3,1314.1 1871.5,1324.8 1871.7,1307.7 1871.9,1331.7 1872.1,1313.9 1872.3,1312.6 1872.5,1324.1 1872.7,1311.5 1872.9,1322.6 1873.1,1308.8 1873.3,1301.3 1873.3,1294.3 1873.4,1342.4 1873.5,1321.7 1873.7,1327.4 1873.9,1315.8 1874.1,1329.9 1874.3,1309.4 1874.5,1347.1 1874.7,1311.2 1874.9,1324.7 1875.1,1314.5 1875.3,1312.3 1875.5,1297.8 1875.6,1280.5 1875.7,1342.4 1875.7,1351.6 1875.9,1313.4 1876.1,1306.3 1876.3,1339.7 1876.5,1339.0 1876.7,1310.0 1876.9,1334.4 1877.1,1343.2 1877.3,1329.3 1877.5,1307.7 1877.7,1327.5 1877.9,1319.0 1877.9,1303.5 1878.0,1356.2 1878.1,1312.3 1878.3,1333.0 1878.5,1339.0 1878.7,1305.8 1878.9,1324.9 1879.1,1319.1 1879.3,1335.2 1879.5,1323.1 1879.7,1313.8 1879.9,1347.1 1880.1,1328.6 1880.2,1310.3 1880.3,1346.2 1880.3,1351.6 1880.5,1333.8 1880.7,1321.5 1880.9,1315.9 1881.1,1315.7 1881.3,1329.9 1881.5,1335.5 1881.7,1350.1 1881.9,1320.5 1882.1,1336.3 1882.3,1345.0 1882.5,1314.9 1882.5,1352.9 1882.6,1358.4 1882.7,1347.3 1882.9,1342.0 1883.1,1342.0 1883.3,1316.9 1883.5,1333.2 1883.7,1315.8 1883.9,1352.8 1884.1,1341.8 1884.3,1326.7 1884.5,1323.7 1884.7,1323.1 1884.8,1303.5 1884.9,1349.3 1884.9,1333.3 1885.1,1320.6 1885.3,1321.6 1885.5,1310.6 1885.7,1328.4 1885.9,1328.8 1886.1,1305.1 1886.3,1326.3 1886.5,1314.3 1886.7,1327.3 1886.9,1327.9 1887.1,1287.4 1887.1,1306.1 1887.2,1337.8 1887.3,1321.7 1887.5,1328.2 1887.7,1299.6 1887.9,1315.4 1888.1,1303.5 1888.3,1322.6 1888.5,1299.1 1888.7,1325.6 1888.9,1314.2 1889.1,1323.8 1889.3,1333.4 1889.4,1303.5 1889.5,1333.2 1889.5,1318.0 1889.7,1308.9 1889.9,1306.3 1890.1,1323.6 1890.3,1302.3 1890.5,1299.3 1890.7,1318.5 1890.9,1329.1 1891.1,1317.2 1891.3,1335.2 1891.5,1328.5 1891.7,1287.4 1891.7,1322.6 1891.8,1335.5 1891.9,1319.2 1892.1,1319.3 1892.3,1321.0 1892.5,1329.1 1892.7,1319.4 1892.9,1301.4 1893.1,1300.2 1893.3,1309.0 1893.5,1321.9 1893.7,1306.6 1893.9,1321.4 1893.9,1305.8 1894.0,1342.4 1894.1,1325.5 1894.3,1334.7 1894.5,1306.8 1894.7,1303.6 1894.9,1295.5 1895.1,1293.3 1895.3,1304.3 1895.5,1337.3 1895.7,1272.4 1895.9,1305.3 1896.1,1309.2 1896.2,1262.2 1896.3,1333.5 1896.3,1344.7 1896.5,1331.8 1896.7,1313.3 1896.9,1278.0 1897.1,1297.2 1897.3,1307.8 1897.5,1304.4 1897.7,1327.1 1897.9,1314.0 1898.1,1310.8 1898.3,1323.8 1898.5,1332.4 1898.5,1314.9 1898.6,1340.1 1898.7,1321.6 1898.9,1316.4 1899.1,1316.6 1899.3,1322.7 1899.5,1323.6 1899.7,1313.3 1899.9,1310.8 1900.1,1325.2 1900.3,1336.6 1900.5,1336.2 1900.7,1335.8 1900.8,1292.0 1900.9,1306.1 1900.9,1335.5 1901.1,1317.0 1901.3,1315.4 1901.5,1312.5 1901.7,1313.1 1901.9,1319.6 1902.1,1325.1 1902.3,1333.1 1902.5,1333.7 1902.7,1322.2 1902.9,1323.4 1903.1,1332.4 1903.1,1314.9 1903.2,1337.8 1903.3,1330.2 1903.5,1322.1 1903.7,1324.9 1903.9,1312.0 1904.1,1325.1 1904.3,1314.5 1904.5,1323.8 1904.7,1308.6 1904.9,1320.4 1905.1,1311.1 1905.3,1315.0 1905.4,1305.8 1905.5,1318.5 1905.5,1331.0 1905.7,1311.4 1905.9,1328.5 1906.1,1322.6 1906.3,1309.6 1906.5,1328.0 1906.7,1310.3 1906.9,1311.6 1907.1,1327.4 1907.3,1327.2 1907.5,1306.5 1907.7,1282.8 1907.7,1314.2 1907.8,1326.4 1907.9,1304.0 1908.1,1316.1 1908.3,1302.8 1908.5,1316.5 1908.7,1290.6 1908.9,1308.7 1909.1,1314.8 1909.3,1307.0 1909.5,1294.8 1909.7,1307.0 1909.9,1300.0 1910.0,1296.6 1910.1,1314.9 1910.1,1301.7 1910.3,1302.4 1910.5,1312.1 1910.7,1295.4 1910.9,1283.8 1911.1,1308.7 1911.3,1286.0 1911.5,1279.1 1911.7,1280.8 1911.9,1277.5 1912.1,1296.4 1912.3,1250.8 1912.3,1250.7 1912.4,1303.5 1912.5,1262.0 1912.7,1282.0 1912.9,1271.9 1913.1,1266.9 1913.3,1247.7 1913.5,1273.9 1913.7,1257.6 1913.9,1274.0 1914.1,1245.3 1914.3,1260.5 1914.5,1260.1 1914.6,1243.9 1914.7,1269.1 1914.7,1266.3 1914.9,1254.9 1915.1,1248.9 1915.3,1254.3 1915.5,1249.3 1915.7,1251.9 1915.9,1238.6 1916.1,1249.3 1916.3,1249.6 1916.5,1249.2 1916.7,1247.2 1916.9,1234.7 1916.9,1259.0 1917.0,1259.9 1917.1,1259.0 1917.3,1249.9 1917.5,1236.4 1917.7,1250.8 1917.9,1230.7 1918.1,1219.0 1918.3,1211.8 1918.5,1216.2 1918.7,1177.5 1918.7,1245.9 1918.8,1253.1 1918.9,1242.4 1919.1,1240.3 1919.3,1224.2 1919.5,1207.1 1919.7,1223.9 1919.9,1218.3 1920.1,1209.1 1920.3,1237.0 1920.5,1196.5 1920.7,1200.9 1920.9,1205.0 1921.1,1214.8 1921.3,1221.5 1921.4,1200.4 1921.5,1233.3 1921.5,1246.2 1921.7,1235.1 1921.9,1218.4 1922.1,1216.9 1922.3,1225.8 1922.5,1238.7 1922.7,1231.1 1922.9,1234.4 1923.1,1238.4 1923.3,1231.6 1923.5,1227.1 1923.7,1200.4 1923.7,1200.4 1923.8,1250.8 1923.9,1221.3 1924.1,1213.2 1924.3,1221.5 1924.5,1228.9 1924.7,1242.3 1924.9,1247.6 1925.1,1228.5 1925.3,1244.8 1925.5,1247.1 1925.7,1224.5 1925.9,1247.3 1926.0,1227.9 1926.1,1244.9 1926.1,1259.9 1926.3,1229.4 1926.5,1247.5 1926.7,1253.2 1926.9,1254.5 1927.1,1242.8 1927.3,1255.5 1927.5,1259.0 1927.7,1255.3 1927.9,1234.3 1928.1,1258.8 1928.3,1243.9 1928.3,1227.9 1928.4,1266.8 1928.5,1246.4 1928.7,1267.8 1928.9,1272.1 1929.1,1275.1 1929.3,1241.7 1929.5,1278.1 1929.7,1247.3 1929.9,1274.7 1930.1,1260.3 1930.3,1276.8 1930.5,1286.0 1930.6,1259.9 1930.7,1286.1 1930.7,1292.0 1930.9,1271.6 1931.1,1248.5 1931.3,1262.7 1931.5,1260.8 1931.7,1267.9 1931.9,1283.0 1932.1,1248.5 1932.3,1278.6 1932.5,1241.1 1932.7,1244.3 1932.9,1207.2 1932.9,1267.2 1933.0,1298.9 1933.1,1281.0 1933.3,1288.3 1933.5,1259.8 1933.7,1290.0 1933.9,1261.4 1934.1,1313.4 1934.3,1301.4 1934.5,1296.7 1934.7,1288.9 1934.9,1298.1 1935.1,1311.0 1935.2,1292.0 1935.3,1326.4 1935.3,1305.1 1935.5,1313.5 1935.7,1305.0 1935.9,1307.9 1936.1,1325.6 1936.3,1307.9 1936.5,1313.9 1936.7,1309.9 1936.9,1325.2 1937.1,1311.6 1937.3,1318.6 1937.5,1303.5 1937.5,1322.9 1937.6,1337.8 1937.7,1318.2 1937.9,1326.8 1938.1,1322.4 1938.3,1320.4 1938.5,1309.8 1938.7,1312.7 1938.9,1302.4 1939.1,1302.3 1939.3,1296.4 1939.5,1337.4 1939.7,1326.9 1939.8,1273.7 1939.9,1340.1 1939.9,1291.7 1940.1,1311.2 1940.3,1328.0 1940.5,1313.4 1940.7,1340.1 1940.9,1302.6 1941.1,1321.6 1941.3,1298.2 1941.5,1336.1 1941.7,1317.6 1941.9,1327.5 1942.1,1310.3 1942.1,1335.0 1942.2,1340.1 1942.3,1325.4 1942.5,1322.0 1942.7,1319.7 1942.9,1337.5 1943.1,1338.9 1943.3,1320.1 1943.5,1336.6 1943.7,1318.2 1943.9,1304.8 1944.1,1316.4 1944.3,1314.5 1944.3,1303.5 1944.4,1337.8 1944.5,1324.3 1944.7,1324.5 1944.9,1312.2 1945.1,1311.2 1945.3,1316.3 1945.5,1297.7 1945.7,1322.8 1945.9,1326.4 1946.1,1315.7 1946.3,1298.5 1946.5,1311.6 1946.6,1292.0 1946.7,1303.9 1946.7,1333.2 1946.9,1307.2 1947.1,1332.7 1947.3,1313.8 1947.5,1310.8 1947.7,1324.4 1947.9,1306.8 1948.1,1335.3 1948.3,1324.9 1948.5,1324.8 1948.7,1326.6 1948.9,1315.0 1948.9,1312.6 1949.0,1337.8 1949.1,1327.9 1949.3,1325.9 1949.5,1319.7 1949.7,1307.3 1949.9,1313.7 1950.1,1333.4 1950.3,1299.1 1950.5,1315.6 1950.7,1322.8 1950.9,1280.7 1951.1,1292.8 1951.2,1262.2 1951.3,1308.4 1951.3,1340.1 1951.5,1329.8 1951.7,1311.5 1951.9,1294.6 1952.1,1307.5 1952.3,1277.1 1952.5,1320.2 1952.7,1311.3 1952.9,1310.1 1953.1,1317.0 1953.3,1320.3 1953.5,1303.5 1953.5,1292.0 1953.6,1347.0 1953.7,1347.4 1953.9,1305.5 1954.1,1323.7 1954.3,1323.5 1954.5,1301.6 1954.7,1321.2 1954.9,1312.9 1955.1,1309.3 1955.3,1306.3 1955.5,1327.5 1955.7,1340.5 1955.8,1310.3 1955.9,1338.5 1955.9,1351.6 1956.1,1326.3 1956.3,1331.8 1956.5,1299.9 1956.7,1328.6 1956.9,1312.7 1957.1,1331.8 1957.3,1332.6 1957.5,1318.8 1957.7,1311.3 1957.9,1309.5 1958.1,1276.0 1958.1,1353.3 1958.2,1356.2 1958.3,1308.6 1958.5,1325.8 1958.7,1337.4 1958.9,1347.5 1959.1,1302.9 1959.3,1330.3 1959.5,1314.3 1959.7,1328.7 1959.9,1344.0 1960.1,1320.1 1960.3,1342.0 1960.4,1326.4 1960.5,1358.4 1960.5,1339.9 1960.7,1347.3 1960.9,1339.0 1961.1,1339.9 1961.3,1334.4 1961.5,1345.8 1961.7,1341.3 1961.9,1336.6 1962.1,1317.8 1962.3,1337.8 1962.5,1325.2 1962.7,1314.9 1962.7,1335.7 1962.8,1347.0 1962.9,1333.1 1963.1,1334.9 1963.3,1326.4 1963.5,1331.1 1963.7,1327.6 1963.9,1315.8 1964.1,1332.2 1964.3,1321.6 1964.5,1328.8 1964.7,1336.6 1964.9,1339.1 1965.0,1312.6 1965.1,1344.7 1965.1,1331.8 1965.3,1329.0 1965.5,1325.5 1965.7,1317.3 1965.9,1328.5 1966.1,1326.5 1966.3,1317.1 1966.5,1326.7 1966.7,1309.7 1966.9,1323.9 1967.1,1312.8 1967.3,1301.2 1967.3,1310.3 1967.4,1337.8 1967.5,1310.2 1967.7,1313.1 1967.9,1308.3 1968.1,1318.0 1968.3,1318.4 1968.5,1335.3 1968.7,1300.2 1968.9,1312.7 1969.1,1323.6 1969.3,1329.6 1969.5,1315.7 1969.5,1298.9 1969.6,1333.2 1969.7,1324.0 1969.9,1312.1 1970.1,1322.3 1970.3,1310.9 1970.5,1304.7 1970.7,1316.6 1970.9,1313.6 1971.1,1315.4 1971.3,1312.0 1971.5,1304.6 1971.7,1312.5 1971.8,1303.5 1971.9,1311.0 1971.9,1328.7 1972.1,1305.8 1972.3,1307.4 1972.5,1311.8 1972.7,1311.7 1972.9,1304.1 1973.1,1301.7 1973.3,1303.8 1973.5,1302.1 1973.7,1305.5 1973.9,1319.7 1974.1,1302.8 1974.1,1292.0 1974.2,1321.8 1974.3,1291.7 1974.5,1315.2 1974.7,1302.7 1974.9,1299.1 1975.1,1304.5 1975.3,1297.2 1975.5,1310.0 1975.7,1298.4 1975.9,1297.7 1976.1,1294.9 1976.3,1298.2 1976.4,1287.4 1976.5,1293.5 1976.5,1305.8 1976.7,1290.3 1976.9,1289.5 1977.1,1282.3 1977.3,1292.5 1977.5,1295.4 1977.7,1272.7 1977.9,1275.8 1978.1,1282.6 1978.3,1261.6 1978.5,1264.8 1978.7,1277.7 1978.7,1250.8 1978.8,1296.6 1978.9,1272.8 1979.1,1275.6 1979.3,1253.1 1979.5,1285.7 1979.7,1274.7 1979.9,1272.3 1980.1,1293.7 1980.3,1284.3 1980.5,1259.7 1980.7,1293.6 1980.9,1269.9 1981.0,1259.9 1981.1,1274.6 1981.1,1294.3 1981.3,1266.2 1981.5,1290.8 1981.7,1278.4 1981.9,1283.8 1982.1,1288.1 1982.3,1281.5 1982.5,1268.9 1982.7,1294.0 1982.9,1281.2 1983.1,1274.3 1983.3,1273.7 1983.3,1282.4 1983.4,1296.6 1983.5,1279.6 1983.7,1275.5 1983.9,1275.7 1984.1,1278.8 1984.3,1293.6 1984.5,1280.8 1984.7,1267.8 1984.9,1234.7 1984.9,1292.0 1985.0,1292.0 1985.1,1268.8 1985.3,1297.0 1985.5,1277.3 1985.7,1261.5 1985.9,1300.2 1986.1,1288.0 1986.3,1291.6 1986.5,1297.6 1986.7,1303.4 1986.7,1292.0 1986.8,1314.9 1986.9,1308.9 1987.1,1305.7 1987.3,1298.3 1987.5,1312.3 1987.7,1315.0 1987.9,1309.5 1988.1,1316.9 1988.3,1321.3 1988.5,1299.4 1988.7,1299.9 1988.9,1311.3 1989.0,1301.2 1989.1,1329.9 1989.1,1340.1 1989.3,1302.8 1989.5,1330.6 1989.7,1311.6 1989.9,1321.4 1990.1,1310.4 1990.3,1308.7 1990.5,1310.1 1990.7,1304.5 1990.9,1301.3 1991.1,1302.9 1991.3,1305.9 1991.3,1292.0 1991.4,1328.7 1991.5,1305.7 1991.7,1294.0 1991.9,1304.0 1992.1,1306.3 1992.3,1317.4 1992.5,1317.3 1992.7,1311.6 1992.9,1312.7 1993.1,1292.8 1993.3,1302.5 1993.5,1321.3 1993.6,1282.8 1993.7,1316.7 1993.7,1337.8 1993.9,1334.7 1994.1,1340.8 1994.3,1342.0 1994.5,1311.0 1994.7,1313.0 1994.9,1318.8 1995.1,1340.9 1995.3,1331.0 1995.5,1325.9 1995.7,1319.1 1995.9,1314.9 1995.9,1332.2 1996.0,1351.6 1996.1,1330.0 1996.3,1344.8 1996.5,1349.7 1996.7,1318.6 1996.9,1317.1 1997.1,1339.0 1997.3,1337.3 1997.5,1325.5 1997.7,1333.4 1997.9,1333.3 1998.1,1320.8 1998.2,1314.9 1998.3,1344.7 1998.3,1334.4 1998.5,1320.0 1998.7,1324.4 1998.9,1333.8 1999.1,1304.4 1999.3,1324.0 1999.5,1320.6 1999.7,1329.8 1999.9,1291.8 2000.1,1307.2 2000.3,1273.1 2000.5,1264.5 2000.5,1295.2 2000.6,1326.4 2000.7,1319.0 2000.9,1325.1 2001.1,1306.3 2001.3,1278.4 2001.5,1268.6 2001.7,1300.8 2001.9,1284.4 2002.1,1300.9 2002.3,1294.8 2002.5,1294.2 2002.7,1317.8 2002.8,1266.8 2002.9,1319.5 2002.9,1273.0 2003.1,1291.3 2003.3,1305.6 2003.5,1315.4 2003.7,1281.2 2003.9,1279.3 2004.1,1288.9 2004.3,1274.6 2004.5,1281.8 2004.7,1311.6 2004.9,1286.8 2005.1,1278.3 2005.1,1282.1 2005.2,1314.9 2005.3,1290.3 2005.5,1295.5 2005.7,1283.5 2005.9,1291.9 2006.1,1302.2 2006.3,1299.1 2006.5,1285.3 2006.7,1304.3 2006.9,1309.4 2007.1,1293.8 2007.3,1258.8 2007.5,1298.2 2007.7,1277.7 2007.9,1297.2 2008.1,1270.3 2008.3,1267.6 2008.5,1248.5 2008.5,1267.3 2008.6,1310.3 2008.7,1270.0 2008.9,1306.3 2009.1,1269.4 2009.3,1271.0 2009.5,1280.7 2009.7,1261.5 2009.9,1270.4 2010.1,1264.4 2010.3,1290.7 2010.5,1259.6 2010.7,1276.7 2010.8,1257.6 2010.9,1301.2 2010.9,1282.3 2011.1,1297.7 2011.3,1295.4 2011.5,1291.9 2011.7,1280.1 2011.9,1315.7 2012.1,1313.1 2012.3,1305.2 2012.5,1286.4 2012.7,1299.8 2012.9,1295.5 2013.1,1292.0 2013.1,1297.4 2013.2,1331.0 2013.3,1301.0 2013.5,1293.0 2013.7,1295.1 2013.9,1303.2 2014.1,1305.2 2014.3,1292.0 2014.5,1304.9 2014.7,1323.6 2014.9,1305.3 2015.1,1301.8 2015.3,1301.5 2015.4,1292.0 2015.5,1326.4 2015.5,1326.5 2015.7,1314.5 2015.9,1314.5 2016.1,1311.2 2016.3,1304.5 2016.5,1327.3 2016.7,1300.2 2016.9,1281.3 2017.1,1309.0 2017.3,1314.0 2017.5,1304.4 2017.7,1276.0 2017.7,1309.5 2017.8,1328.7 2017.9,1307.4 2018.1,1305.8 2018.3,1328.0 2018.5,1322.7 2018.7,1309.4 2018.9,1303.3 2019.1,1293.8 2019.3,1283.2 2019.5,1280.9 2019.7,1281.9 2019.9,1295.5 2019.9,1273.7 2020.0,1326.4 2020.1,1295.3 2020.3,1310.2 2020.5,1302.5 2020.7,1273.7 2020.9,1273.7 2021.1,1290.2 2021.3,1331.8 2021.5,1294.9 2021.7,1311.9 2021.9,1307.3 2022.1,1294.8 2022.2,1273.7 2022.3,1315.5 2022.3,1335.5 2022.5,1273.9 2022.7,1285.0 2022.9,1276.3 2023.1,1304.7 2023.3,1323.9 2023.5,1291.3 2023.7,1281.9 2023.9,1282.0 2024.1,1294.0 2024.3,1291.3 2024.5,1295.8 2024.5,1276.0 2024.6,1310.3 2024.7,1282.3 2024.9,1277.5 2025.1,1299.1 2025.3,1299.8 2025.5,1288.8 2025.7,1257.4 2025.9,1296.2 2026.1,1307.7 2026.3,1243.3 2026.5,1282.6 2026.7,1255.1 2026.9,1268.4 2027.1,1261.5 2027.3,1198.1 2027.3,1270.3 2027.4,1305.8 2027.5,1236.7 2027.7,1262.4 2027.9,1245.5 2028.1,1270.5 2028.3,1268.0 2028.5,1255.9 2028.7,1271.0 2028.9,1267.6 2029.1,1282.7 2029.1,1255.3 2029.2,1303.5 2029.3,1281.1 2029.5,1281.3 2029.7,1252.4 2029.9,1272.9 2030.1,1265.3 2030.3,1265.8 2030.5,1287.0 2030.7,1284.0 2030.9,1273.2 2031.1,1293.7 2031.3,1290.4 2031.4,1243.9 2031.5,1276.6 2031.5,1298.9 2031.7,1287.5 2031.9,1300.5 2032.1,1259.5 2032.3,1258.1 2032.5,1262.9 2032.7,1272.7 2032.9,1278.6 2033.1,1298.0 2033.3,1272.8 2033.5,1303.1 2033.7,1259.9 2033.7,1302.3 2033.8,1308.0 2033.9,1300.6 2034.1,1281.9 2034.3,1269.9 2034.5,1294.6 2034.7,1283.1 2034.9,1273.3 2035.1,1285.3 2035.3,1277.5 2035.5,1263.3 2035.7,1276.0 2035.9,1270.9 2036.0,1248.5 2036.1,1287.4 2036.1,1264.8 2036.3,1269.5 2036.5,1252.5 2036.7,1260.5 2036.9,1250.2 2037.1,1264.8 2037.3,1254.1 2037.5,1247.0 2037.7,1260.6 2037.9,1236.3 2038.1,1230.8 2038.3,1211.8 2038.3,1257.8 2038.4,1269.1 2038.5,1224.2 2038.7,1256.7 2038.9,1247.8 2039.1,1227.3 2039.3,1221.3 2039.5,1248.3 2039.7,1226.2 2039.9,1219.6 2040.1,1215.6 2040.3,1210.0 2040.5,1231.3 2040.6,1200.4 2040.7,1230.1 2040.7,1220.7 2040.9,1214.6 2041.1,1206.7 2041.3,1206.3 2041.5,1220.7 2041.7,1182.0 2041.9,1196.5 2042.1,1191.8 2042.3,1180.4 2042.4,1170.6 2042.5,1230.1 2042.5,1218.4 2042.7,1197.0 2042.9,1233.8 2043.1,1237.4 2043.3,1196.0 2043.5,1244.9 2043.7,1230.9 2043.9,1221.7 2044.0,1177.5 2044.1,1263.0 2044.1,1269.1 2044.3,1244.0 2044.5,1248.2 2044.7,1216.2 2044.9,1277.7 2045.1,1256.7 2045.3,1295.4 2045.5,1269.1 2045.7,1300.9 2045.9,1289.2 2046.1,1305.5 2046.3,1257.6 2046.3,1257.6 2046.4,1328.7 2046.5,1295.5 2046.7,1288.9 2046.9,1286.4 2047.1,1267.8 2047.3,1252.3 2047.5,1295.9 2047.7,1281.5 2047.9,1282.6 2048.1,1294.4 2048.3,1266.0 2048.5,1295.4 2048.6,1241.6 2048.7,1298.9 2048.7,1284.2 2048.9,1278.7 2049.1,1276.4 2049.3,1306.0 2049.5,1285.0 2049.7,1291.2 2049.9,1255.6 2050.1,1286.9 2050.3,1253.0 2050.5,1261.3 2050.7,1288.5 2050.9,1227.9 2050.9,1271.5 2051.0,1321.8 2051.1,1230.6 2051.1,1227.9 2051.2,1321.8 2051.3,1253.2 2051.5,1267.8 2051.7,1296.5 2051.9,1274.2 2052.1,1308.5 2052.3,1291.8 2052.5,1274.8 2052.7,1319.3 2052.9,1294.3 2053.1,1291.9 2053.3,1292.2 2053.4,1280.5 2053.5,1300.6 2053.5,1319.5 2053.7,1296.4 2053.9,1303.3 2054.1,1308.6 2054.3,1301.6 2054.5,1292.5 2054.7,1310.3 2054.9,1296.7 2055.1,1303.2 2055.3,1278.7 2055.5,1309.6 2055.7,1291.4 2055.7,1278.3 2055.8,1314.9 2055.9,1307.0 2056.1,1287.8 2056.3,1298.0 2056.5,1312.8 2056.7,1311.6 2056.9,1304.5 2057.1,1308.6 2057.3,1287.7 2057.5,1298.7 2057.7,1303.0 2057.9,1291.3 2058.0,1292.0 2058.1,1300.9 2058.1,1317.2 2058.3,1305.3 2058.5,1310.1 2058.7,1299.1 2058.9,1312.1 2059.1,1316.1 2059.3,1296.3 2059.5,1304.0 2059.7,1302.9 2059.9,1311.3 2060.1,1267.0 2060.3,1296.6 2060.3,1264.5 2060.4,1314.9 2060.5,1285.2 2060.7,1277.2 2060.9,1279.8 2061.1,1291.4 2061.3,1302.3 2061.5,1292.2 2061.7,1284.7 2061.9,1299.2 2062.1,1314.7 2062.3,1295.9 2062.5,1310.4 2062.6,1292.0 2062.7,1315.4 2062.7,1319.5 2062.9,1304.4 2063.1,1298.1 2063.3,1295.2 2063.5,1316.7 2063.7,1310.1 2063.9,1301.9 2064.1,1304.5 2064.3,1293.2 2064.5,1298.5 2064.7,1321.2 2064.9,1273.7 2064.9,1307.9 2065.0,1324.1 2065.1,1307.2 2065.3,1310.0 2065.5,1295.0 2065.7,1305.9 2065.9,1289.9 2066.1,1283.3 2066.3,1303.0 2066.5,1299.8 2066.7,1299.4 2066.9,1293.1 2067.1,1303.7 2067.2,1292.0 2067.3,1321.8 2067.3,1304.0 2067.5,1297.7 2067.7,1298.0 2067.9,1291.9 2068.1,1297.8 2068.3,1312.2 2068.5,1291.3 2068.7,1312.3 2068.9,1285.4 2069.1,1292.1 2069.3,1328.1 2069.5,1276.0 2069.5,1280.4 2069.6,1328.7 2069.7,1316.0 2069.9,1292.9 2070.1,1310.0 2070.3,1314.6 2070.5,1320.6 2070.7,1310.2 2070.9,1306.1 2071.1,1335.2 2071.3,1323.2 2071.5,1324.6 2071.7,1311.8 2071.8,1303.5 2071.9,1337.8 2071.9,1310.0 2072.1,1326.4 2072.3,1334.9 2072.5,1316.5 2072.7,1311.8 2072.9,1330.7 2073.1,1317.8 2073.3,1327.1 2073.5,1314.6 2073.7,1323.9 2073.9,1317.9 2074.1,1310.3 2074.1,1321.4 2074.2,1340.1 2074.3,1317.3 2074.5,1325.7 2074.7,1320.0 2074.9,1324.7 2075.1,1317.0 2075.3,1331.8 2075.5,1313.6 2075.7,1316.5 2075.9,1330.0 2076.1,1320.0 2076.3,1310.4 2076.3,1298.9 2076.4,1337.8 2076.5,1311.4 2076.7,1307.9 2076.9,1328.7 2077.1,1316.2 2077.3,1315.1 2077.5,1294.7 2077.7,1325.9 2077.9,1326.2 2078.1,1330.9 2078.3,1296.8 2078.5,1330.1 2078.6,1285.1 2078.7,1303.5 2078.7,1340.1 2078.9,1319.6 2079.1,1317.6 2079.3,1328.1 2079.5,1301.3 2079.7,1321.0 2079.9,1330.0 2080.1,1343.0 2080.3,1322.8 2080.5,1330.9 2080.7,1340.3 2080.9,1326.4 2080.9,1314.9 2081.0,1344.7 2081.1,1327.4 2081.3,1329.8 2081.5,1340.8 2081.7,1327.2 2081.9,1331.9 2082.1,1326.8 2082.3,1331.4 2082.5,1344.4 2082.7,1335.7 2082.9,1334.7 2083.1,1326.8 2083.2,1314.9 2083.3,1324.9 2083.3,1344.7 2083.5,1337.8 2083.7,1340.6 2083.9,1324.3 2084.1,1328.3 2084.3,1327.0 2084.5,1328.0 2084.7,1338.1 2084.9,1321.4 2085.1,1340.5 2085.3,1344.4 2085.5,1319.3 2085.5,1314.9 2085.6,1347.0 2085.7,1332.7 2085.9,1330.4 2086.1,1324.7 2086.3,1347.0 2086.5,1344.8 2086.7,1330.4 2086.9,1331.4 2087.1,1336.6 2087.3,1343.9 2087.5,1342.9 2087.7,1338.2 2087.8,1326.4 2087.9,1330.9 2087.9,1347.0 2088.1,1328.4 2088.3,1337.4 2088.5,1341.4 2088.7,1343.1 2088.9,1346.7 2089.1,1338.9 2089.3,1338.8 2089.5,1345.7 2089.7,1339.3 2089.9,1344.5 2090.1,1331.0 2090.1,1330.9 2090.2,1349.3 2090.3,1346.9 2090.5,1342.0 2090.7,1342.3 2090.9,1345.4 2091.1,1340.6 2091.3,1331.0 2091.5,1337.2 2091.7,1350.5 2091.9,1338.8 2092.1,1339.6 2092.3,1336.0 2092.4,1326.4 2092.5,1351.6 2092.5,1337.4 2092.7,1332.3 2092.9,1326.2 2093.1,1334.4 2093.3,1326.3 2093.5,1319.1 2093.7,1344.1 2093.9,1326.4 2094.1,1332.4 2094.3,1349.2 2094.5,1351.1 2094.7,1294.3 2094.7,1316.3 2094.8,1351.6 2094.9,1331.4 2095.1,1326.1 2095.3,1318.2 2095.5,1331.5 2095.7,1323.4 2095.9,1323.2 2096.1,1331.3 2096.3,1334.6 2096.5,1337.9 2096.7,1333.8 2096.9,1340.8 2097.0,1326.4 2097.1,1344.7 2097.1,1333.3 2097.3,1332.5 2097.5,1338.3 2097.7,1328.3 2097.9,1336.0 2098.1,1336.9 2098.3,1327.8 2098.5,1326.3 2098.7,1330.5 2098.9,1333.2 2099.1,1324.9 2099.3,1312.6 2099.3,1325.1 2099.4,1342.4 2099.5,1316.5 2099.7,1331.7 2099.9,1336.2 2100.1,1337.8 2100.3,1330.9 2100.5,1336.5 2100.7,1344.5 2100.9,1339.8 2101.1,1335.9 2101.3,1335.8 2101.5,1339.9 2101.5,1321.8 2101.6,1349.3 2101.7,1338.7 2101.9,1333.4 2102.1,1343.8 2102.3,1333.9 2102.5,1341.1 2102.7,1328.6 2102.9,1346.9 2103.1,1334.1 2103.3,1324.3 2103.5,1321.3 2103.7,1355.0 2103.9,1337.2 2104.1,1345.0 2104.3,1321.7 2104.5,1325.2 2104.7,1320.7 2104.9,1334.5 2105.0,1289.7 2105.1,1358.4 2105.1,1324.6 2105.3,1335.1 2105.5,1315.7 2105.7,1358.4 2105.9,1320.7 2106.1,1358.4 2106.3,1343.5 2106.5,1354.9 2106.7,1343.8 2106.9,1354.0 2107.1,1350.1 2107.3,1337.8 2107.3,1342.9 2107.4,1358.4 2107.5,1343.5 2107.7,1341.6 2107.9,1352.2 2108.1,1345.9 2108.3,1346.2 2108.5,1346.7 2108.7,1344.9 2108.9,1344.7 2109.1,1340.4 2109.3,1338.8 2109.5,1345.4 2109.6,1333.2 2109.7,1351.6 2109.7,1343.6 2109.9,1340.6 2110.1,1343.2 2110.3,1340.9 2110.5,1339.2 2110.7,1345.1 2110.9,1315.9 2111.1,1335.4 2111.3,1310.7 2111.5,1336.8 2111.7,1334.9 2111.9,1303.5 2111.9,1324.2 2112.0,1344.7 2112.1,1325.1 2112.3,1333.2 2112.5,1320.6 2112.7,1323.2 2112.9,1333.7 2113.1,1302.2 2113.3,1328.0 2113.5,1328.9 2113.7,1332.5 2113.9,1328.7 2114.1,1305.6 2114.1,1301.2 2114.2,1342.4 2114.3,1336.9 2114.5,1313.0 2114.7,1304.5 2114.9,1326.3 2115.1,1325.2 2115.3,1327.7 2115.5,1330.5 2115.7,1337.8 2115.9,1333.1 2116.1,1316.8 2116.3,1329.8 2116.4,1314.9 2116.5,1329.4 2116.5,1337.8 2116.7,1324.5 2116.9,1324.4 2117.1,1321.9 2117.3,1327.4 2117.5,1313.2 2117.7,1302.3 2117.9,1316.6 2118.1,1308.2 2118.3,1312.1 2118.5,1321.0 2118.7,1300.6 2118.7,1292.0 2118.8,1331.0 2118.9,1313.0 2119.1,1300.3 2119.3,1301.3 2119.5,1304.8 2119.7,1302.1 2119.9,1315.3 2120.1,1300.3 2120.3,1309.2 2120.5,1308.8 2120.7,1307.0 2120.9,1316.9 2121.0,1292.0 2121.1,1319.9 2121.1,1326.4 2121.3,1315.5 2121.5,1320.5 2121.7,1309.4 2121.9,1319.5 2122.1,1316.3 2122.3,1309.3 2122.5,1318.5 2122.7,1301.1 2122.9,1299.8 2123.1,1297.8 2123.3,1310.4 2123.3,1292.0 2123.4,1321.8 2123.5,1296.9 2123.7,1312.7 2123.9,1295.9 2124.1,1301.9 2124.3,1303.7 2124.5,1306.8 2124.7,1297.5 2124.9,1306.0 2125.1,1306.6 2125.3,1300.1 2125.5,1288.4 2125.6,1287.4 2125.7,1306.3 2125.7,1310.3 2125.9,1298.9 2126.1,1298.3 2126.3,1304.9 2126.5,1293.7 2126.7,1312.2 2126.9,1301.0 2127.1,1312.2 2127.3,1311.5 2127.5,1307.6 2127.7,1316.1 2127.9,1303.5 2127.9,1317.5 2128.0,1326.4 2128.1,1315.5 2128.3,1318.4 2128.5,1320.8 2128.7,1316.9 2128.9,1316.5 2129.1,1322.6 2129.3,1315.8 2129.5,1320.3 2129.7,1329.7 2129.9,1331.0 2130.1,1328.7 2130.2,1321.8 2130.3,1337.8 2130.3,1333.3 2130.5,1331.3 2130.7,1329.9 2130.9,1337.8 2131.1,1336.2 2131.3,1337.8 2131.5,1338.3 2131.7,1351.5 2131.9,1345.5 2132.1,1349.3 2132.3,1343.6 2132.5,1333.2 2132.5,1349.6 2132.6,1358.4 2132.7,1341.8 2132.9,1344.1 2133.1,1345.3 2133.3,1346.2 2133.5,1356.5 2133.7,1342.5 2133.9,1351.8 2134.1,1348.3 2134.3,1347.7 2134.5,1356.4 2134.7,1346.3 2134.8,1337.8 2134.9,1356.2 2134.9,1338.6 2135.1,1351.8 2135.3,1349.0 2135.5,1338.0 2135.7,1347.7 2135.9,1339.8 2136.1,1343.3 2136.3,1349.0 2136.5,1338.6 2136.7,1341.4 2136.9,1347.4 2137.1,1333.2 2137.1,1340.9 2137.2,1349.3 2137.3,1338.2 2137.5,1343.5 2137.7,1343.5 2137.9,1343.1 2138.1,1347.2 2138.3,1324.9 2138.5,1323.6 2138.7,1329.4 2138.9,1320.5 2139.1,1324.6 2139.3,1319.7 2139.3,1314.9 2139.4,1344.7 2139.5,1334.8 2139.7,1337.2 2139.9,1324.3 2140.1,1342.4 2140.3,1340.7 2140.5,1323.0 2140.7,1325.7 2140.9,1326.2 2141.1,1331.1 2141.3,1330.9 2141.5,1327.3 2141.6,1314.9 2141.7,1327.6 2141.7,1337.8 2141.9,1326.0 2142.1,1327.4 2142.3,1317.0 2142.5,1320.7 2142.7,1312.0 2142.9,1317.4 2143.1,1313.3 2143.3,1315.1 2143.5,1297.1 2143.7,1298.8 2143.9,1325.1 2143.9,1292.0 2144.0,1326.4 2144.1,1311.6 2144.3,1300.4 2144.5,1311.6 2144.7,1323.3 2144.9,1316.5 2145.1,1294.4 2145.3,1296.6 2145.5,1284.8 2145.7,1291.6 2145.9,1310.3 2146.1,1314.6 2146.2,1280.5 2146.3,1300.4 2146.3,1317.2 2146.5,1286.2 2146.7,1283.0 2146.9,1301.4 2147.1,1299.6 2147.3,1299.1 2147.5,1300.3 2147.7,1312.8 2147.9,1298.9 2148.1,1302.6 2148.3,1304.5 2148.5,1309.0 2148.5,1292.0 2148.6,1310.3 2148.7,1300.0 2148.9,1298.9 2149.1,1302.2 2149.3,1298.1 2149.5,1291.8 2149.7,1296.3 2149.9,1294.8 2150.1,1290.2 2150.3,1285.5 2150.5,1288.4 2150.7,1289.3 2150.8,1280.5 2150.9,1296.0 2150.9,1303.5 2151.1,1297.1 2151.3,1272.1 2151.5,1285.7 2151.7,1280.7 2151.9,1281.1 2152.1,1284.1 2152.3,1266.4 2152.5,1251.7 2152.7,1275.6 2152.9,1266.8 2153.1,1241.6 2153.1,1275.6 2153.2,1292.0 2153.3,1271.9 2153.5,1261.7 2153.7,1272.7 2153.9,1261.5 2154.1,1268.0 2154.3,1254.9 2154.5,1265.3 2154.7,1264.8 2154.9,1255.8 2155.1,1261.2 2155.3,1273.0 2155.4,1246.2 2155.5,1273.7 2155.5,1255.7 2155.7,1248.0 2155.9,1267.0 2156.1,1268.7 2156.3,1254.1 2156.5,1254.5 2156.7,1254.9 2156.9,1244.5 2157.1,1253.1 2157.3,1241.6 2157.5,1225.0 2157.7,1223.3 2157.7,1236.8 2157.8,1257.6 2157.9,1241.3 2158.1,1256.0 2158.3,1233.2 2158.5,1224.8 2158.7,1231.7 2158.9,1227.5 2159.1,1219.5 2159.3,1242.5 2159.5,1229.7 2159.5,1195.8 2159.6,1250.8 2159.7,1211.7 2159.9,1225.6 2160.1,1236.5 2160.3,1202.8 2160.5,1200.9 2160.7,1220.4 2160.9,1216.4 2161.1,1210.3 2161.3,1217.7 2161.5,1205.4 2161.7,1250.7 2161.9,1228.6 2162.1,1233.6 2162.3,1200.4 2162.3,1217.3 2162.4,1250.8 2162.5,1234.9 2162.7,1206.6 2162.9,1223.1 2163.1,1238.5 2163.3,1228.9 2163.5,1238.1 2163.7,1220.6 2163.9,1239.5 2164.1,1248.2 2164.3,1252.4 2164.5,1248.2 2164.5,1232.4 2164.6,1266.8 2164.7,1243.0 2164.9,1261.9 2165.1,1241.0 2165.3,1244.3 2165.5,1248.5 2165.7,1252.6 2165.9,1255.9 2166.1,1242.9 2166.3,1256.9 2166.5,1256.5 2166.7,1238.0 2166.8,1232.4 2166.9,1257.1 2166.9,1271.4 2167.1,1243.0 2167.3,1268.2 2167.5,1272.6 2167.7,1240.2 2167.9,1234.6 2168.1,1245.9 2168.3,1252.9 2168.5,1256.0 2168.7,1253.1 2168.9,1275.3 2169.1,1262.9 2169.1,1237.0 2169.2,1282.8 2169.3,1266.8 2169.5,1236.7 2169.7,1264.8 2169.9,1254.5 2170.1,1260.7 2170.3,1258.7 2170.5,1275.6 2170.7,1241.6 2170.9,1266.9 2171.1,1235.1 2171.3,1265.2 2171.4,1234.7 2171.5,1259.6 2171.5,1285.1 2171.7,1279.7 2171.9,1259.7 2172.1,1267.2 2172.3,1252.4 2172.5,1265.5 2172.7,1264.2 2172.9,1262.0 2173.1,1261.4 2173.3,1267.8 2173.5,1254.8 2173.7,1266.5 2173.7,1246.2 2173.8,1287.4 2173.9,1279.9 2174.1,1277.1 2174.3,1274.3 2174.5,1253.5 2174.7,1260.3 2174.9,1259.0 2175.1,1268.5 2175.3,1272.6 2175.5,1280.7 2175.7,1272.5 2175.9,1273.2 2176.0,1264.5 2176.1,1285.8 2176.1,1292.0 2176.3,1277.4 2176.5,1268.5 2176.7,1285.0 2176.9,1276.7 2177.1,1286.2 2177.3,1294.6 2177.5,1292.7 2177.7,1284.8 2177.9,1289.6 2178.1,1286.4 2178.3,1280.5 2178.3,1302.2 2178.4,1308.0 2178.5,1299.1 2178.7,1294.7 2178.9,1298.0 2179.1,1301.2 2179.3,1290.2 2179.5,1296.9 2179.7,1303.0 2179.9,1290.7 2180.1,1300.2 2180.3,1295.6 2180.5,1285.8 2180.6,1280.5 2180.7,1303.5 2180.7,1290.8 2180.9,1282.2 2181.1,1294.9 2181.3,1283.9 2181.5,1288.8 2181.7,1287.4 2181.9,1303.5 2182.1,1293.6 2182.3,1288.9 2182.5,1302.1 2182.7,1280.0 2182.9,1269.1 2182.9,1293.5 2183.0,1303.5 2183.1,1289.9 2183.3,1287.8 2183.5,1294.0 2183.7,1273.8 2183.9,1304.4 2184.1,1288.9 2184.3,1289.6 2184.5,1286.9 2184.7,1283.7 2184.9,1309.5 2185.1,1278.6 2185.2,1243.9 2185.3,1310.3 2185.3,1264.1 2185.5,1274.5 2185.7,1251.4 2185.9,1292.6 2186.1,1279.5 2186.3,1286.7 2186.5,1280.3 2186.7,1301.6 2186.9,1319.0 2187.1,1284.6 2187.3,1310.9 2187.5,1276.0 2187.5,1307.2 2187.6,1321.8 2187.7,1305.9 2187.9,1296.7 2188.1,1305.1 2188.3,1308.4 2188.5,1278.6 2188.7,1247.4 2188.9,1289.3 2189.1,1266.5 2189.3,1303.7 2189.5,1260.2 2189.7,1274.9 2189.7,1223.3 2189.8,1310.3 2189.9,1226.3 2190.1,1279.2 2190.3,1277.5 2190.5,1302.6 2190.7,1285.7 2190.9,1289.4 2191.1,1288.8 2191.3,1254.7 2191.5,1300.4 2191.7,1291.3 2191.9,1293.6 2192.0,1269.1 2192.1,1297.1 2192.1,1312.6 2192.3,1282.8 2192.5,1284.4 2192.7,1285.2 2192.9,1287.6 2193.1,1296.3 2193.3,1282.3 2193.5,1283.2 2193.7,1263.2 2193.9,1295.9 2194.1,1288.0 2194.3,1279.3 2194.3,1239.3 2194.4,1292.0 2194.5,1249.6 2194.7,1272.9 2194.9,1248.5 2195.1,1257.9 2195.3,1253.6 2195.5,1247.1 2195.7,1262.0 2195.9,1276.2 2196.1,1250.3 2196.3,1264.7 2196.5,1254.3 2196.6,1237.0 2196.7,1250.9 2196.7,1269.1 2196.9,1254.6 2197.1,1255.7 2197.3,1241.0 2197.5,1232.9 2197.7,1238.2 2197.9,1219.4 2198.1,1216.7 2198.3,1230.0 2198.5,1211.8 2198.5,1243.6 2198.6,1269.1 2198.7,1238.0 2198.9,1236.1 2199.1,1233.2 2199.3,1233.8 2199.5,1244.9 2199.7,1247.5 2199.9,1245.9 2200.1,1252.1 2200.3,1261.0 2200.5,1238.5 2200.7,1236.4 2200.9,1269.8 2201.1,1245.6 2201.2,1239.3 2201.3,1249.6 2201.3,1276.0 2201.5,1260.9 2201.7,1251.5 2201.9,1268.2 2202.1,1252.4 2202.3,1263.4 2202.5,1254.1 2202.7,1258.9 2202.9,1240.4 2203.0,1211.8 2203.1,1237.1 2203.1,1282.8 2203.3,1254.3 2203.5,1235.5 2203.7,1273.8 2203.9,1254.8 2204.1,1253.5 2204.3,1279.0 2204.5,1255.3 2204.7,1256.4 2204.9,1270.6 2205.1,1265.8 2205.3,1269.3 2205.5,1272.1 2205.7,1276.0 2205.8,1266.8 2205.9,1280.5 2205.9,1271.6 2206.1,1277.1 2206.3,1266.7 2206.5,1270.0 2206.7,1265.6 2206.9,1274.6 2207.1,1259.8 2207.3,1276.0 2207.5,1256.0 2207.7,1264.2 2207.9,1262.0 2208.1,1241.6 2208.1,1263.7 2208.2,1273.7 2208.3,1262.3 2208.5,1247.2 2208.7,1246.4 2208.9,1255.9 2209.1,1258.0 2209.3,1249.6 2209.5,1258.1 2209.7,1264.6 2209.9,1256.5 2210.1,1259.0 2210.3,1250.9 2210.4,1243.9 2210.5,1264.5 2210.5,1264.0 2210.7,1252.3 2210.9,1251.8 2211.1,1250.6 2211.3,1245.6 2211.5,1246.8 2211.7,1247.0 2211.9,1234.6 2212.1,1248.4 2212.3,1245.6 2212.5,1235.8 2212.7,1218.7 2212.7,1225.7 2212.8,1255.3 2212.9,1232.1 2213.1,1222.8 2213.3,1252.8 2213.5,1245.6 2213.7,1231.6 2213.9,1223.6 2214.1,1239.5 2214.3,1233.6 2214.5,1248.0 2214.7,1191.4 2214.9,1227.9 2214.9,1186.6 2215.0,1246.2 2215.1,1193.8 2215.3,1243.4 2215.5,1180.0 2215.7,1192.1 2215.9,1192.6 2216.1,1200.2 2216.3,1198.9 2216.5,1220.1 2216.7,1197.9 2216.9,1200.7 2217.1,1202.2 2217.2,1159.1 2217.3,1167.9 2217.3,1227.9 2217.5,1220.0 2217.7,1177.9 2217.9,1213.0 2218.1,1215.2 2218.3,1187.0 2218.5,1226.3 2218.7,1220.0 2218.9,1219.4 2219.1,1218.3 2219.3,1221.0 2219.5,1229.0 2219.5,1188.9 2219.6,1246.2 2219.7,1237.8 2219.9,1194.5 2220.1,1246.8 2220.3,1229.0 2220.5,1232.2 2220.7,1222.5 2220.9,1225.6 2221.1,1236.7 2221.3,1225.0 2221.5,1224.2 2221.7,1241.0 2221.8,1223.3 2221.9,1237.8 2221.9,1248.5 2222.1,1231.5 2222.3,1247.0 2222.5,1233.8 2222.7,1234.1 2222.9,1228.2 2223.1,1228.0 2223.3,1217.5 2223.5,1240.3 2223.7,1204.5 2223.9,1213.7 2224.1,1195.0 2224.1,1193.5 2224.2,1241.6 2224.3,1217.5 2224.5,1227.5 2224.7,1228.5 2224.9,1239.2 2225.1,1225.4 2225.3,1242.3 2225.5,1228.6 2225.7,1229.8 2225.9,1243.1 2226.1,1259.7 2226.3,1221.9 2226.4,1223.3 2226.5,1239.1 2226.5,1276.0 2226.7,1240.1 2226.9,1257.9 2227.1,1247.0 2227.3,1257.1 2227.5,1269.2 2227.7,1258.2 2227.9,1255.5 2228.1,1245.7 2228.3,1238.6 2228.5,1251.9 2228.7,1234.7 2228.7,1274.2 2228.8,1276.0 2228.9,1241.4 2229.1,1251.7 2229.3,1237.3 2229.5,1254.8 2229.7,1262.3 2229.9,1224.8 2230.1,1243.0 2230.3,1236.6 2230.5,1230.0 2230.7,1217.5 2230.9,1241.2 2231.0,1195.8 2231.1,1269.1 2231.1,1242.2 2231.3,1267.8 2231.5,1231.3 2231.7,1247.7 2231.9,1238.8 2232.1,1246.0 2232.3,1282.2 2232.5,1276.3 2232.7,1261.9 2232.9,1266.4 2233.1,1273.7 2233.3,1257.6 2233.3,1290.0 2233.4,1292.0 2233.5,1286.7 2233.7,1277.5 2233.9,1267.5 2234.1,1276.4 2234.3,1296.2 2234.5,1273.4 2234.7,1280.1 2234.9,1266.0 2235.1,1289.2 2235.3,1286.6 2235.5,1303.1 2235.6,1269.1 2235.7,1303.5 2235.7,1265.1 2235.9,1268.8 2236.1,1263.8 2236.3,1285.3 2236.5,1271.1 2236.7,1245.1 2236.9,1274.1 2237.1,1223.1 2237.3,1284.2 2237.5,1274.4 2237.7,1212.6 2237.9,1200.4 2237.9,1226.7 2238.0,1292.0 2238.1,1215.9 2238.3,1260.3 2238.5,1269.1 2238.7,1248.0 2238.9,1294.6 2239.1,1267.1 2239.3,1286.2 2239.5,1287.0 2239.7,1288.9 2239.9,1293.5 2240.1,1291.9 2240.1,1280.5 2240.2,1308.0 2240.3,1289.2 2240.5,1287.7 2240.7,1294.1 2240.9,1301.4 2241.1,1308.4 2241.3,1299.7 2241.5,1297.5 2241.7,1298.0 2241.9,1299.7 2242.1,1293.7 2242.3,1295.6 2242.4,1292.0 2242.5,1302.6 2242.5,1310.3 2242.7,1305.4 2242.9,1307.8 2243.1,1299.6 2243.3,1284.3 2243.5,1304.2 2243.7,1292.3 2243.9,1280.0 2244.1,1314.5 2244.3,1241.6 2244.3,1280.8 2244.4,1314.9 2244.5,1316.3 2244.7,1303.7 2244.9,1320.8 2245.0,1308.0 2245.1,1344.7 2245.1,1328.2 2245.3,1328.4 2245.5,1328.2 2245.7,1331.3 2245.9,1340.7 2246.1,1330.6 2246.3,1323.4 2246.5,1314.6 2246.6,1314.9 2246.7,1344.7 2246.7,1335.7 2246.9,1344.5 2247.1,1308.0 2247.3,1292.0 2247.3,1324.7 2247.4,1344.7 2247.5,1344.1 2247.7,1311.2 2247.9,1313.2 2248.1,1331.3 2248.3,1309.2 2248.5,1301.6 2248.7,1314.2 2248.9,1292.0 2249.1,1302.8 2249.3,1325.2 2249.5,1310.6 2249.6,1292.0 2249.7,1337.8 2249.7,1310.4 2249.9,1313.3 2250.1,1306.8 2250.3,1301.0 2250.5,1308.0 2250.7,1287.8 2250.9,1315.7 2251.1,1307.0 2251.3,1320.0 2251.5,1299.5 2251.7,1340.9 2251.9,1269.1 2251.9,1306.3 2252.0,1344.7 2252.1,1299.1 2252.3,1329.9 2252.5,1296.2 2252.7,1339.2 2252.9,1344.7 2253.1,1303.6 2253.3,1302.9 2253.5,1327.6 2253.7,1333.0 2253.9,1333.5 2254.1,1320.6 2254.2,1314.9 2254.3,1344.7 2254.3,1318.4 2254.5,1313.6 2254.7,1331.8 2254.9,1320.8 2255.1,1311.2 2255.3,1330.7 2255.5,1334.9 2255.7,1330.2 2255.9,1320.9 2256.1,1334.1 2256.3,1306.4 2256.5,1305.8 2256.5,1328.1 2256.6,1347.0 2256.7,1332.8 2256.9,1323.7 2257.1,1318.1 2257.3,1321.5 2257.5,1341.3 2257.7,1320.4 2257.9,1311.5 2258.1,1329.4 2258.3,1315.0 2258.5,1327.2 2258.7,1323.4 2258.7,1314.9 2258.8,1344.7 2258.9,1327.8 2259.1,1317.1 2259.3,1332.2 2259.5,1331.6 2259.7,1327.8 2259.9,1327.5 2260.1,1327.0 2260.3,1319.2 2260.5,1321.5 2260.7,1326.8 2260.9,1317.4 2261.0,1303.5 2261.1,1308.3 2261.1,1337.8 2261.3,1303.2 2261.5,1323.4 2261.7,1332.4 2261.9,1321.7 2262.1,1319.3 2262.3,1312.1 2262.5,1317.6 2262.7,1328.1 2262.9,1339.7 2263.1,1327.2 2263.3,1322.2 2263.3,1301.2 2263.4,1340.1 2263.5,1336.8 2263.7,1337.1 2263.9,1306.3 2264.1,1319.4 2264.3,1309.9 2264.5,1311.7 2264.7,1331.4 2264.9,1329.8 2265.1,1330.5 2265.3,1340.1 2265.5,1335.3 2265.6,1321.8 2265.7,1338.9 2265.7,1351.6 2265.9,1340.2 2266.1,1330.6 2266.3,1353.6 2266.5,1346.7 2266.7,1338.6 2266.9,1343.6 2267.1,1334.9 2267.3,1343.6 2267.5,1344.8 2267.7,1335.6 2267.9,1334.9 2267.9,1326.4 2268.0,1358.4 2268.1,1358.4 2268.3,1334.3 2268.5,1353.9 2268.7,1334.0 2268.9,1336.0 2269.1,1347.5 2269.3,1326.9 2269.5,1358.4 2269.7,1347.5 2269.9,1339.4 2270.1,1358.4 2270.2,1319.5 2270.3,1332.8 2270.3,1358.4 2270.5,1355.4 2270.7,1341.5 2270.9,1347.5 2271.1,1339.6 2271.3,1335.3 2271.5,1337.9 2271.7,1352.2 2271.9,1342.5 2272.1,1339.4 2272.3,1337.2 2272.5,1326.4 2272.5,1326.4 2272.6,1360.7 2272.7,1355.4 2272.9,1345.1 2273.1,1329.9 2273.3,1339.7 2273.5,1344.1 2273.7,1336.4 2273.9,1339.4 2274.1,1339.8 2274.3,1344.4 2274.5,1340.8 2274.7,1347.8 2274.8,1324.1 2274.9,1356.2 2274.9,1347.7 2275.1,1340.6 2275.3,1339.8 2275.5,1333.8 2275.7,1343.4 2275.9,1350.3 2276.1,1337.1 2276.3,1337.9 2276.5,1341.7 2276.7,1322.4 2276.9,1327.5 2277.1,1308.0 2277.1,1336.7 2277.2,1344.7 2277.3,1329.6 2277.5,1338.9 2277.7,1328.2 2277.9,1343.9 2278.1,1334.4 2278.3,1322.8 2278.5,1315.5 2278.7,1337.3 2278.9,1323.0 2279.1,1322.8 2279.3,1317.9 2279.4,1308.0 2279.5,1342.4 2279.5,1312.8 2279.7,1336.6 2279.9,1323.8 2280.1,1329.0 2280.3,1321.9 2280.5,1323.0 2280.7,1330.9 2280.9,1329.8 2281.1,1340.9 2281.3,1338.9 2281.5,1338.1 2281.7,1321.8 2281.7,1347.0 2281.8,1347.0 2281.9,1337.1 2282.1,1330.0 2282.3,1342.0 2282.5,1347.8 2282.7,1333.4 2282.9,1346.2 2283.1,1340.0 2283.3,1334.8 2283.5,1322.8 2283.7,1330.3 2283.9,1328.9 2283.9,1319.5 2284.0,1349.3 2284.1,1342.8 2284.3,1327.7 2284.5,1341.1 2284.7,1342.4 2284.9,1331.3 2285.1,1329.3 2285.3,1325.7 2285.5,1332.1 2285.7,1328.8 2285.9,1329.2 2286.1,1326.9 2286.2,1314.9 2286.3,1328.5 2286.3,1342.4 2286.5,1341.7 2286.7,1327.2 2286.9,1320.7 2287.1,1318.6 2287.3,1329.2 2287.5,1320.5 2287.7,1325.3 2287.9,1323.3 2288.1,1315.1 2288.3,1300.5 2288.5,1319.0 2288.5,1298.9 2288.6,1340.1 2288.7,1299.4 2288.9,1330.3 2289.1,1307.6 2289.3,1316.1 2289.5,1320.1 2289.7,1312.5 2289.9,1333.8 2290.1,1315.3 2290.3,1325.3 2290.5,1328.5 2290.7,1340.6 2290.8,1305.8 2290.9,1334.7 2290.9,1344.7 2291.1,1340.4 2291.3,1332.7 2291.5,1303.7 2291.7,1327.9 2291.9,1318.7 2292.1,1323.8 2292.3,1322.3 2292.5,1333.2 2292.7,1301.6 2292.9,1323.7 2293.1,1316.8 2293.1,1298.9 2293.2,1337.8 2293.3,1306.0 2293.5,1317.7 2293.7,1324.6 2293.9,1321.7 2294.1,1323.4 2294.3,1319.0 2294.5,1327.9 2294.7,1325.5 2294.9,1318.0 2295.1,1343.1 2295.3,1317.9 2295.4,1314.9 2295.5,1338.7 2295.5,1344.7 2295.7,1321.9 2295.9,1319.3 2296.1,1329.0 2296.3,1316.3 2296.5,1311.2 2296.7,1314.5 2296.9,1326.4 2297.1,1305.2 2297.3,1328.6 2297.5,1321.6 2297.7,1298.9 2297.7,1320.0 2297.8,1326.4 2297.9,1315.5 2298.1,1303.5 2298.3,1306.1 2298.5,1312.7 2298.7,1314.9 2298.9,1313.3 2299.1,1305.3 2299.3,1300.2 2299.5,1320.9 2299.7,1290.3 2299.9,1301.6 2300.0,1280.5 2300.1,1319.5 2300.1,1286.0 2300.3,1311.7 2300.5,1287.7 2300.7,1301.2 2300.9,1313.4 2301.1,1255.4 2301.3,1264.7 2301.5,1246.4 2301.7,1249.3 2301.8,1239.3 2301.9,1247.6 2301.9,1314.9 2302.1,1260.4 2302.3,1303.4 2302.5,1278.3 2302.7,1288.3 2302.9,1307.5 2303.1,1286.1 2303.3,1281.9 2303.5,1302.2 2303.7,1290.6 2303.9,1275.0 2304.1,1267.9 2304.3,1281.3 2304.5,1290.5 2304.6,1273.7 2304.7,1308.0 2304.7,1282.4 2304.9,1294.1 2305.1,1302.5 2305.3,1293.8 2305.5,1270.9 2305.7,1280.7 2305.9,1275.5 2306.1,1288.0 2306.3,1284.3 2306.5,1279.3 2306.7,1277.4 2306.9,1266.8 2306.9,1275.1 2307.0,1287.4 2307.1,1271.1 2307.3,1279.5 2307.5,1274.0 2307.7,1279.2 2307.9,1292.6 2308.1,1282.2 2308.3,1292.8 2308.5,1289.2 2308.7,1279.6 2308.9,1296.4 2309.1,1286.1 2309.1,1269.1 2309.2,1310.3 2309.3,1294.0 2309.5,1286.0 2309.7,1296.6 2309.9,1288.2 2310.1,1279.4 2310.3,1270.7 2310.5,1292.7 2310.7,1272.0 2310.9,1273.2 2311.1,1269.8 2311.3,1264.2 2311.4,1248.5 2311.5,1253.2 2311.5,1280.5 2311.7,1258.2 2311.9,1251.0 2312.1,1266.2 2312.3,1270.2 2312.5,1246.3 2312.7,1250.6 2312.9,1254.4 2313.1,1236.0 2313.3,1236.0 2313.5,1232.9 2313.7,1250.7 2313.7,1218.7 2313.8,1253.1 2313.9,1241.6 2314.1,1226.9 2314.3,1234.8 2314.5,1233.8 2314.7,1232.9 2314.9,1214.0 2315.1,1230.4 2315.3,1232.2 2315.5,1234.7 2315.7,1230.0 2315.9,1222.5 2316.0,1209.5 2316.1,1223.3 2316.1,1243.9 2316.3,1234.2 2316.5,1243.4 2316.7,1214.9 2316.9,1235.1 2317.1,1235.5 2317.3,1218.6 2317.5,1194.7 2317.7,1225.4 2317.9,1210.2 2318.1,1206.6 2318.3,1222.2 2318.3,1186.6 2318.4,1241.6 2318.5,1196.1 2318.7,1188.7 2318.9,1223.3 2319.1,1222.0 2319.3,1222.8 2319.5,1205.8 2319.7,1138.5 2319.7,1193.3 2319.8,1237.0 2319.9,1209.8 2320.1,1225.7 2320.3,1238.0 2320.5,1217.5 2320.7,1225.5 2320.9,1202.3 2321.1,1233.8 2321.3,1244.2 2321.5,1245.1 2321.7,1223.0 2321.7,1191.2 2321.8,1246.2 2321.9,1198.0 2322.1,1216.2 2322.3,1237.5 2322.5,1221.0 2322.7,1230.9 2322.9,1269.2 2323.1,1228.8 2323.3,1233.1 2323.5,1257.8 2323.7,1261.5 2323.9,1289.2 2324.0,1241.6 2324.1,1275.8 2324.1,1292.0 2324.3,1281.9 2324.5,1282.9 2324.7,1260.2 2324.9,1258.1 2325.1,1266.2 2325.3,1289.2 2325.5,1270.3 2325.7,1311.5 2325.9,1302.7 2326.1,1315.1 2326.3,1320.2 2326.3,1280.5 2326.4,1337.8 2326.5,1311.5 2326.7,1284.2 2326.9,1296.4 2327.1,1310.8 2327.3,1286.6 2327.5,1303.3 2327.7,1289.6 2327.9,1313.8 2328.1,1311.3 2328.3,1306.5 2328.5,1310.9 2328.6,1282.8 2328.7,1316.6 2328.7,1326.4 2328.9,1304.4 2329.1,1306.8 2329.3,1313.9 2329.5,1305.7 2329.7,1303.1 2329.9,1299.7 2330.1,1296.1 2330.3,1292.4 2330.5,1306.4 2330.7,1302.4 2330.9,1294.7 2330.9,1278.3 2331.0,1319.5 2331.1,1312.4 2331.3,1315.5 2331.5,1303.4 2331.7,1291.7 2331.9,1308.5 2332.1,1304.8 2332.3,1313.9 2332.5,1307.0 2332.7,1322.6 2332.9,1290.3 2333.1,1308.1 2333.2,1278.3 2333.3,1304.3 2333.3,1337.8 2333.5,1315.4 2333.7,1298.0 2333.9,1297.5 2334.1,1286.3 2334.3,1310.7 2334.5,1342.6 2334.7,1341.9 2334.9,1303.5 2335.1,1311.2 2335.3,1319.2 2335.5,1276.0 2335.5,1280.5 2335.6,1347.0 2335.7,1326.6 2335.9,1339.7 2336.1,1316.6 2336.3,1294.3 2336.5,1303.3 2336.7,1331.8 2336.9,1323.4 2337.1,1328.2 2337.3,1337.0 2337.5,1334.0 2337.7,1333.9 2337.8,1326.4 2337.9,1347.0 2337.9,1334.6 2338.1,1325.0 2338.3,1343.4 2338.5,1343.7 2338.7,1331.4 2338.9,1336.8 2339.1,1327.4 2339.3,1338.2 2339.5,1332.7 2339.7,1328.3 2339.9,1326.6 2340.1,1314.9 2340.1,1340.9 2340.2,1347.0 2340.3,1332.6 2340.5,1337.7 2340.7,1329.0 2340.9,1347.8 2341.1,1339.4 2341.3,1330.8 2341.5,1346.2 2341.7,1334.8 2341.9,1346.3 2342.1,1346.2 2342.3,1349.2 2342.4,1337.8 2342.5,1349.3 2342.5,1342.9 2342.7,1339.0 2342.9,1345.0 2343.1,1345.9 2343.3,1344.2 2343.5,1343.5 2343.7,1347.9 2343.9,1346.0 2344.1,1340.7 2344.3,1343.8 2344.5,1339.6 2344.7,1337.8 2344.7,1341.9 2344.8,1347.0 2344.9,1337.7 2345.1,1339.6 2345.3,1338.6 2345.5,1336.3 2345.7,1340.8 2345.9,1341.4 2346.1,1338.7 2346.3,1335.6 2346.5,1344.4 2346.7,1339.0 2346.9,1337.7 2346.9,1333.2 2347.0,1344.7 2347.1,1337.2 2347.3,1341.8 2347.5,1335.1 2347.7,1338.4 2347.9,1334.0 2348.1,1341.1 2348.3,1334.9 2348.5,1334.3 2348.7,1338.9 2348.9,1338.4 2349.1,1339.5 2349.2,1331.0 2349.3,1338.5 2349.3,1342.4 2349.5,1342.7 2349.7,1330.1 2349.9,1335.6 2350.1,1336.5 2350.3,1333.5 2350.5,1340.5 2350.7,1337.0 2350.9,1331.6 2351.1,1339.3 2351.3,1320.0 2351.5,1327.2 2351.5,1303.5 2351.6,1344.7 2351.7,1318.7 2351.9,1339.0 2352.1,1318.7 2352.3,1319.0 2352.5,1331.6 2352.7,1329.0 2352.9,1319.3 2353.1,1330.0 2353.3,1340.0 2353.5,1331.4 2353.7,1322.6 2353.8,1319.5 2353.9,1330.8 2353.9,1344.7 2354.1,1325.5 2354.3,1327.6 2354.5,1339.3 2354.7,1337.5 2354.9,1342.9 2355.1,1331.4 2355.3,1335.3 2355.5,1331.5 2355.7,1342.0 2355.9,1334.0 2356.1,1334.5 2356.1,1331.0 2356.2,1347.0 2356.3,1331.8 2356.5,1338.8 2356.7,1336.0 2356.9,1333.4 2357.1,1339.3 2357.3,1330.2 2357.5,1322.5 2357.7,1340.6 2357.9,1319.6 2358.1,1318.3 2358.3,1333.4 2358.4,1303.5 2358.5,1321.7 2358.5,1337.8 2358.7,1324.0 2358.9,1307.9 2359.1,1315.5 2359.3,1314.5 2359.5,1325.3 2359.7,1320.1 2359.9,1326.1 2360.1,1317.1 2360.3,1320.9 2360.5,1325.6 2360.7,1310.3 2360.7,1314.9 2360.8,1335.5 2360.9,1315.4 2361.1,1329.5 2361.3,1316.0 2361.5,1333.9 2361.7,1324.9 2361.9,1323.4 2362.1,1315.1 2362.3,1319.0 2362.5,1315.4 2362.7,1299.2 2362.9,1307.1 2363.0,1292.0 2363.1,1331.0 2363.1,1306.8 2363.3,1318.6 2363.5,1303.7 2363.7,1278.8 2363.9,1305.6 2364.1,1296.7 2364.3,1307.8 2364.5,1301.0 2364.7,1270.6 2364.9,1262.8 2365.1,1276.7 2365.3,1267.9 2365.5,1284.3 2365.7,1270.6 2365.9,1277.6 2366.0,1237.0 2366.1,1326.4 2366.1,1295.4 2366.3,1278.8 2366.5,1277.2 2366.7,1299.7 2366.9,1308.1 2367.1,1302.9 2367.3,1273.4 2367.5,1299.8 2367.7,1297.2 2367.9,1312.0 2368.1,1288.3 2368.3,1292.0 2368.3,1305.0 2368.4,1319.5 2368.5,1304.9 2368.7,1307.7 2368.9,1299.0 2369.1,1297.4 2369.3,1301.7 2369.5,1281.3 2369.7,1300.0 2369.9,1275.5 2370.1,1284.1 2370.3,1308.5 2370.5,1301.1 2370.5,1264.5 2370.6,1324.1 2370.7,1301.9 2370.9,1314.1 2371.1,1304.4 2371.3,1304.3 2371.5,1290.6 2371.7,1293.7 2371.9,1320.5 2372.1,1296.1 2372.3,1316.7 2372.5,1311.7 2372.7,1324.5 2372.8,1292.0 2372.9,1303.4 2372.9,1326.4 2373.1,1322.2 2373.3,1308.6 2373.5,1312.5 2373.7,1333.0 2373.9,1333.7 2374.1,1322.9 2374.3,1335.3 2374.5,1329.3 2374.7,1325.9 2374.9,1336.7 2375.1,1320.0 2375.1,1314.9 2375.2,1344.7 2375.3,1321.0 2375.5,1316.8 2375.7,1333.9 2375.9,1326.5 2376.1,1330.1 2376.3,1334.0 2376.5,1334.1 2376.7,1338.8 2376.9,1335.3 2377.1,1343.4 2377.3,1326.6 2377.4,1326.4 2377.5,1342.2 2377.5,1347.0 2377.7,1342.2 2377.9,1332.8 2378.1,1344.5 2378.3,1332.0 2378.5,1345.9 2378.7,1342.7 2378.9,1334.9 2379.1,1331.1 2379.3,1334.7 2379.5,1331.7 2379.7,1328.6 2379.7,1310.3 2379.8,1344.7 2379.9,1331.2 2380.1,1340.0 2380.3,1324.8 2380.5,1317.4 2380.7,1343.7 2380.9,1327.2 2381.1,1331.4 2381.3,1322.6 2381.5,1316.4 2381.7,1334.0 2381.9,1336.5 2382.0,1298.9 2382.1,1342.4 2382.1,1314.2 2382.3,1306.7 2382.5,1313.6 2382.7,1312.3 2382.9,1296.4 2383.1,1313.8 2383.3,1298.8 2383.5,1275.2 2383.7,1284.0 2383.9,1284.0 2384.1,1280.7 2384.3,1237.0 2384.3,1263.9 2384.4,1308.0 2384.5,1284.5 2384.7,1245.0 2384.9,1274.6 2385.1,1256.9 2385.3,1228.7 2385.5,1230.4 2385.7,1198.9 2385.9,1182.0 2385.9,1191.8 2386.0,1303.5 2386.1,1196.5 2386.3,1256.3 2386.5,1247.5 2386.7,1219.5 2386.9,1238.1 2387.1,1229.4 2387.3,1282.9 2387.5,1243.5 2387.7,1268.5 2387.9,1278.3 2388.1,1284.5 2388.2,1237.0 2388.3,1310.3 2388.3,1295.8 2388.5,1270.8 2388.7,1246.6 2388.9,1288.2 2389.1,1290.5 2389.3,1251.4 2389.5,1280.9 2389.7,1289.1 2389.9,1279.6 2390.1,1286.4 2390.3,1268.5 2390.5,1264.5 2390.5,1276.7 2390.6,1314.9 2390.7,1273.8 2390.9,1311.9 2391.1,1291.0 2391.3,1286.1 2391.5,1279.3 2391.7,1293.3 2391.9,1294.2 2392.1,1289.7 2392.3,1277.6 2392.5,1280.9 2392.7,1273.8 2392.8,1269.1 2392.9,1319.5 2392.9,1271.5 2393.1,1301.2 2393.3,1290.5 2393.5,1305.4 2393.7,1299.1 2393.9,1299.2 2394.1,1299.8 2394.3,1305.0 2394.5,1326.4 2394.7,1314.2 2394.9,1301.9 2395.1,1292.0 2395.1,1322.7 2395.2,1328.7 2395.3,1308.3 2395.5,1301.3 2395.7,1298.4 2395.9,1301.0 2396.1,1324.7 2396.3,1327.4 2396.5,1313.7 2396.7,1322.6 2396.9,1314.5 2397.1,1326.5 2397.3,1336.9 2397.3,1314.9 2397.4,1344.7 2397.5,1332.3 2397.7,1325.8 2397.9,1321.3 2398.1,1329.1 2398.3,1330.5 2398.5,1323.6 2398.7,1325.2 2398.9,1332.6 2399.1,1326.3 2399.3,1315.3 2399.5,1333.3 2399.6,1310.3 2399.7,1323.0 2399.7,1337.8 2399.9,1309.0 2400.1,1331.4 2400.3,1333.6 2400.5,1324.2 2400.7,1315.5 2400.9,1310.4 2401.1,1315.0 2401.3,1302.0 2401.5,1322.3 2401.7,1321.8 2401.9,1306.5 2401.9,1298.9 2402.0,1333.2 2402.1,1332.0 2402.3,1324.1 2402.5,1330.1 2402.7,1321.3 2402.9,1327.4 2403.1,1319.7 2403.3,1307.3 2403.5,1317.1 2403.7,1305.3 2403.9,1308.3 2404.1,1315.3 2404.2,1301.2 2404.3,1306.6 2404.3,1331.0 2404.5,1303.8 2404.7,1320.1 2404.9,1312.7 2405.1,1312.4 2405.3,1315.0 2405.5,1300.1 2405.7,1313.5 2405.9,1303.3 2406.1,1315.1 2406.3,1313.9 2406.5,1310.8 2406.5,1292.0 2406.6,1328.7 2406.7,1324.8 2406.9,1309.5 2407.1,1312.4 2407.3,1307.4 2407.5,1308.4 2407.7,1318.1 2407.9,1324.5 2408.1,1304.1 2408.3,1296.8 2408.5,1295.2 2408.7,1295.7 2408.8,1271.4 2408.9,1314.0 2408.9,1321.8 2409.1,1287.4 2409.3,1275.5 2409.5,1266.4 2409.7,1288.2 2409.9,1290.7 2410.1,1284.8 2410.3,1285.9 2410.4,1259.9 2410.5,1288.3 2410.5,1317.2 2410.7,1276.5 2410.9,1288.7 2411.1,1273.6 2411.3,1284.9 2411.5,1318.3 2411.7,1297.5 2411.9,1293.0 2412.1,1288.9 2412.3,1291.7 2412.5,1311.1 2412.7,1264.5 2412.7,1279.9 2412.8,1319.5 2412.9,1292.9 2413.1,1290.1 2413.3,1309.6 2413.5,1302.8 2413.7,1288.5 2413.9,1276.5 2414.1,1306.6 2414.3,1313.1 2414.5,1295.0 2414.7,1315.3 2414.9,1289.6 2415.0,1287.4 2415.1,1319.5 2415.1,1291.3 2415.3,1288.0 2415.5,1308.4 2415.7,1300.2 2415.9,1309.5 2416.1,1289.6 2416.3,1309.2 2416.5,1305.1 2416.7,1317.2 2416.9,1309.0 2417.1,1294.3 2417.3,1292.0 2417.3,1317.6 2417.4,1319.5 2417.5,1306.3 2417.7,1315.2 2417.9,1298.6 2418.1,1308.8 2418.3,1313.4 2418.5,1314.4 2418.7,1312.5 2418.9,1296.8 2419.1,1303.9 2419.3,1298.3 2419.5,1309.2 2419.6,1292.0 2419.7,1321.8 2419.7,1284.2 2419.9,1311.7 2420.1,1272.0 2420.3,1287.1 2420.5,1247.8 2420.7,1295.8 2420.9,1290.0 2421.1,1197.4 2421.3,1186.1 2421.5,1233.7 2421.7,1163.6 2421.9,1147.7 2421.9,1201.8 2422.0,1269.1 2422.1,1242.3 2422.3,1186.2 2422.5,1204.1 2422.7,1210.4 2422.9,1228.4 2423.1,1251.1 2423.3,1246.8 2423.5,1210.9 2423.7,1219.5 2423.9,1248.3 2424.1,1267.2 2424.2,1223.3 2424.3,1276.0 2424.3,1244.4 2424.5,1244.7 2424.7,1256.1 2424.9,1260.6 2425.1,1269.7 2425.3,1269.2 2425.5,1277.6 2425.7,1272.7 2425.9,1291.7 2426.0,1269.1 2426.1,1301.2 2426.1,1286.6 2426.3,1274.3 2426.5,1262.3 2426.7,1246.0 2426.9,1230.4 2427.1,1237.4 2427.3,1222.6 2427.5,1212.3 2427.7,1226.2 2427.9,1194.1 2428.1,1208.3 2428.3,1154.5 2428.3,1206.8 2428.4,1207.2 2428.5,1194.7 2428.7,1173.6 2428.9,1180.0 2429.1,1170.5 2429.3,1172.8 2429.5,1171.3 2429.7,1158.2 2429.9,1164.4" fill="none" stroke="#6a20c8" stroke-width="1.4" stroke-linejoin="miter" stroke-miterlimit="3" clip-path="url(#clipF)"/>
<rect x="502.40" y="125.70" width="228.80" height="41.80" fill="#fff" stroke="#8c8c8c" stroke-width="1.4"/>
<line x1="516.00" y1="146.60" x2="539.40" y2="146.60" stroke="#7850b8" stroke-width="1.7"/>
<rect x="1436.40" y="137.40" width="165.10" height="41.10" fill="#fff" stroke="#8c8c8c" stroke-width="1.4"/>
<line x1="1449.80" y1="157.70" x2="1473.10" y2="157.70" stroke="#7850b8" stroke-width="1.7"/>
<rect x="2266.50" y="142.50" width="177.20" height="41.70" fill="#fff" stroke="#8c8c8c" stroke-width="1.4"/>
<line x1="2279.80" y1="163.00" x2="2304.00" y2="163.00" stroke="#7850b8" stroke-width="1.7"/>
<rect x="489.40" y="883.40" width="77.00" height="39.90" fill="#fff" stroke="#a2a2a2" stroke-width="1.3"/>
<line x1="499.30" y1="903.10" x2="516.40" y2="903.10" stroke="#9400dc" stroke-width="2.0"/>
<text transform="translate(234.98,26.84) scale(1.4196,1)" font-family="Liberation Serif, serif" font-size="33.30" font-weight="normal" fill="#000">GROMACS Energies</text>
<text transform="translate(563.00,153.78) scale(1.4339,1)" font-family="Liberation Serif, serif" font-size="21.93" font-weight="normal" fill="#000">Temperature</text>
<text transform="translate(378.99,712.01) scale(1.3500,1)" font-family="Liberation Serif, serif" font-size="23.30" font-weight="normal" fill="#000">Time (ps)</text>
<text transform="translate(25.63,365.25) scale(1.4433,1) rotate(-90)" font-family="Liberation Serif, serif" font-size="22.14" text-anchor="middle" fill="#000">(K)</text>
<text transform="translate(46.42,657.04) scale(1.3435,1)" font-family="Liberation Serif, serif" font-size="23.14" font-weight="normal" fill="#000">298</text>
<text transform="translate(46.42,543.92) scale(1.3435,1)" font-family="Liberation Serif, serif" font-size="23.14" font-weight="normal" fill="#000">299</text>
<text transform="translate(46.42,430.80) scale(1.3435,1)" font-family="Liberation Serif, serif" font-size="23.14" font-weight="normal" fill="#000">300</text>
<text transform="translate(46.42,317.68) scale(1.3435,1)" font-family="Liberation Serif, serif" font-size="23.14" font-weight="normal" fill="#000">301</text>
<text transform="translate(46.42,204.56) scale(1.3435,1)" font-family="Liberation Serif, serif" font-size="23.14" font-weight="normal" fill="#000">302</text>
<text transform="translate(46.42,91.44) scale(1.3435,1)" font-family="Liberation Serif, serif" font-size="23.14" font-weight="normal" fill="#000">303</text>
<text transform="translate(94.85,678.00) scale(1.3260,1)" font-family="Liberation Serif, serif" font-size="24.25" font-weight="normal" fill="#000">0</text>
<text transform="translate(221.62,678.00) scale(1.3260,1)" font-family="Liberation Serif, serif" font-size="24.25" font-weight="normal" fill="#000">20</text>
<text transform="translate(355.94,678.00) scale(1.3260,1)" font-family="Liberation Serif, serif" font-size="24.25" font-weight="normal" fill="#000">40</text>
<text transform="translate(490.26,678.00) scale(1.3260,1)" font-family="Liberation Serif, serif" font-size="24.25" font-weight="normal" fill="#000">60</text>
<text transform="translate(624.58,678.00) scale(1.3260,1)" font-family="Liberation Serif, serif" font-size="24.25" font-weight="normal" fill="#000">80</text>
<text transform="translate(751.35,678.00) scale(1.3260,1)" font-family="Liberation Serif, serif" font-size="24.25" font-weight="normal" fill="#000">100</text>
<text transform="translate(1088.48,52.01) scale(1.3270,1)" font-family="Liberation Serif, serif" font-size="35.10" font-weight="normal" fill="#000">GROMACS Energies</text>
<text transform="translate(1494.99,165.03) scale(1.3325,1)" font-family="Liberation Serif, serif" font-size="22.93" font-weight="normal" fill="#000">Density</text>
<text transform="translate(1230.00,736.39) scale(1.4357,1)" font-family="Liberation Serif, serif" font-size="21.55" font-weight="normal" fill="#000">Time (ps)</text>
<text transform="translate(861.68,390.49) scale(1.3103,1) rotate(-90)" font-family="Liberation Serif, serif" font-size="22.45" text-anchor="middle" fill="#000">(kg/m^3)</text>
<text transform="translate(897.60,663.90) scale(1.3769,1)" font-family="Liberation Serif, serif" font-size="23.18" font-weight="normal" fill="#000">990</text>
<text transform="translate(897.60,572.75) scale(1.3769,1)" font-family="Liberation Serif, serif" font-size="23.18" font-weight="normal" fill="#000">995</text>
<text transform="translate(882.77,481.60) scale(1.3769,1)" font-family="Liberation Serif, serif" font-size="23.18" font-weight="normal" fill="#000">1000</text>
<text transform="translate(882.77,390.45) scale(1.3769,1)" font-family="Liberation Serif, serif" font-size="23.18" font-weight="normal" fill="#000">1005</text>
<text transform="translate(882.77,299.30) scale(1.3769,1)" font-family="Liberation Serif, serif" font-size="23.18" font-weight="normal" fill="#000">1010</text>
<text transform="translate(882.77,208.15) scale(1.3769,1)" font-family="Liberation Serif, serif" font-size="23.18" font-weight="normal" fill="#000">1015</text>
<text transform="translate(882.77,117.00) scale(1.3769,1)" font-family="Liberation Serif, serif" font-size="23.18" font-weight="normal" fill="#000">1020</text>
<text transform="translate(948.28,703.03) scale(1.2584,1)" font-family="Liberation Serif, serif" font-size="24.98" font-weight="normal" fill="#000">0</text>
<text transform="translate(1066.62,703.03) scale(1.2584,1)" font-family="Liberation Serif, serif" font-size="24.98" font-weight="normal" fill="#000">200</text>
<text transform="translate(1199.76,703.03) scale(1.2584,1)" font-family="Liberation Serif, serif" font-size="24.98" font-weight="normal" fill="#000">400</text>
<text transform="translate(1332.90,703.03) scale(1.2584,1)" font-family="Liberation Serif, serif" font-size="24.98" font-weight="normal" fill="#000">600</text>
<text transform="translate(1466.04,703.03) scale(1.2584,1)" font-family="Liberation Serif, serif" font-size="24.98" font-weight="normal" fill="#000">800</text>
<text transform="translate(1591.78,703.03) scale(1.2584,1)" font-family="Liberation Serif, serif" font-size="24.98" font-weight="normal" fill="#000">1000</text>
<text transform="translate(1937.98,50.83) scale(1.3243,1)" font-family="Liberation Serif, serif" font-size="36.04" font-weight="normal" fill="#000">GROMACS Energies</text>
<text transform="translate(2325.98,170.78) scale(1.4702,1)" font-family="Liberation Serif, serif" font-size="21.68" font-weight="normal" fill="#000">Pressure</text>
<text transform="translate(2082.50,734.99) scale(1.5239,1)" font-family="Liberation Serif, serif" font-size="20.89" font-weight="normal" fill="#000">Time (ps)</text>
<text transform="translate(1714.67,389.01) scale(1.3962,1) rotate(-90)" font-family="Liberation Serif, serif" font-size="22.97" text-anchor="middle" fill="#000">(bar)</text>
<text transform="translate(1742.12,635.60) scale(1.3657,1)" font-family="Liberation Serif, serif" font-size="22.39" font-weight="normal" fill="#000">-300</text>
<text transform="translate(1742.12,560.40) scale(1.3657,1)" font-family="Liberation Serif, serif" font-size="22.39" font-weight="normal" fill="#000">-200</text>
<text transform="translate(1742.12,485.20) scale(1.3657,1)" font-family="Liberation Serif, serif" font-size="22.39" font-weight="normal" fill="#000">-100</text>
<text transform="translate(1777.37,410.00) scale(1.3657,1)" font-family="Liberation Serif, serif" font-size="22.39" font-weight="normal" fill="#000">0</text>
<text transform="translate(1750.97,334.80) scale(1.3657,1)" font-family="Liberation Serif, serif" font-size="22.39" font-weight="normal" fill="#000">100</text>
<text transform="translate(1750.97,259.60) scale(1.3657,1)" font-family="Liberation Serif, serif" font-size="22.39" font-weight="normal" fill="#000">200</text>
<text transform="translate(1750.97,184.40) scale(1.3657,1)" font-family="Liberation Serif, serif" font-size="22.39" font-weight="normal" fill="#000">300</text>
<text transform="translate(1798.23,701.55) scale(1.3121,1)" font-family="Liberation Serif, serif" font-size="24.98" font-weight="normal" fill="#000">0</text>
<text transform="translate(1909.43,701.55) scale(1.3121,1)" font-family="Liberation Serif, serif" font-size="24.98" font-weight="normal" fill="#000">200</text>
<text transform="translate(2036.03,701.55) scale(1.3121,1)" font-family="Liberation Serif, serif" font-size="24.98" font-weight="normal" fill="#000">400</text>
<text transform="translate(2162.63,701.55) scale(1.3121,1)" font-family="Liberation Serif, serif" font-size="24.98" font-weight="normal" fill="#000">600</text>
<text transform="translate(2289.23,701.55) scale(1.3121,1)" font-family="Liberation Serif, serif" font-size="24.98" font-weight="normal" fill="#000">800</text>
<text transform="translate(2408.13,701.55) scale(1.3121,1)" font-family="Liberation Serif, serif" font-size="24.98" font-weight="normal" fill="#000">1000</text>
<text transform="translate(68.99,787.21) scale(1.0817,1)" font-family="Liberation Serif, serif" font-size="31.56" font-weight="normal" fill="#000">Radius of gyration (total and around axes)</text>
<text transform="translate(532.47,909.69) scale(1.1080,1)" font-family="Liberation Serif, serif" font-size="20.17" font-weight="normal" fill="#000">Rg</text>
<text transform="translate(76.90,1382.25) scale(1.1494,1)" font-family="Liberation Serif, serif" font-size="21.38" font-weight="normal" fill="#000">2.6</text>
<text transform="translate(76.90,1248.50) scale(1.1494,1)" font-family="Liberation Serif, serif" font-size="21.38" font-weight="normal" fill="#000">2.7</text>
<text transform="translate(76.90,1114.75) scale(1.1494,1)" font-family="Liberation Serif, serif" font-size="21.38" font-weight="normal" fill="#000">2.8</text>
<text transform="translate(76.90,981.00) scale(1.1494,1)" font-family="Liberation Serif, serif" font-size="21.38" font-weight="normal" fill="#000">2.9</text>
<text transform="translate(93.64,847.25) scale(1.1494,1)" font-family="Liberation Serif, serif" font-size="21.38" font-weight="normal" fill="#000">3</text>
<text transform="translate(108.59,1402.48) scale(1.0042,1)" font-family="Liberation Serif, serif" font-size="22.95" font-weight="normal" fill="#000">0</text>
<text transform="translate(183.35,1402.48) scale(1.0042,1)" font-family="Liberation Serif, serif" font-size="22.95" font-weight="normal" fill="#000">10000</text>
<text transform="translate(280.15,1402.48) scale(1.0042,1)" font-family="Liberation Serif, serif" font-size="22.95" font-weight="normal" fill="#000">20000</text>
<text transform="translate(376.95,1402.48) scale(1.0042,1)" font-family="Liberation Serif, serif" font-size="22.95" font-weight="normal" fill="#000">30000</text>
<text transform="translate(473.75,1402.48) scale(1.0042,1)" font-family="Liberation Serif, serif" font-size="22.95" font-weight="normal" fill="#000">40000</text>
<text transform="translate(570.55,1402.48) scale(1.0042,1)" font-family="Liberation Serif, serif" font-size="22.95" font-weight="normal" fill="#000">50000</text>
<text transform="translate(312.99,1433.96) scale(1.0709,1)" font-family="Liberation Serif, serif" font-size="21.19" font-weight="normal" fill="#000">Time (ps)</text>
<text transform="translate(63.80,1107.51) scale(1.0340,1) rotate(-90)" font-family="Liberation Serif, serif" font-size="21.09" text-anchor="middle" fill="#000">Rg (nm)</text>
<text transform="translate(1094.97,792.15) scale(0.9485,1)" font-family="Liberation Serif, serif" font-size="36.10" font-weight="normal" fill="#000">RMSD</text>
<text transform="translate(985.99,825.34) scale(1.0472,1)" font-family="Liberation Serif, serif" font-size="21.66" font-weight="normal" fill="#000">Backbone after lsq fit to Backbone</text>
<text transform="translate(720.22,1421.05) scale(0.8819,1)" font-family="Liberation Serif, serif" font-size="24.76" font-weight="normal" fill="#000">0</text>
<text transform="translate(703.72,1279.70) scale(0.8819,1)" font-family="Liberation Serif, serif" font-size="24.76" font-weight="normal" fill="#000">0.5</text>
<text transform="translate(720.22,1138.35) scale(0.8819,1)" font-family="Liberation Serif, serif" font-size="24.76" font-weight="normal" fill="#000">1</text>
<text transform="translate(703.72,997.00) scale(0.8819,1)" font-family="Liberation Serif, serif" font-size="24.76" font-weight="normal" fill="#000">1.5</text>
<text transform="translate(720.22,855.65) scale(0.8819,1)" font-family="Liberation Serif, serif" font-size="24.76" font-weight="normal" fill="#000">2</text>
<text transform="translate(732.98,1443.00) scale(0.9506,1)" font-family="Liberation Serif, serif" font-size="23.76" font-weight="normal" fill="#000">0</text>
<text transform="translate(872.58,1443.00) scale(0.9506,1)" font-family="Liberation Serif, serif" font-size="23.76" font-weight="normal" fill="#000">10000</text>
<text transform="translate(1034.18,1443.00) scale(0.9506,1)" font-family="Liberation Serif, serif" font-size="23.76" font-weight="normal" fill="#000">20000</text>
<text transform="translate(1195.78,1443.00) scale(0.9506,1)" font-family="Liberation Serif, serif" font-size="23.76" font-weight="normal" fill="#000">30000</text>
<text transform="translate(1357.38,1443.00) scale(0.9506,1)" font-family="Liberation Serif, serif" font-size="23.76" font-weight="normal" fill="#000">40000</text>
<text transform="translate(1518.98,1443.00) scale(0.9506,1)" font-family="Liberation Serif, serif" font-size="23.76" font-weight="normal" fill="#000">50000</text>
<text transform="translate(1100.00,1475.95) scale(0.9667,1)" font-family="Liberation Serif, serif" font-size="23.47" font-weight="normal" fill="#000">Time (ps)</text>
<text transform="translate(687.59,1130.25) scale(1.0212,1) rotate(-90)" font-family="Liberation Serif, serif" font-size="22.65" text-anchor="middle" fill="#000">RMSD (nm)</text>
<text transform="translate(1955.49,785.17) scale(1.0320,1)" font-family="Liberation Serif, serif" font-size="33.00" font-weight="normal" fill="#000">RMS fluctuation</text>
<text transform="translate(1647.70,1408.45) scale(0.9698,1)" font-family="Liberation Serif, serif" font-size="22.51" font-weight="normal" fill="#000">0</text>
<text transform="translate(1631.20,1268.30) scale(0.9698,1)" font-family="Liberation Serif, serif" font-size="22.51" font-weight="normal" fill="#000">0.5</text>
<text transform="translate(1647.70,1128.15) scale(0.9698,1)" font-family="Liberation Serif, serif" font-size="22.51" font-weight="normal" fill="#000">1</text>
<text transform="translate(1631.20,988.00) scale(0.9698,1)" font-family="Liberation Serif, serif" font-size="22.51" font-weight="normal" fill="#000">1.5</text>
<text transform="translate(1647.70,847.85) scale(0.9698,1)" font-family="Liberation Serif, serif" font-size="22.51" font-weight="normal" fill="#000">2</text>
<text transform="translate(1659.17,1430.01) scale(1.0113,1)" font-family="Liberation Serif, serif" font-size="22.59" font-weight="normal" fill="#000">0</text>
<text transform="translate(1758.17,1430.01) scale(1.0113,1)" font-family="Liberation Serif, serif" font-size="22.59" font-weight="normal" fill="#000">1000</text>
<text transform="translate(1873.67,1430.01) scale(1.0113,1)" font-family="Liberation Serif, serif" font-size="22.59" font-weight="normal" fill="#000">2000</text>
<text transform="translate(1989.17,1430.01) scale(1.0113,1)" font-family="Liberation Serif, serif" font-size="22.59" font-weight="normal" fill="#000">3000</text>
<text transform="translate(2104.67,1430.01) scale(1.0113,1)" font-family="Liberation Serif, serif" font-size="22.59" font-weight="normal" fill="#000">4000</text>
<text transform="translate(2220.17,1430.01) scale(1.0113,1)" font-family="Liberation Serif, serif" font-size="22.59" font-weight="normal" fill="#000">5000</text>
<text transform="translate(2335.67,1430.01) scale(1.0113,1)" font-family="Liberation Serif, serif" font-size="22.59" font-weight="normal" fill="#000">6000</text>
<text transform="translate(2451.17,1430.01) scale(1.0113,1)" font-family="Liberation Serif, serif" font-size="22.59" font-weight="normal" fill="#000">7000</text>
<text transform="translate(2043.98,1463.85) scale(0.9203,1)" font-family="Liberation Serif, serif" font-size="24.33" font-weight="normal" fill="#000">Atom</text>
<text transform="translate(1614.09,1119.76) scale(1.0563,1) rotate(-90)" font-family="Liberation Serif, serif" font-size="21.90" text-anchor="middle" fill="#000">(nm)</text>
<text transform="translate(5.97,37.80) scale(1.0848,1)" font-family="Liberation Sans, serif" font-size="41.70" font-weight="bold" fill="#000" stroke="#000" stroke-width="0.8">A</text>
<text transform="translate(832.56,37.52) scale(1.0168,1)" font-family="Liberation Sans, serif" font-size="42.52" font-weight="bold" fill="#000" stroke="#000" stroke-width="0.8">B</text>
<text transform="translate(1688.45,39.06) scale(0.9275,1)" font-family="Liberation Sans, serif" font-size="43.56" font-weight="bold" fill="#000" stroke="#000" stroke-width="0.8">C</text>
<text transform="translate(3.77,856.04) scale(0.9941,1)" font-family="Liberation Sans, serif" font-size="41.68" font-weight="bold" fill="#000" stroke="#000" stroke-width="0.8">D</text>
<text transform="translate(663.84,856.04) scale(0.9292,1)" font-family="Liberation Sans, serif" font-size="41.68" font-weight="bold" fill="#000" stroke="#000" stroke-width="0.8">E</text>
<text transform="translate(1591.22,856.04) scale(0.9430,1)" font-family="Liberation Sans, serif" font-size="41.68" font-weight="bold" fill="#000" stroke="#000" stroke-width="0.8">F</text>
</svg>
</body></html>
